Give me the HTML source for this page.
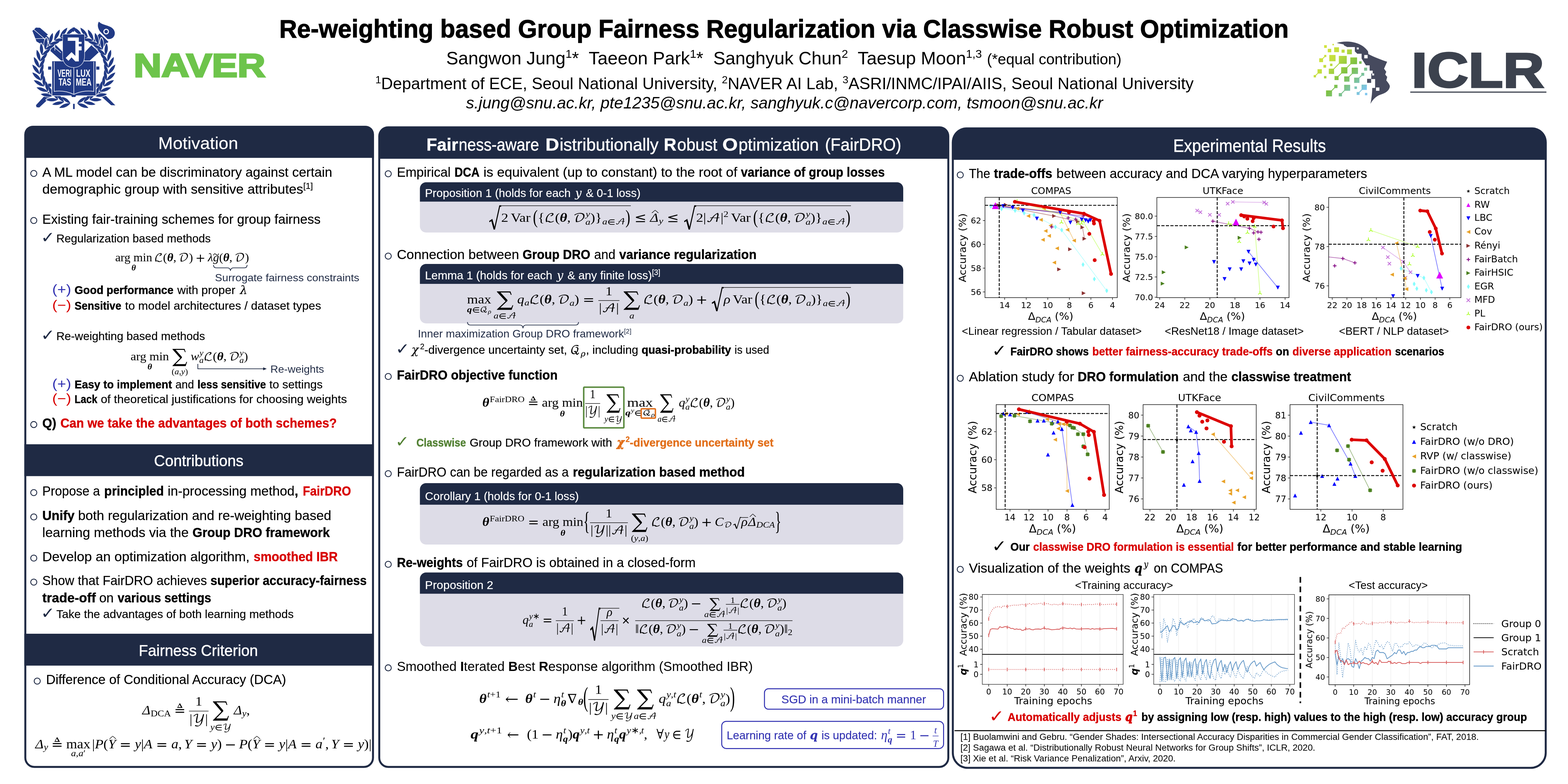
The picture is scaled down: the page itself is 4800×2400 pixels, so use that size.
<!DOCTYPE html>
<html lang="en">
<head>
<meta charset="utf-8">
<title>Re-weighting based Group Fairness Regularization via Classwise Robust Optimization</title>
<style>
html,body{margin:0;padding:0;background:#fff;}
body{width:4800px;height:2400px;overflow:hidden;font-family:'Liberation Sans',sans-serif;}
svg{display:block;}
text{white-space:pre;}
</style>
</head>
<body>
<svg width="4800" height="2400" viewBox="0 0 4800 2400">

<!-- header: logos, title, authors, affiliations -->
<g class="poster-header">
<g class="logo-snu">
<polygon points="99.1,94.2 110.8,84.9 120.1,86.1 353.0,322.5 340.1,322.0 139.9,143.2 111.9,126.9" fill="#213a85"/>
<polygon points="99.8,96.6 128.2,117.5 146.9,105.9 122.4,84.9 109.6,84.5" fill="#213a85"/>
<polyline points="102.6,89.6 186.4,161.8" stroke="#fff" stroke-width="1.6" fill="none"/>
<polyline points="102.6,118.7 132.9,117.5 167.8,138.5 167.8,154.8" stroke="#fff" stroke-width="1.6" fill="none"/>
<polygon points="110.1,322.0 279.6,138.5 302.9,159.5 120.1,329.0 111.9,328.3" fill="#213a85"/>
<polygon points="274.9,131.5 305.2,102.4 332.0,128.0 302.9,158.3" fill="#213a85"/>
<polyline points="278.4,130.3 306.4,156.0" stroke="#fff" stroke-width="2.4" fill="none"/>
<path d="M306.4,96.6 C293.6,77.9 302.9,66.3 302.9,66.3 C314.5,80.3 347.1,75.6 351.3,98.9 C353.0,115.2 337.8,122.2 328.5,118.7 Z" fill="#213a85"/>
<circle cx="325.0" cy="96.6" r="7" fill="none" stroke="#fff" stroke-width="3.2"/>
<ellipse cx="253.6" cy="323.2" rx="19.7" ry="6.5" transform="rotate(22.3 253.6 323.2)" fill="#fff"/>
<ellipse cx="249.9" cy="306.5" rx="17.7" ry="6.0" transform="rotate(-35.7 249.9 306.5)" fill="#fff"/>
<ellipse cx="274.1" cy="316.0" rx="19.7" ry="6.5" transform="rotate(11.6 274.1 316.0)" fill="#fff"/>
<ellipse cx="267.4" cy="300.4" rx="17.7" ry="6.0" transform="rotate(-46.4 267.4 300.4)" fill="#fff"/>
<ellipse cx="292.9" cy="305.2" rx="19.7" ry="6.5" transform="rotate(0.8 292.9 305.2)" fill="#fff"/>
<ellipse cx="283.4" cy="291.1" rx="17.7" ry="6.0" transform="rotate(-57.2 283.4 291.1)" fill="#fff"/>
<ellipse cx="309.4" cy="291.1" rx="19.7" ry="6.5" transform="rotate(-9.9 309.4 291.1)" fill="#fff"/>
<ellipse cx="297.4" cy="279.0" rx="17.7" ry="6.0" transform="rotate(-67.9 297.4 279.0)" fill="#fff"/>
<ellipse cx="322.9" cy="274.1" rx="19.7" ry="6.5" transform="rotate(-20.7 322.9 274.1)" fill="#fff"/>
<ellipse cx="308.9" cy="264.5" rx="17.7" ry="6.0" transform="rotate(-78.7 308.9 264.5)" fill="#fff"/>
<ellipse cx="333.1" cy="254.9" rx="19.7" ry="6.5" transform="rotate(-31.4 333.1 254.9)" fill="#fff"/>
<ellipse cx="317.4" cy="248.1" rx="17.7" ry="6.0" transform="rotate(-89.4 317.4 248.1)" fill="#fff"/>
<ellipse cx="339.4" cy="234.2" rx="19.7" ry="6.5" transform="rotate(-42.2 339.4 234.2)" fill="#fff"/>
<ellipse cx="322.8" cy="230.4" rx="17.7" ry="6.0" transform="rotate(-100.2 322.8 230.4)" fill="#fff"/>
<ellipse cx="341.8" cy="212.6" rx="19.7" ry="6.5" transform="rotate(-52.9 341.8 212.6)" fill="#fff"/>
<ellipse cx="324.8" cy="212.0" rx="17.7" ry="6.0" transform="rotate(-110.9 324.8 212.0)" fill="#fff"/>
<ellipse cx="340.1" cy="191.0" rx="19.7" ry="6.5" transform="rotate(-63.7 340.1 191.0)" fill="#fff"/>
<ellipse cx="323.3" cy="193.5" rx="17.7" ry="6.0" transform="rotate(-121.7 323.3 193.5)" fill="#fff"/>
<ellipse cx="334.5" cy="170.0" rx="19.7" ry="6.5" transform="rotate(-74.4 334.5 170.0)" fill="#fff"/>
<ellipse cx="318.4" cy="175.7" rx="17.7" ry="6.0" transform="rotate(-132.4 318.4 175.7)" fill="#fff"/>
<ellipse cx="325.0" cy="150.5" rx="19.7" ry="6.5" transform="rotate(-85.2 325.0 150.5)" fill="#fff"/>
<ellipse cx="310.2" cy="159.1" rx="17.7" ry="6.0" transform="rotate(-143.2 310.2 159.1)" fill="#fff"/>
<ellipse cx="312.0" cy="133.1" rx="19.7" ry="6.5" transform="rotate(-95.9 312.0 133.1)" fill="#fff"/>
<ellipse cx="299.1" cy="144.3" rx="17.7" ry="6.0" transform="rotate(-153.9 299.1 144.3)" fill="#fff"/>
<ellipse cx="296.1" cy="118.5" rx="19.7" ry="6.5" transform="rotate(-106.7 296.1 118.5)" fill="#fff"/>
<ellipse cx="285.5" cy="131.8" rx="17.7" ry="6.0" transform="rotate(-164.7 285.5 131.8)" fill="#fff"/>
<ellipse cx="277.6" cy="107.0" rx="19.7" ry="6.5" transform="rotate(-117.4 277.6 107.0)" fill="#fff"/>
<ellipse cx="269.7" cy="122.1" rx="17.7" ry="6.0" transform="rotate(-175.4 269.7 122.1)" fill="#fff"/>
<ellipse cx="257.4" cy="99.2" rx="19.7" ry="6.5" transform="rotate(-128.2 257.4 99.2)" fill="#fff"/>
<ellipse cx="252.4" cy="115.5" rx="17.7" ry="6.0" transform="rotate(-186.2 252.4 115.5)" fill="#fff"/>
<ellipse cx="236.0" cy="95.3" rx="19.7" ry="6.5" transform="rotate(-138.9 236.0 95.3)" fill="#fff"/>
<ellipse cx="234.2" cy="112.3" rx="17.7" ry="6.0" transform="rotate(-196.9 234.2 112.3)" fill="#fff"/>
<ellipse cx="198.4" cy="323.2" rx="19.7" ry="6.5" transform="rotate(157.7 198.4 323.2)" fill="#fff"/>
<ellipse cx="202.1" cy="306.5" rx="17.7" ry="6.0" transform="rotate(215.7 202.1 306.5)" fill="#fff"/>
<ellipse cx="177.9" cy="316.0" rx="19.7" ry="6.5" transform="rotate(168.4 177.9 316.0)" fill="#fff"/>
<ellipse cx="184.7" cy="300.4" rx="17.7" ry="6.0" transform="rotate(226.4 184.7 300.4)" fill="#fff"/>
<ellipse cx="159.1" cy="305.2" rx="19.7" ry="6.5" transform="rotate(179.2 159.1 305.2)" fill="#fff"/>
<ellipse cx="168.7" cy="291.1" rx="17.7" ry="6.0" transform="rotate(237.2 168.7 291.1)" fill="#fff"/>
<ellipse cx="142.7" cy="291.1" rx="19.7" ry="6.5" transform="rotate(189.9 142.7 291.1)" fill="#fff"/>
<ellipse cx="154.7" cy="279.0" rx="17.7" ry="6.0" transform="rotate(247.9 154.7 279.0)" fill="#fff"/>
<ellipse cx="129.1" cy="274.1" rx="19.7" ry="6.5" transform="rotate(200.7 129.1 274.1)" fill="#fff"/>
<ellipse cx="143.2" cy="264.5" rx="17.7" ry="6.0" transform="rotate(258.7 143.2 264.5)" fill="#fff"/>
<ellipse cx="119.0" cy="254.9" rx="19.7" ry="6.5" transform="rotate(211.4 119.0 254.9)" fill="#fff"/>
<ellipse cx="134.6" cy="248.1" rx="17.7" ry="6.0" transform="rotate(269.4 134.6 248.1)" fill="#fff"/>
<ellipse cx="112.6" cy="234.2" rx="19.7" ry="6.5" transform="rotate(222.2 112.6 234.2)" fill="#fff"/>
<ellipse cx="129.3" cy="230.4" rx="17.7" ry="6.0" transform="rotate(280.2 129.3 230.4)" fill="#fff"/>
<ellipse cx="110.2" cy="212.6" rx="19.7" ry="6.5" transform="rotate(232.9 110.2 212.6)" fill="#fff"/>
<ellipse cx="127.3" cy="212.0" rx="17.7" ry="6.0" transform="rotate(290.9 127.3 212.0)" fill="#fff"/>
<ellipse cx="111.9" cy="191.0" rx="19.7" ry="6.5" transform="rotate(243.7 111.9 191.0)" fill="#fff"/>
<ellipse cx="128.8" cy="193.5" rx="17.7" ry="6.0" transform="rotate(301.7 128.8 193.5)" fill="#fff"/>
<ellipse cx="117.6" cy="170.0" rx="19.7" ry="6.5" transform="rotate(254.4 117.6 170.0)" fill="#fff"/>
<ellipse cx="133.7" cy="175.7" rx="17.7" ry="6.0" transform="rotate(312.4 133.7 175.7)" fill="#fff"/>
<ellipse cx="127.1" cy="150.5" rx="19.7" ry="6.5" transform="rotate(265.2 127.1 150.5)" fill="#fff"/>
<ellipse cx="141.8" cy="159.1" rx="17.7" ry="6.0" transform="rotate(323.2 141.8 159.1)" fill="#fff"/>
<ellipse cx="140.0" cy="133.1" rx="19.7" ry="6.5" transform="rotate(275.9 140.0 133.1)" fill="#fff"/>
<ellipse cx="152.9" cy="144.3" rx="17.7" ry="6.0" transform="rotate(333.9 152.9 144.3)" fill="#fff"/>
<ellipse cx="156.0" cy="118.5" rx="19.7" ry="6.5" transform="rotate(286.7 156.0 118.5)" fill="#fff"/>
<ellipse cx="166.6" cy="131.8" rx="17.7" ry="6.0" transform="rotate(344.7 166.6 131.8)" fill="#fff"/>
<ellipse cx="174.4" cy="107.0" rx="19.7" ry="6.5" transform="rotate(297.4 174.4 107.0)" fill="#fff"/>
<ellipse cx="182.4" cy="122.1" rx="17.7" ry="6.0" transform="rotate(355.4 182.4 122.1)" fill="#fff"/>
<ellipse cx="194.7" cy="99.2" rx="19.7" ry="6.5" transform="rotate(308.2 194.7 99.2)" fill="#fff"/>
<ellipse cx="199.7" cy="115.5" rx="17.7" ry="6.0" transform="rotate(366.2 199.7 115.5)" fill="#fff"/>
<ellipse cx="216.0" cy="95.3" rx="19.7" ry="6.5" transform="rotate(318.9 216.0 95.3)" fill="#fff"/>
<ellipse cx="217.9" cy="112.3" rx="17.7" ry="6.0" transform="rotate(376.9 217.9 112.3)" fill="#fff"/>
<path d="M-18.5,0 Q0,-10.0 18.5,0 Q0,10.0 -18.5,0Z" transform="translate(253.6,323.2) rotate(22.3)" fill="#213a85"/>
<path d="M-16.5,0 Q0,-9.0 16.5,0 Q0,9.0 -16.5,0Z" transform="translate(249.9,306.5) rotate(-35.7)" fill="#213a85"/>
<path d="M-18.5,0 Q0,-10.0 18.5,0 Q0,10.0 -18.5,0Z" transform="translate(274.1,316.0) rotate(11.6)" fill="#213a85"/>
<path d="M-16.5,0 Q0,-9.0 16.5,0 Q0,9.0 -16.5,0Z" transform="translate(267.4,300.4) rotate(-46.4)" fill="#213a85"/>
<path d="M-18.5,0 Q0,-10.0 18.5,0 Q0,10.0 -18.5,0Z" transform="translate(292.9,305.2) rotate(0.8)" fill="#213a85"/>
<path d="M-16.5,0 Q0,-9.0 16.5,0 Q0,9.0 -16.5,0Z" transform="translate(283.4,291.1) rotate(-57.2)" fill="#213a85"/>
<path d="M-18.5,0 Q0,-10.0 18.5,0 Q0,10.0 -18.5,0Z" transform="translate(309.4,291.1) rotate(-9.9)" fill="#213a85"/>
<path d="M-16.5,0 Q0,-9.0 16.5,0 Q0,9.0 -16.5,0Z" transform="translate(297.4,279.0) rotate(-67.9)" fill="#213a85"/>
<path d="M-18.5,0 Q0,-10.0 18.5,0 Q0,10.0 -18.5,0Z" transform="translate(322.9,274.1) rotate(-20.7)" fill="#213a85"/>
<path d="M-16.5,0 Q0,-9.0 16.5,0 Q0,9.0 -16.5,0Z" transform="translate(308.9,264.5) rotate(-78.7)" fill="#213a85"/>
<path d="M-18.5,0 Q0,-10.0 18.5,0 Q0,10.0 -18.5,0Z" transform="translate(333.1,254.9) rotate(-31.4)" fill="#213a85"/>
<path d="M-16.5,0 Q0,-9.0 16.5,0 Q0,9.0 -16.5,0Z" transform="translate(317.4,248.1) rotate(-89.4)" fill="#213a85"/>
<path d="M-18.5,0 Q0,-10.0 18.5,0 Q0,10.0 -18.5,0Z" transform="translate(339.4,234.2) rotate(-42.2)" fill="#213a85"/>
<path d="M-16.5,0 Q0,-9.0 16.5,0 Q0,9.0 -16.5,0Z" transform="translate(322.8,230.4) rotate(-100.2)" fill="#213a85"/>
<path d="M-18.5,0 Q0,-10.0 18.5,0 Q0,10.0 -18.5,0Z" transform="translate(341.8,212.6) rotate(-52.9)" fill="#213a85"/>
<path d="M-16.5,0 Q0,-9.0 16.5,0 Q0,9.0 -16.5,0Z" transform="translate(324.8,212.0) rotate(-110.9)" fill="#213a85"/>
<path d="M-18.5,0 Q0,-10.0 18.5,0 Q0,10.0 -18.5,0Z" transform="translate(340.1,191.0) rotate(-63.7)" fill="#213a85"/>
<path d="M-16.5,0 Q0,-9.0 16.5,0 Q0,9.0 -16.5,0Z" transform="translate(323.3,193.5) rotate(-121.7)" fill="#213a85"/>
<path d="M-18.5,0 Q0,-10.0 18.5,0 Q0,10.0 -18.5,0Z" transform="translate(334.5,170.0) rotate(-74.4)" fill="#213a85"/>
<path d="M-16.5,0 Q0,-9.0 16.5,0 Q0,9.0 -16.5,0Z" transform="translate(318.4,175.7) rotate(-132.4)" fill="#213a85"/>
<path d="M-18.5,0 Q0,-10.0 18.5,0 Q0,10.0 -18.5,0Z" transform="translate(325.0,150.5) rotate(-85.2)" fill="#213a85"/>
<path d="M-16.5,0 Q0,-9.0 16.5,0 Q0,9.0 -16.5,0Z" transform="translate(310.2,159.1) rotate(-143.2)" fill="#213a85"/>
<path d="M-18.5,0 Q0,-10.0 18.5,0 Q0,10.0 -18.5,0Z" transform="translate(312.0,133.1) rotate(-95.9)" fill="#213a85"/>
<path d="M-16.5,0 Q0,-9.0 16.5,0 Q0,9.0 -16.5,0Z" transform="translate(299.1,144.3) rotate(-153.9)" fill="#213a85"/>
<path d="M-18.5,0 Q0,-10.0 18.5,0 Q0,10.0 -18.5,0Z" transform="translate(296.1,118.5) rotate(-106.7)" fill="#213a85"/>
<path d="M-16.5,0 Q0,-9.0 16.5,0 Q0,9.0 -16.5,0Z" transform="translate(285.5,131.8) rotate(-164.7)" fill="#213a85"/>
<path d="M-18.5,0 Q0,-10.0 18.5,0 Q0,10.0 -18.5,0Z" transform="translate(277.6,107.0) rotate(-117.4)" fill="#213a85"/>
<path d="M-16.5,0 Q0,-9.0 16.5,0 Q0,9.0 -16.5,0Z" transform="translate(269.7,122.1) rotate(-175.4)" fill="#213a85"/>
<path d="M-18.5,0 Q0,-10.0 18.5,0 Q0,10.0 -18.5,0Z" transform="translate(257.4,99.2) rotate(-128.2)" fill="#213a85"/>
<path d="M-16.5,0 Q0,-9.0 16.5,0 Q0,9.0 -16.5,0Z" transform="translate(252.4,115.5) rotate(-186.2)" fill="#213a85"/>
<path d="M-18.5,0 Q0,-10.0 18.5,0 Q0,10.0 -18.5,0Z" transform="translate(236.0,95.3) rotate(-138.9)" fill="#213a85"/>
<path d="M-16.5,0 Q0,-9.0 16.5,0 Q0,9.0 -16.5,0Z" transform="translate(234.2,112.3) rotate(-196.9)" fill="#213a85"/>
<path d="M-18.5,0 Q0,-10.0 18.5,0 Q0,10.0 -18.5,0Z" transform="translate(198.4,323.2) rotate(157.7)" fill="#213a85"/>
<path d="M-16.5,0 Q0,-9.0 16.5,0 Q0,9.0 -16.5,0Z" transform="translate(202.1,306.5) rotate(215.7)" fill="#213a85"/>
<path d="M-18.5,0 Q0,-10.0 18.5,0 Q0,10.0 -18.5,0Z" transform="translate(177.9,316.0) rotate(168.4)" fill="#213a85"/>
<path d="M-16.5,0 Q0,-9.0 16.5,0 Q0,9.0 -16.5,0Z" transform="translate(184.7,300.4) rotate(226.4)" fill="#213a85"/>
<path d="M-18.5,0 Q0,-10.0 18.5,0 Q0,10.0 -18.5,0Z" transform="translate(159.1,305.2) rotate(179.2)" fill="#213a85"/>
<path d="M-16.5,0 Q0,-9.0 16.5,0 Q0,9.0 -16.5,0Z" transform="translate(168.7,291.1) rotate(237.2)" fill="#213a85"/>
<path d="M-18.5,0 Q0,-10.0 18.5,0 Q0,10.0 -18.5,0Z" transform="translate(142.7,291.1) rotate(189.9)" fill="#213a85"/>
<path d="M-16.5,0 Q0,-9.0 16.5,0 Q0,9.0 -16.5,0Z" transform="translate(154.7,279.0) rotate(247.9)" fill="#213a85"/>
<path d="M-18.5,0 Q0,-10.0 18.5,0 Q0,10.0 -18.5,0Z" transform="translate(129.1,274.1) rotate(200.7)" fill="#213a85"/>
<path d="M-16.5,0 Q0,-9.0 16.5,0 Q0,9.0 -16.5,0Z" transform="translate(143.2,264.5) rotate(258.7)" fill="#213a85"/>
<path d="M-18.5,0 Q0,-10.0 18.5,0 Q0,10.0 -18.5,0Z" transform="translate(119.0,254.9) rotate(211.4)" fill="#213a85"/>
<path d="M-16.5,0 Q0,-9.0 16.5,0 Q0,9.0 -16.5,0Z" transform="translate(134.6,248.1) rotate(269.4)" fill="#213a85"/>
<path d="M-18.5,0 Q0,-10.0 18.5,0 Q0,10.0 -18.5,0Z" transform="translate(112.6,234.2) rotate(222.2)" fill="#213a85"/>
<path d="M-16.5,0 Q0,-9.0 16.5,0 Q0,9.0 -16.5,0Z" transform="translate(129.3,230.4) rotate(280.2)" fill="#213a85"/>
<path d="M-18.5,0 Q0,-10.0 18.5,0 Q0,10.0 -18.5,0Z" transform="translate(110.2,212.6) rotate(232.9)" fill="#213a85"/>
<path d="M-16.5,0 Q0,-9.0 16.5,0 Q0,9.0 -16.5,0Z" transform="translate(127.3,212.0) rotate(290.9)" fill="#213a85"/>
<path d="M-18.5,0 Q0,-10.0 18.5,0 Q0,10.0 -18.5,0Z" transform="translate(111.9,191.0) rotate(243.7)" fill="#213a85"/>
<path d="M-16.5,0 Q0,-9.0 16.5,0 Q0,9.0 -16.5,0Z" transform="translate(128.8,193.5) rotate(301.7)" fill="#213a85"/>
<path d="M-18.5,0 Q0,-10.0 18.5,0 Q0,10.0 -18.5,0Z" transform="translate(117.6,170.0) rotate(254.4)" fill="#213a85"/>
<path d="M-16.5,0 Q0,-9.0 16.5,0 Q0,9.0 -16.5,0Z" transform="translate(133.7,175.7) rotate(312.4)" fill="#213a85"/>
<path d="M-18.5,0 Q0,-10.0 18.5,0 Q0,10.0 -18.5,0Z" transform="translate(127.1,150.5) rotate(265.2)" fill="#213a85"/>
<path d="M-16.5,0 Q0,-9.0 16.5,0 Q0,9.0 -16.5,0Z" transform="translate(141.8,159.1) rotate(323.2)" fill="#213a85"/>
<path d="M-18.5,0 Q0,-10.0 18.5,0 Q0,10.0 -18.5,0Z" transform="translate(140.0,133.1) rotate(275.9)" fill="#213a85"/>
<path d="M-16.5,0 Q0,-9.0 16.5,0 Q0,9.0 -16.5,0Z" transform="translate(152.9,144.3) rotate(333.9)" fill="#213a85"/>
<path d="M-18.5,0 Q0,-10.0 18.5,0 Q0,10.0 -18.5,0Z" transform="translate(156.0,118.5) rotate(286.7)" fill="#213a85"/>
<path d="M-16.5,0 Q0,-9.0 16.5,0 Q0,9.0 -16.5,0Z" transform="translate(166.6,131.8) rotate(344.7)" fill="#213a85"/>
<path d="M-18.5,0 Q0,-10.0 18.5,0 Q0,10.0 -18.5,0Z" transform="translate(174.4,107.0) rotate(297.4)" fill="#213a85"/>
<path d="M-16.5,0 Q0,-9.0 16.5,0 Q0,9.0 -16.5,0Z" transform="translate(182.4,122.1) rotate(355.4)" fill="#213a85"/>
<path d="M-18.5,0 Q0,-10.0 18.5,0 Q0,10.0 -18.5,0Z" transform="translate(194.7,99.2) rotate(308.2)" fill="#213a85"/>
<path d="M-16.5,0 Q0,-9.0 16.5,0 Q0,9.0 -16.5,0Z" transform="translate(199.7,115.5) rotate(366.2)" fill="#213a85"/>
<path d="M-18.5,0 Q0,-10.0 18.5,0 Q0,10.0 -18.5,0Z" transform="translate(216.0,95.3) rotate(318.9)" fill="#213a85"/>
<path d="M-16.5,0 Q0,-9.0 16.5,0 Q0,9.0 -16.5,0Z" transform="translate(217.9,112.3) rotate(376.9)" fill="#213a85"/>
<rect x="223.7" y="317.8" width="5" height="16" fill="#213a85"/>
<circle cx="224.4" cy="94.2" r="3" fill="#213a85"/>
<rect x="157.7" y="185.4" width="137.2" height="108.8" fill="#fff"/>
<path d="M159.7,187.4 H292.9 V292.2 L233.0,292.2 L230.7,296.9 H220.2 L217.9,292.2 H159.7 Z" fill="#213a85"/>
<path d="M165.9,188.8 V279.9 Q196.0,274.9 226.0,288.9 Q256.5,274.9 287.0,279.9 V188.8" fill="none" stroke="#fff" stroke-width="1.7"/>
<line x1="226.0" y1="203.7" x2="226.0" y2="288.9" stroke="#fff" stroke-width="1.7"/>
<rect x="147.3" y="203.7" width="9.5" height="9.5" fill="#213a85"/>
<rect x="294.7" y="203.7" width="9.5" height="9.5" fill="#213a85"/>
<rect x="147.3" y="256.1" width="9.5" height="9.5" fill="#213a85"/>
<rect x="294.7" y="256.1" width="9.5" height="9.5" fill="#213a85"/>
<text id="t1" x="176.0" y="235.1" font-family="'Liberation Sans', sans-serif" font-size="30.5" font-weight="bold" fill="#fff" textLength="43.1" lengthAdjust="spacingAndGlyphs" >VERI</text>
<text id="t2" x="179.5" y="262.4" font-family="'Liberation Sans', sans-serif" font-size="30.5" font-weight="bold" fill="#fff" textLength="38.4" lengthAdjust="spacingAndGlyphs" >TAS</text>
<text id="t3" x="233.0" y="235.1" font-family="'Liberation Sans', sans-serif" font-size="30.5" font-weight="bold" fill="#fff" textLength="43.5" lengthAdjust="spacingAndGlyphs" >LUX</text>
<text id="t4" x="231.9" y="262.4" font-family="'Liberation Sans', sans-serif" font-size="30.5" font-weight="bold" fill="#fff" textLength="48.2" lengthAdjust="spacingAndGlyphs" >MEA</text>
<path d="M192.3,105.2 H258.2 V172.3 C258.2,194.4 243.5,206.0 225.3,206.0 C207.4,206.0 192.3,194.4 192.3,172.3 Z" fill="#213a85" stroke="#fff" stroke-width="2.6" paint-order="stroke"/>
<polygon points="207.4,114.7 241.2,114.7 241.2,128.0 249.8,128.0 249.8,134.3 241.2,134.3 241.2,142.0 249.8,142.0 249.8,154.3 241.2,154.3 241.2,187.9 230.7,187.9 219.0,175.8 209.7,186.2 200.9,177.6 219.0,159.5 230.7,171.1 230.7,125.0 207.4,125.0" fill="#fff"/>
</g>
<g class="logo-naver">
<text x="409.5" y="234.5" font-family="'Liberation Sans', sans-serif" font-size="100.3" font-weight="bold" fill="#6dc44b" stroke="#6dc44b" stroke-width="5" stroke-linejoin="miter" textLength="402.5" lengthAdjust="spacingAndGlyphs">NAVER</text>
</g>
<text id="t5" x="855.0" y="115.4" font-family="'Liberation Sans', sans-serif" font-size="78.5" font-weight="bold" textLength="3090.0" lengthAdjust="spacingAndGlyphs" stroke="#000" stroke-width="1.5">Re-weighting based Group Fairness Regularization via Classwise Robust Optimization</text>
<text id="t6" x="1366.0" y="197.1" font-family="'Liberation Sans', sans-serif" font-size="55.2" textLength="2067.0" lengthAdjust="spacingAndGlyphs" >Sangwon Jung<tspan font-size="35" dy="-20">1</tspan><tspan dy="20">​</tspan>*  Taeeon Park<tspan font-size="35" dy="-20">1</tspan><tspan dy="20">​</tspan>*  Sanghyuk Chun<tspan font-size="35" dy="-20">2</tspan><tspan dy="20">​</tspan>  Taesup Moon<tspan font-size="35" dy="-20">1,3</tspan><tspan dy="20">​</tspan> <tspan font-size="46">(*equal contribution)</tspan></text>
<text id="t7" x="1149.0" y="272.8" font-family="'Liberation Sans', sans-serif" font-size="50" textLength="2505.0" lengthAdjust="spacingAndGlyphs" ><tspan font-size="32" dy="-18">1</tspan><tspan dy="18">​</tspan>Department of ECE, Seoul National University, <tspan font-size="32" dy="-18">2</tspan><tspan dy="18">​</tspan>NAVER AI Lab, <tspan font-size="32" dy="-18">3</tspan><tspan dy="18">​</tspan>ASRI/INMC/IPAI/AIIS, Seoul National University</text>
<text id="t8" x="1426.5" y="331.9" font-family="'Liberation Sans', sans-serif" font-size="50" font-style="italic" textLength="1950.0" lengthAdjust="spacingAndGlyphs" >s.jung@snu.ac.kr, pte1235@snu.ac.kr, sanghyuk.c@navercorp.com, tsmoon@snu.ac.kr</text>
<g class="logo-iclr">
<defs><linearGradient id="iclrg" gradientUnits="userSpaceOnUse" x1="4030" y1="140" x2="4190" y2="295"><stop offset="0" stop-color="#d9e63c"/><stop offset="0.3" stop-color="#c3de3e"/><stop offset="0.55" stop-color="#7dc142"/><stop offset="0.75" stop-color="#7cc3a6"/><stop offset="0.9" stop-color="#7fc6ee"/></linearGradient></defs>
<path d="M4092.0,131.5 C4118.0,123.3 4165.2,124.8 4187.9,157.2 L4188.8,165.5 C4206.5,174.9 4230.1,183.8 4246.3,189.1 L4236.9,210.3 L4243.7,219.8 L4240.4,228.0 L4246.6,235.4 L4243.7,246.3 C4250.8,254.6 4256.1,261.9 4254.3,266.4 C4250.8,282.6 4233.1,287.0 4221.3,291.4 C4206.5,298.8 4199.1,310.6 4195.3,318.0 C4198.3,301.8 4200.6,287.0 4200.6,269.3 L4209.5,269.3 L4209.5,241.9 L4197.7,241.9 L4197.7,225.1 L4202.1,225.1 L4202.1,216.2 L4192.7,216.2 L4192.7,200.0 L4181.4,200.0 L4168.2,179.3 L4168.2,164.6 L4154.9,164.6 L4147.5,157.2 L4147.5,143.9 L4123.9,143.9 L4113.6,138.6 L4113.6,136.0 Z" fill="#464a5e"/>
<rect x="4153.4" y="145.4" width="5.9" height="5.9" fill="#fff"/>
<rect x="4176.3" y="168.3" width="10.3" height="10.3" fill="#fff"/>
<rect x="4200.6" y="225.1" width="5.9" height="5.9" fill="#fff"/>
<rect x="4212.3" y="267.7" width="10.3" height="10.3" fill="#fff"/>
<rect x="4185.0" y="241.3" width="12.4" height="12.4" fill="#464a5e"/>
<g fill="url(#iclrg)" stroke="url(#iclrg)">
<line x1="4056.9" y1="171.4" x2="4044.3" y2="184.3" stroke-width="2.6"/>
<line x1="4110.6" y1="183.2" x2="4075.8" y2="218.3" stroke-width="2.6"/>
<line x1="4144.0" y1="186.1" x2="4115.1" y2="215.3" stroke-width="2.6"/>
<line x1="4039.8" y1="218.6" x2="4025.1" y2="233.3" stroke-width="2.6"/>
<line x1="4115.1" y1="215.3" x2="4091.5" y2="238.9" stroke-width="2.6"/>
<line x1="4147.5" y1="216.8" x2="4123.0" y2="241.9" stroke-width="2.6"/>
<line x1="4171.7" y1="227.4" x2="4153.4" y2="245.7" stroke-width="2.6"/>
<line x1="4089.4" y1="264.6" x2="4068.4" y2="285.8" stroke-width="2.6"/>
<line x1="4123.9" y1="268.7" x2="4103.3" y2="290.0" stroke-width="2.6"/>
<line x1="4176.1" y1="267.3" x2="4157.5" y2="286.1" stroke-width="2.6"/>
<rect x="4053.4" y="138.3" width="8.3" height="8.3" stroke="none"/>
<rect x="4078.9" y="134.3" width="4.4" height="4.4" stroke="none"/>
<rect x="4064.6" y="149.5" width="10.6" height="10.6" stroke="none"/>
<rect x="4084.1" y="144.8" width="14.8" height="14.8" stroke="none"/>
<rect x="4106.8" y="151.9" width="9.4" height="9.4" stroke="none"/>
<rect x="4123.6" y="151.3" width="14.8" height="14.8" stroke="none"/>
<rect x="4053.7" y="168.1" width="6.5" height="6.5" stroke="none"/>
<rect x="4038.4" y="178.4" width="11.8" height="11.8" stroke="none"/>
<rect x="4069.2" y="168.3" width="19.2" height="19.2" stroke="none"/>
<rect x="4098.5" y="171.1" width="24.2" height="24.2" stroke="none"/>
<rect x="4133.6" y="175.8" width="20.7" height="20.7" stroke="none"/>
<rect x="4160.5" y="187.6" width="7.7" height="7.7" stroke="none"/>
<rect x="4071.5" y="194.8" width="7.4" height="7.4" stroke="none"/>
<rect x="4051.3" y="198.8" width="8.3" height="8.3" stroke="none"/>
<rect x="4067.7" y="210.2" width="16.2" height="16.2" stroke="none"/>
<rect x="4105.5" y="205.7" width="19.2" height="19.2" stroke="none"/>
<rect x="4137.9" y="207.2" width="19.2" height="19.2" stroke="none"/>
<rect x="4175.8" y="207.1" width="9.4" height="9.4" stroke="none"/>
<rect x="4033.2" y="211.9" width="13.3" height="13.3" stroke="none"/>
<rect x="4021.5" y="229.8" width="7.1" height="7.1" stroke="none"/>
<rect x="4053.0" y="232.6" width="7.4" height="7.4" stroke="none"/>
<rect x="4085.3" y="232.7" width="12.4" height="12.4" stroke="none"/>
<rect x="4114.9" y="233.8" width="16.2" height="16.2" stroke="none"/>
<rect x="4145.3" y="237.6" width="16.2" height="16.2" stroke="none"/>
<rect x="4167.3" y="223.0" width="8.9" height="8.9" stroke="none"/>
<rect x="4084.4" y="259.6" width="10.0" height="10.0" stroke="none"/>
<rect x="4059.3" y="276.7" width="18.3" height="18.3" stroke="none"/>
<rect x="4114.8" y="259.6" width="18.3" height="18.3" stroke="none"/>
<rect x="4098.2" y="285.0" width="10.0" height="10.0" stroke="none"/>
<rect x="4146.3" y="264.6" width="7.7" height="7.7" stroke="none"/>
<rect x="4168.0" y="259.1" width="16.2" height="16.2" stroke="none"/>
<rect x="4153.1" y="281.7" width="8.9" height="8.9" stroke="none"/>
<rect x="4178.5" y="284.4" width="7.1" height="7.1" stroke="none"/>
</g>
<text x="4321" y="267.3" font-family="'Liberation Sans', sans-serif" font-size="150" font-weight="bold" fill="#3c424e" stroke="#3c424e" stroke-width="5" stroke-linejoin="miter" textLength="406" lengthAdjust="spacingAndGlyphs">ICLR</text>
<line x1="4318.5" y1="282" x2="4732.5" y2="282" stroke="#3c424e" stroke-width="3.6" stroke-linecap="round"/>
</g>
</g>

<!-- left panel: Motivation / Contributions / Fairness Criterion -->
<g class="panel-left">
<path d="M77.5,410.9 V2319.8 A28,28 0 0 0 105.5,2347.8 H1113.8 A28,28 0 0 0 1141.8,2319.8 V410.9" fill="none" stroke="#1f2a44" stroke-width="6" />
<path d="M74.5,483.3 V410.9 A26,26 0 0 1 100.5,384.9 H1118.8 A26,26 0 0 1 1144.8,410.9 V483.3 Z" fill="#1f2a44" />
<rect x="74.5" y="1360.0" width="1070.0" height="97.5" fill="#1f2a44" />
<rect x="74.5" y="1940.0" width="1070.0" height="97.6" fill="#1f2a44" />
<text id="t9" x="484.5" y="456.4" font-family="'Liberation Sans', sans-serif" font-size="52" fill="#fff" textLength="244.5" lengthAdjust="spacingAndGlyphs" stroke="#fff" stroke-width="0.25" >Motivation</text>
<text id="t10" x="471.6" y="1426.6" font-family="'Liberation Sans', sans-serif" font-size="48.5" fill="#fff" textLength="273.7" lengthAdjust="spacingAndGlyphs" stroke="#fff" stroke-width="0.7">Contributions</text>
<text id="t11" x="424.8" y="2008.0" font-family="'Liberation Sans', sans-serif" font-size="48.5" fill="#fff" textLength="364.8" lengthAdjust="spacingAndGlyphs" stroke="#fff" stroke-width="0.7">Fairness Criterion</text>
<circle cx="103.4" cy="531.0" r="9.3" fill="none" stroke="#1f2a44" stroke-width="2.6" />
<text id="t12" x="129.5" y="540.7" font-family="'Liberation Sans', sans-serif" font-size="40.5" textLength="887.5" lengthAdjust="spacingAndGlyphs" stroke="#000" stroke-width="0.25" >A ML model can be discriminatory against certain</text>
<text id="t13" x="129.5" y="593.0" font-family="'Liberation Sans', sans-serif" font-size="40.5" textLength="828.5" lengthAdjust="spacingAndGlyphs" stroke="#000" stroke-width="0.25" >demographic group with sensitive attributes<tspan font-size="26" dy="-15">[1]</tspan><tspan dy="15">​</tspan></text>
<circle cx="103.4" cy="675.0" r="9.3" fill="none" stroke="#1f2a44" stroke-width="2.6" />
<text id="t14" x="129.5" y="684.7" font-family="'Liberation Sans', sans-serif" font-size="40.5" textLength="852.0" lengthAdjust="spacingAndGlyphs" stroke="#000" stroke-width="0.25" >Existing fair-training schemes for group fairness</text>
<text transform="translate(125.1,742.8) scale(1.068,0.997)" font-family="'DejaVu Sans', sans-serif" font-size="48" font-weight="bold" fill="#1f2a44">✓</text>
<text id="t15" x="172.4" y="742.0" font-family="'Liberation Sans', sans-serif" font-size="34.5" textLength="472.6" lengthAdjust="spacingAndGlyphs" stroke="#000" stroke-width="0.25" >Regularization based methods</text>
<text id="t16" x="658.0" y="860.8" font-family="'Liberation Sans', sans-serif" font-size="31.5" fill="#1f2a44" textLength="442.0" lengthAdjust="spacingAndGlyphs" >Surrogate fairness constraints</text>
<text id="t17" x="159.8" y="900.4" font-family="'Liberation Sans', sans-serif" font-size="41" fill="#3333b2" textLength="58.2" lengthAdjust="spacingAndGlyphs" >(+)</text>
<text id="t18" font-family="'Liberation Sans', sans-serif" font-size="34.5"><tspan x="228.3" y="900.4" textLength="302.7" lengthAdjust="spacingAndGlyphs" font-weight="bold" stroke="#000" stroke-width="0.6">Good performance</tspan> <tspan x="542.7" y="900.4" textLength="214.3" lengthAdjust="spacingAndGlyphs" stroke="#000" stroke-width="0.25">with proper <tspan font-family="'DejaVu Math TeX Gyre', 'DejaVu Serif', serif">𝜆</tspan></tspan></text>
<text id="t19" x="159.8" y="947.5" font-family="'Liberation Sans', sans-serif" font-size="41" fill="#d80000" textLength="58.2" lengthAdjust="spacingAndGlyphs" >(−)</text>
<text id="t20" font-family="'Liberation Sans', sans-serif" font-size="34.5"><tspan x="228.3" y="947.5" textLength="143.0" lengthAdjust="spacingAndGlyphs" font-weight="bold" stroke="#000" stroke-width="0.6">Sensitive</tspan> <tspan x="382.9" y="947.5" textLength="600.1" lengthAdjust="spacingAndGlyphs" stroke="#000" stroke-width="0.25">to model architectures / dataset types</tspan></text>
<text transform="translate(125.1,1041.5) scale(1.068,0.997)" font-family="'DejaVu Sans', sans-serif" font-size="48" font-weight="bold" fill="#1f2a44">✓</text>
<text id="t21" x="172.4" y="1040.7" font-family="'Liberation Sans', sans-serif" font-size="34.5" textLength="455.1" lengthAdjust="spacingAndGlyphs" stroke="#000" stroke-width="0.25" >Re-weighting based methods</text>
<text id="t22" x="827.8" y="1140.8" font-family="'Liberation Sans', sans-serif" font-size="31.5" fill="#1f2a44" textLength="164.2" lengthAdjust="spacingAndGlyphs" >Re-weights</text>
<text id="t23" x="159.8" y="1188.8" font-family="'Liberation Sans', sans-serif" font-size="41" fill="#3333b2" textLength="58.2" lengthAdjust="spacingAndGlyphs" >(+)</text>
<text id="t24" font-family="'Liberation Sans', sans-serif" font-size="34.5"><tspan x="228.3" y="1188.8" textLength="298.1" lengthAdjust="spacingAndGlyphs" font-weight="bold" stroke="#000" stroke-width="0.6">Easy to implement</tspan> <tspan x="537.1" y="1188.8" textLength="56.9" lengthAdjust="spacingAndGlyphs" stroke="#000" stroke-width="0.25">and</tspan> <tspan x="604.6" y="1188.8" textLength="209.7" lengthAdjust="spacingAndGlyphs" font-weight="bold" stroke="#000" stroke-width="0.6">less sensitive</tspan> <tspan x="824.5" y="1188.8" textLength="163.1" lengthAdjust="spacingAndGlyphs" stroke="#000" stroke-width="0.25">to settings</tspan></text>
<text id="t25" x="159.8" y="1234.0" font-family="'Liberation Sans', sans-serif" font-size="41" fill="#d80000" textLength="58.2" lengthAdjust="spacingAndGlyphs" >(−)</text>
<text id="t26" font-family="'Liberation Sans', sans-serif" font-size="34.5"><tspan x="228.3" y="1234.0" textLength="69.8" lengthAdjust="spacingAndGlyphs" font-weight="bold" stroke="#000" stroke-width="0.6">Lack</tspan> <tspan x="308.4" y="1234.0" textLength="753.6" lengthAdjust="spacingAndGlyphs" stroke="#000" stroke-width="0.25">of theoretical justifications for choosing weights</tspan></text>
<circle cx="103.4" cy="1299.7" r="9.3" fill="none" stroke="#1f2a44" stroke-width="2.6" />
<text id="t27" font-family="'Liberation Sans', sans-serif" font-size="40.5"><tspan x="129.5" y="1309.0" textLength="42.9" lengthAdjust="spacingAndGlyphs" font-weight="bold" stroke="#000" stroke-width="0.6">Q)</tspan> <tspan x="185.0" y="1309.0" textLength="846.0" lengthAdjust="spacingAndGlyphs" font-weight="bold" fill="#d80000" stroke="#d80000" stroke-width="0.6">Can we take the advantages of both schemes?</tspan></text>
<circle cx="103.4" cy="1508.0" r="9.3" fill="none" stroke="#1f2a44" stroke-width="2.6" />
<text id="t28" font-family="'Liberation Sans', sans-serif" font-size="40.5"><tspan x="129.5" y="1517.4" textLength="176.5" lengthAdjust="spacingAndGlyphs" stroke="#000" stroke-width="0.25">Propose a</tspan> <tspan x="319.1" y="1517.4" textLength="182.6" lengthAdjust="spacingAndGlyphs" font-weight="bold" stroke="#000" stroke-width="0.6">principled</tspan> <tspan x="513.3" y="1517.4" textLength="399.7" lengthAdjust="spacingAndGlyphs" stroke="#000" stroke-width="0.25">in-processing method<tspan font-weight="bold">,</tspan></tspan> <tspan x="927.0" y="1517.4" textLength="147.7" lengthAdjust="spacingAndGlyphs" font-weight="bold" fill="#d80000" stroke="#d80000" stroke-width="0.6">FairDRO</tspan></text>
<circle cx="103.4" cy="1582.5" r="9.3" fill="none" stroke="#1f2a44" stroke-width="2.6" />
<text id="t29" font-family="'Liberation Sans', sans-serif" font-size="40.5"><tspan x="129.5" y="1592.0" textLength="98.8" lengthAdjust="spacingAndGlyphs" font-weight="bold" stroke="#000" stroke-width="0.6">Unify</tspan> <tspan x="239.0" y="1592.0" textLength="775.0" lengthAdjust="spacingAndGlyphs" stroke="#000" stroke-width="0.25">both regularization and re-weighting based</tspan></text>
<text id="t30" font-family="'Liberation Sans', sans-serif" font-size="40.5"><tspan x="129.5" y="1644.0" textLength="448.1" lengthAdjust="spacingAndGlyphs" stroke="#000" stroke-width="0.25">learning methods via the</tspan> <tspan x="589.3" y="1644.0" textLength="420.2" lengthAdjust="spacingAndGlyphs" font-weight="bold" stroke="#000" stroke-width="0.6">Group DRO framework</tspan></text>
<circle cx="103.4" cy="1708.5" r="9.3" fill="none" stroke="#1f2a44" stroke-width="2.6" />
<text id="t31" font-family="'Liberation Sans', sans-serif" font-size="40.5"><tspan x="129.5" y="1718.0" textLength="634.5" lengthAdjust="spacingAndGlyphs" stroke="#000" stroke-width="0.25">Develop an optimization algorithm,</tspan> <tspan x="776.5" y="1718.0" textLength="257.5" lengthAdjust="spacingAndGlyphs" font-weight="bold" fill="#d80000" stroke="#d80000" stroke-width="0.6">smoothed IBR</tspan></text>
<circle cx="103.4" cy="1782.0" r="9.3" fill="none" stroke="#1f2a44" stroke-width="2.6" />
<text id="t32" font-family="'Liberation Sans', sans-serif" font-size="40.5"><tspan x="129.5" y="1791.3" textLength="504.0" lengthAdjust="spacingAndGlyphs" stroke="#000" stroke-width="0.25">Show that FairDRO achieves</tspan> <tspan x="644.2" y="1791.3" textLength="478.4" lengthAdjust="spacingAndGlyphs" font-weight="bold" stroke="#000" stroke-width="0.6">superior accuracy-fairness</tspan></text>
<text id="t33" font-family="'Liberation Sans', sans-serif" font-size="40.5"><tspan x="129.5" y="1844.0" textLength="164.0" lengthAdjust="spacingAndGlyphs" font-weight="bold" stroke="#000" stroke-width="0.6">trade-off</tspan> <tspan x="303.7" y="1844.0" textLength="44.3" lengthAdjust="spacingAndGlyphs" stroke="#000" stroke-width="0.25">on</tspan> <tspan x="360.0" y="1844.0" textLength="286.6" lengthAdjust="spacingAndGlyphs" font-weight="bold" stroke="#000" stroke-width="0.6">various settings</tspan></text>
<text transform="translate(125.1,1893.2) scale(1.068,0.997)" font-family="'DejaVu Sans', sans-serif" font-size="48" font-weight="bold" fill="#1f2a44">✓</text>
<text id="t34" x="172.4" y="1892.4" font-family="'Liberation Sans', sans-serif" font-size="34.5" textLength="726.6" lengthAdjust="spacingAndGlyphs" stroke="#000" stroke-width="0.25" >Take the advantages of both learning methods</text>
<circle cx="114.0" cy="2085.0" r="9.3" fill="none" stroke="#1f2a44" stroke-width="2.6" />
<text id="t35" x="141.0" y="2094.4" font-family="'Liberation Sans', sans-serif" font-size="40.5" textLength="734.8" lengthAdjust="spacingAndGlyphs" stroke="#000" stroke-width="0.25" >Difference of Conditional Accuracy (DCA)</text>
<g transform="translate(352.7,800.0) scale(1.0557,1)" fill="#000">
<text x="0.0" y="0.0" font-family="'Liberation Serif', serif" font-size="35.0">arg min</text>
<text x="47.3" y="28.0" font-family="'Liberation Serif', serif" font-size="24.5" font-style="italic" font-weight="bold">θ</text>
<text x="113.2" y="0.0" font-family="'DejaVu Math TeX Gyre', serif" font-size="33.2">ℒ</text>
<text x="138.7" y="0.0" font-family="'Liberation Serif', serif" font-size="35.0">(</text>
<text x="150.4" y="0.0" font-family="'Liberation Serif', serif" font-size="35.0" font-style="italic" font-weight="bold">θ</text>
<text x="168.5" y="0.0" font-family="'Liberation Serif', serif" font-size="35.0">,</text>
<text x="183.2" y="0.0" font-family="'DejaVu Math TeX Gyre', serif" font-size="33.2">𝒟</text>
<text x="213.9" y="0.0" font-family="'Liberation Serif', serif" font-size="35.0">)</text>
<text x="233.3" y="0.0" font-family="'DejaVu Math TeX Gyre', serif" font-size="35.0">+</text>
<text x="268.6" y="0.0" font-family="'Liberation Serif', serif" font-size="35.0" font-style="italic">λ</text>
<text x="283.7" y="0.0" font-family="'Liberation Serif', serif" font-size="35.0" font-style="italic">g</text>
<text transform="translate(283.5,-8.9) scale(0.950,1.000)" font-family="'Liberation Serif', serif" font-size="35.0">~</text>
<text x="301.2" y="0.0" font-family="'Liberation Serif', serif" font-size="35.0">(</text>
<text x="312.9" y="0.0" font-family="'Liberation Serif', serif" font-size="35.0" font-style="italic" font-weight="bold">θ</text>
<text x="331.0" y="0.0" font-family="'Liberation Serif', serif" font-size="35.0">,</text>
<text x="345.7" y="0.0" font-family="'DejaVu Math TeX Gyre', serif" font-size="33.2">𝒟</text>
<text x="376.4" y="0.0" font-family="'Liberation Serif', serif" font-size="35.0">)</text>
</g>
<path d="M653.5,811 q0,9 9,9 h34 q8,0 9,9 q1,-9 9,-9 h33 q9,0 9,-9" fill="none" stroke="#1f2a44" stroke-width="2.2" />
<g transform="translate(399.7,1102.6) scale(1.0963,1)" fill="#000">
<text x="0.0" y="0.0" font-family="'Liberation Serif', serif" font-size="35.0">arg min</text>
<text x="47.3" y="28.0" font-family="'Liberation Serif', serif" font-size="24.5" font-style="italic" font-weight="bold">θ</text>
<text x="113.2" y="5.0" font-family="'DejaVu Math TeX Gyre', serif" font-size="50.0">∑</text>
<text x="114.7" y="43.0" font-family="'Liberation Serif', serif" font-size="24.5">(</text>
<text x="122.9" y="43.0" font-family="'Liberation Serif', serif" font-size="24.5" font-style="italic">a</text>
<text x="135.2" y="43.0" font-family="'Liberation Serif', serif" font-size="24.5">,</text>
<text x="141.3" y="43.0" font-family="'Liberation Serif', serif" font-size="24.5" font-style="italic">y</text>
<text x="152.2" y="43.0" font-family="'Liberation Serif', serif" font-size="24.5">)</text>
<text x="167.8" y="0.0" font-family="'Liberation Serif', serif" font-size="35.0" font-style="italic">w</text>
<text x="191.9" y="8.8" font-family="'Liberation Serif', serif" font-size="24.5" font-style="italic">a</text>
<text x="192.6" y="-14.0" font-family="'Liberation Serif', serif" font-size="24.5" font-style="italic">y</text>
<text x="204.1" y="0.0" font-family="'DejaVu Math TeX Gyre', serif" font-size="33.2">ℒ</text>
<text x="229.6" y="0.0" font-family="'Liberation Serif', serif" font-size="35.0">(</text>
<text x="241.3" y="0.0" font-family="'Liberation Serif', serif" font-size="35.0" font-style="italic" font-weight="bold">θ</text>
<text x="259.4" y="0.0" font-family="'Liberation Serif', serif" font-size="35.0">,</text>
<text x="274.1" y="0.0" font-family="'DejaVu Math TeX Gyre', serif" font-size="33.2">𝒟</text>
<text x="304.1" y="8.8" font-family="'Liberation Serif', serif" font-size="24.5" font-style="italic">a</text>
<text x="304.8" y="-14.0" font-family="'Liberation Serif', serif" font-size="24.5" font-style="italic">y</text>
<text x="316.4" y="0.0" font-family="'Liberation Serif', serif" font-size="35.0">)</text>
</g>
<path d="M605.6,1114 V1129 H808" fill="none" stroke="#1f2a44" stroke-width="2.2" />
<path d="M816.5,1129 l-11,-4.5 v9 z" fill="#1f2a44" />
<g transform="translate(435.6,2186.6) scale(1.0671,1)" fill="#000">
<text x="0.0" y="0.0" font-family="'Liberation Serif', serif" font-size="39.5" font-style="italic">Δ</text>
<text x="24.0" y="5.9" font-family="'Liberation Serif', serif" font-size="27.6">DCA</text>
<text x="92.2" y="0.0" font-family="'DejaVu Math TeX Gyre', serif" font-size="39.5">≜</text>
<text x="152.1" y="-26.7" font-family="'Liberation Serif', serif" font-size="39.5">1</text>
<text x="135.6" y="27.1" font-family="'Liberation Serif', serif" font-size="39.5">|</text>
<text x="143.5" y="27.1" font-family="'DejaVu Math TeX Gyre', serif" font-size="37.5">𝒴</text>
<text x="180.4" y="27.1" font-family="'Liberation Serif', serif" font-size="39.5">|</text>
<line x1="133.9" y1="-9.9" x2="190.0" y2="-9.9" stroke="#000" stroke-width="1.6"/>
<text x="198.2" y="5.6" font-family="'DejaVu Math TeX Gyre', serif" font-size="56.4">∑</text>
<text x="195.4" y="48.6" font-family="'Liberation Serif', serif" font-size="27.6" font-style="italic">y</text>
<text x="207.7" y="48.6" font-family="'DejaVu Math TeX Gyre', serif" font-size="27.6">∈</text>
<text x="230.0" y="48.6" font-family="'DejaVu Math TeX Gyre', serif" font-size="26.3">𝒴</text>
<text x="262.6" y="0.0" font-family="'Liberation Serif', serif" font-size="39.5" font-style="italic">Δ</text>
<text x="286.5" y="5.9" font-family="'Liberation Serif', serif" font-size="27.6" font-style="italic">y</text>
<text x="298.8" y="0.0" font-family="'Liberation Serif', serif" font-size="39.5">,</text>
</g>
<g transform="translate(108.0,2290.5) scale(1.0871,1)" fill="#000">
<text x="0.0" y="0.0" font-family="'Liberation Serif', serif" font-size="39.5" font-style="italic">Δ</text>
<text x="24.0" y="5.9" font-family="'Liberation Serif', serif" font-size="27.6" font-style="italic">y</text>
<text x="46.1" y="0.0" font-family="'DejaVu Math TeX Gyre', serif" font-size="39.5">≜</text>
<text x="87.1" y="0.0" font-family="'Liberation Serif', serif" font-size="39.5">max</text>
<text x="100.8" y="24.5" font-family="'Liberation Serif', serif" font-size="27.6" font-style="italic">a</text>
<text x="114.6" y="24.5" font-family="'Liberation Serif', serif" font-size="27.6">,</text>
<text x="121.6" y="24.5" font-family="'Liberation Serif', serif" font-size="27.6" font-style="italic">a</text>
<text x="135.4" y="24.5" font-family="'Liberation Serif', serif" font-size="27.6">′</text>
<text x="159.9" y="0.0" font-family="'Liberation Serif', serif" font-size="39.5">|</text>
<text x="167.8" y="0.0" font-family="'Liberation Serif', serif" font-size="39.5" font-style="italic">P</text>
<text x="191.9" y="0.0" font-family="'Liberation Serif', serif" font-size="39.5">(</text>
<text x="205.1" y="0.0" font-family="'Liberation Serif', serif" font-size="39.5" font-style="italic">Y</text>
<text transform="translate(207.4,-24.7) scale(1.150,0.500)" font-family="'Liberation Serif', serif" font-size="39.5">^</text>
<text x="238.1" y="0.0" font-family="'DejaVu Math TeX Gyre', serif" font-size="39.5">=</text>
<text x="280.3" y="0.0" font-family="'Liberation Serif', serif" font-size="39.5" font-style="italic">y</text>
<text x="297.8" y="0.0" font-family="'Liberation Serif', serif" font-size="39.5">|</text>
<text x="305.7" y="0.0" font-family="'Liberation Serif', serif" font-size="39.5" font-style="italic">A</text>
<text x="340.9" y="0.0" font-family="'DejaVu Math TeX Gyre', serif" font-size="39.5">=</text>
<text x="383.1" y="0.0" font-family="'Liberation Serif', serif" font-size="39.5" font-style="italic">a</text>
<text x="402.8" y="0.0" font-family="'Liberation Serif', serif" font-size="39.5">,</text>
<text x="419.4" y="0.0" font-family="'Liberation Serif', serif" font-size="39.5" font-style="italic">Y</text>
<text x="452.5" y="0.0" font-family="'DejaVu Math TeX Gyre', serif" font-size="39.5">=</text>
<text x="494.6" y="0.0" font-family="'Liberation Serif', serif" font-size="39.5" font-style="italic">y</text>
<text x="512.2" y="0.0" font-family="'Liberation Serif', serif" font-size="39.5">)</text>
<text x="534.0" y="0.0" font-family="'DejaVu Math TeX Gyre', serif" font-size="39.5">−</text>
<text x="573.8" y="0.0" font-family="'Liberation Serif', serif" font-size="39.5" font-style="italic">P</text>
<text x="598.0" y="0.0" font-family="'Liberation Serif', serif" font-size="39.5">(</text>
<text x="611.1" y="0.0" font-family="'Liberation Serif', serif" font-size="39.5" font-style="italic">Y</text>
<text transform="translate(613.4,-24.7) scale(1.150,0.500)" font-family="'Liberation Serif', serif" font-size="39.5">^</text>
<text x="644.1" y="0.0" font-family="'DejaVu Math TeX Gyre', serif" font-size="39.5">=</text>
<text x="686.3" y="0.0" font-family="'Liberation Serif', serif" font-size="39.5" font-style="italic">y</text>
<text x="703.9" y="0.0" font-family="'Liberation Serif', serif" font-size="39.5">|</text>
<text x="711.8" y="0.0" font-family="'Liberation Serif', serif" font-size="39.5" font-style="italic">A</text>
<text x="747.0" y="0.0" font-family="'DejaVu Math TeX Gyre', serif" font-size="39.5">=</text>
<text x="789.1" y="0.0" font-family="'Liberation Serif', serif" font-size="39.5" font-style="italic">a</text>
<text x="809.7" y="-11.8" font-family="'Liberation Serif', serif" font-size="31.6">′</text>
<text x="816.6" y="0.0" font-family="'Liberation Serif', serif" font-size="39.5">,</text>
<text x="833.2" y="0.0" font-family="'Liberation Serif', serif" font-size="39.5" font-style="italic">Y</text>
<text x="866.2" y="0.0" font-family="'DejaVu Math TeX Gyre', serif" font-size="39.5">=</text>
<text x="908.4" y="0.0" font-family="'Liberation Serif', serif" font-size="39.5" font-style="italic">y</text>
<text x="925.9" y="0.0" font-family="'Liberation Serif', serif" font-size="39.5">)</text>
<text x="939.1" y="0.0" font-family="'Liberation Serif', serif" font-size="39.5">|</text>
</g>
</g>

<!-- middle panel: FairDRO method -->
<g class="panel-mid">
<path d="M1161.0,416.7 V2319.8 A28,28 0 0 0 1189.0,2347.8 H2875.0 A28,28 0 0 0 2903.0,2319.8 V416.7" fill="none" stroke="#1f2a44" stroke-width="6" />
<path d="M1158,486 V416.7 A30,30 0 0 1 1188,386.7 H2876 A30,30 0 0 1 2906,416.7 V486 Z" fill="#1f2a44" />
<text id="t36" font-family="'Liberation Sans', sans-serif" font-size="54.2"><tspan x="1305.5" y="460.7" textLength="97.2" lengthAdjust="spacingAndGlyphs" font-weight="bold" fill="#fff" stroke="#fff" stroke-width="0.7">Fair</tspan><tspan x="1404.2" y="460.7" textLength="246.0" lengthAdjust="spacingAndGlyphs" fill="#fff" stroke="#fff" stroke-width="0.7">ness-aware</tspan> <tspan x="1669.8" y="460.7" textLength="41.9" lengthAdjust="spacingAndGlyphs" font-weight="bold" fill="#fff" stroke="#fff" stroke-width="0.7">D</tspan><tspan x="1713.2" y="460.7" textLength="302.8" lengthAdjust="spacingAndGlyphs" fill="#fff" stroke="#fff" stroke-width="0.7">istributionally</tspan> <tspan x="2032.1" y="460.7" textLength="38.6" lengthAdjust="spacingAndGlyphs" font-weight="bold" fill="#fff" stroke="#fff" stroke-width="0.7">R</tspan><tspan x="2073.0" y="460.7" textLength="122.8" lengthAdjust="spacingAndGlyphs" fill="#fff" stroke="#fff" stroke-width="0.7">obust</tspan> <tspan x="2211.2" y="460.7" textLength="47.2" lengthAdjust="spacingAndGlyphs" font-weight="bold" fill="#fff" stroke="#fff" stroke-width="0.7">O</tspan><tspan x="2260.8" y="460.7" textLength="245.5" lengthAdjust="spacingAndGlyphs" fill="#fff" stroke="#fff" stroke-width="0.7">ptimization</tspan> <tspan x="2525.5" y="460.7" textLength="233.5" lengthAdjust="spacingAndGlyphs" fill="#fff" stroke="#fff" stroke-width="0.7">(FairDRO)</tspan></text>
<circle cx="1188.5" cy="532.0" r="9.3" fill="none" stroke="#1f2a44" stroke-width="2.6" />
<text id="t37" font-family="'Liberation Sans', sans-serif" font-size="40.5"><tspan x="1215.0" y="540.7" textLength="164.5" lengthAdjust="spacingAndGlyphs" stroke="#000" stroke-width="0.25">Empirical</tspan> <tspan x="1391.6" y="540.7" textLength="76.4" lengthAdjust="spacingAndGlyphs" font-weight="bold" stroke="#000" stroke-width="0.6">DCA</tspan> <tspan x="1480.0" y="540.7" textLength="777.0" lengthAdjust="spacingAndGlyphs" stroke="#000" stroke-width="0.25">is equivalent (up to constant) to the root of</tspan> <tspan x="2268.0" y="540.7" textLength="440.5" lengthAdjust="spacingAndGlyphs" font-weight="bold" stroke="#000" stroke-width="0.6">variance of group losses</tspan></text>
<path d="M1285.4,617.6 V577 A19,19 0 0 1 1304.4,558 H2746 A19,19 0 0 1 2765,577 V617.6 Z" fill="#1f2a44" />
<path d="M1285.4,617.6 V692.7 A19,19 0 0 0 1304.4,711.7 H2746 A19,19 0 0 0 2765,692.7 V617.6 Z" fill="#dddce7" />
<text id="t38" x="1301.0" y="603.1" font-family="'Liberation Sans', sans-serif" font-size="35" fill="#fff" textLength="659.8" lengthAdjust="spacingAndGlyphs" stroke="#fff" stroke-width="0.25" >Proposition 1 (holds for each <tspan font-family="'DejaVu Math TeX Gyre', 'DejaVu Serif', serif">𝑦</tspan> &amp; 0-1 loss)</text>
<circle cx="1188.5" cy="784.0" r="9.3" fill="none" stroke="#1f2a44" stroke-width="2.6" />
<text id="t39" font-family="'Liberation Sans', sans-serif" font-size="40.5"><tspan x="1215.0" y="793.2" textLength="374.0" lengthAdjust="spacingAndGlyphs" stroke="#000" stroke-width="0.25">Connection between</tspan> <tspan x="1599.8" y="793.2" textLength="207.2" lengthAdjust="spacingAndGlyphs" font-weight="bold" stroke="#000" stroke-width="0.6">Group DRO</tspan> <tspan x="1818.7" y="793.2" textLength="65.3" lengthAdjust="spacingAndGlyphs" stroke="#000" stroke-width="0.25">and</tspan> <tspan x="1895.6" y="793.2" textLength="420.4" lengthAdjust="spacingAndGlyphs" font-weight="bold" stroke="#000" stroke-width="0.6">variance regularization</tspan></text>
<path d="M1285.4,869 V827 A19,19 0 0 1 1304.4,808 H2746 A19,19 0 0 1 2765,827 V869 Z" fill="#1f2a44" />
<path d="M1285.4,869 V971 A19,19 0 0 0 1304.4,990 H2746 A19,19 0 0 0 2765,971 V869 Z" fill="#dddce7" />
<text id="t40" x="1301.0" y="854.5" font-family="'Liberation Sans', sans-serif" font-size="35" fill="#fff" textLength="720.4" lengthAdjust="spacingAndGlyphs" stroke="#fff" stroke-width="0.25" >Lemma 1 (holds for each <tspan font-family="'DejaVu Math TeX Gyre', 'DejaVu Serif', serif">𝑦</tspan> &amp; any finite loss)<tspan font-size="23" dy="-13">[3]</tspan><tspan dy="13">​</tspan></text>
<text id="t41" x="1279.3" y="1032.8" font-family="'Liberation Sans', sans-serif" font-size="32.5" fill="#1f2a44" textLength="653.7" lengthAdjust="spacingAndGlyphs" >Inner maximization Group DRO framework<tspan font-size="20" dy="-12">[2]</tspan><tspan dy="12">​</tspan></text>
<text transform="translate(1211.1,1083.8) scale(1.068,0.997)" font-family="'DejaVu Sans', sans-serif" font-size="48" font-weight="bold" fill="#1f2a44">✓</text>
<text id="t42" font-family="'Liberation Sans', sans-serif" font-size="34.5"><tspan x="1255.0" y="1083.0" textLength="698.8" lengthAdjust="spacingAndGlyphs" stroke="#000" stroke-width="0.25"><tspan font-family="'DejaVu Math TeX Gyre', 'DejaVu Serif', serif">𝜒</tspan><tspan font-size="23" dy="-14">2</tspan><tspan dy="14">​</tspan>-divergence uncertainty set, <tspan font-family="'DejaVu Math TeX Gyre', 'DejaVu Serif', serif">𝒬</tspan><tspan font-family="'DejaVu Math TeX Gyre', 'DejaVu Serif', serif" font-size="24" dy="8">𝜌</tspan><tspan dy="-8">,</tspan> including</tspan> <tspan x="1964.0" y="1083.0" textLength="274.0" lengthAdjust="spacingAndGlyphs" font-weight="bold" stroke="#000" stroke-width="0.6">quasi-probability</tspan> <tspan x="2248.8" y="1083.0" textLength="105.9" lengthAdjust="spacingAndGlyphs" stroke="#000" stroke-width="0.25">is used</tspan></text>
<circle cx="1188.5" cy="1152.5" r="9.3" fill="none" stroke="#1f2a44" stroke-width="2.6" />
<text id="t43" x="1215.0" y="1161.8" font-family="'Liberation Sans', sans-serif" font-size="40.5" font-weight="bold" textLength="492.0" lengthAdjust="spacingAndGlyphs" stroke="#000" stroke-width="0.6" >FairDRO objective function</text>
<text transform="translate(1210.1,1368.0) scale(1.068,0.997)" font-family="'DejaVu Sans', sans-serif" font-size="48" font-weight="bold" fill="#548235">✓</text>
<text id="t44" font-family="'Liberation Sans', sans-serif" font-size="34.5"><tspan x="1274.7" y="1367.2" textLength="151.8" lengthAdjust="spacingAndGlyphs" font-weight="bold" fill="#548235" stroke="#548235" stroke-width="0.6">Classwise</tspan> <tspan x="1437.7" y="1367.2" textLength="436.0" lengthAdjust="spacingAndGlyphs" stroke="#000" stroke-width="0.25">Group DRO framework with</tspan> <tspan x="1884.0" y="1367.2" textLength="483.7" lengthAdjust="spacingAndGlyphs" font-weight="bold" fill="#e2701c" stroke="#e2701c" stroke-width="0.6"><tspan font-family="'DejaVu Math TeX Gyre', 'DejaVu Serif', serif">𝝌</tspan><tspan font-size="23" dy="-14">2</tspan><tspan dy="14">​</tspan>-divergence uncertainty set</tspan></text>
<circle cx="1188.5" cy="1450.0" r="9.3" fill="none" stroke="#1f2a44" stroke-width="2.6" />
<text id="t45" font-family="'Liberation Sans', sans-serif" font-size="40.5"><tspan x="1215.0" y="1459.3" textLength="526.0" lengthAdjust="spacingAndGlyphs" stroke="#000" stroke-width="0.25">FairDRO can be regarded as a</tspan> <tspan x="1753.5" y="1459.3" textLength="526.5" lengthAdjust="spacingAndGlyphs" font-weight="bold" stroke="#000" stroke-width="0.6">regularization based method</tspan></text>
<path d="M1285.4,1545.3 V1498 A19,19 0 0 1 1304.4,1479 H2746 A19,19 0 0 1 2765,1498 V1545.3 Z" fill="#1f2a44" />
<path d="M1285.4,1545.3 V1648 A19,19 0 0 0 1304.4,1667 H2746 A19,19 0 0 0 2765,1648 V1545.3 Z" fill="#dddce7" />
<text id="t46" x="1301.0" y="1530.8" font-family="'Liberation Sans', sans-serif" font-size="35" fill="#fff" textLength="471.0" lengthAdjust="spacingAndGlyphs" stroke="#fff" stroke-width="0.25" >Corollary 1 (holds for 0-1 loss)</text>
<circle cx="1188.5" cy="1727.5" r="9.3" fill="none" stroke="#1f2a44" stroke-width="2.6" />
<text id="t47" font-family="'Liberation Sans', sans-serif" font-size="40.5"><tspan x="1215.0" y="1736.3" textLength="201.7" lengthAdjust="spacingAndGlyphs" font-weight="bold" stroke="#000" stroke-width="0.6">Re-weights</tspan> <tspan x="1428.4" y="1736.3" textLength="701.1" lengthAdjust="spacingAndGlyphs" stroke="#000" stroke-width="0.25">of FairDRO is obtained in a closed-form</tspan></text>
<path d="M1285.4,1817.8 V1771.6 A19,19 0 0 1 1304.4,1752.6 H2746 A19,19 0 0 1 2765,1771.6 V1817.8 Z" fill="#1f2a44" />
<path d="M1285.4,1817.8 V1960 A19,19 0 0 0 1304.4,1979 H2746 A19,19 0 0 0 2765,1960 V1817.8 Z" fill="#dddce7" />
<text id="t48" x="1301.0" y="1803.3" font-family="'Liberation Sans', sans-serif" font-size="35" fill="#fff" textLength="209.0" lengthAdjust="spacingAndGlyphs" stroke="#fff" stroke-width="0.25" >Proposition 2</text>
<circle cx="1188.5" cy="2044.4" r="9.3" fill="none" stroke="#1f2a44" stroke-width="2.6" />
<text id="t49" x="1215.0" y="2053.7" font-family="'Liberation Sans', sans-serif" font-size="40.5" textLength="1089.6" lengthAdjust="spacingAndGlyphs" >Smoothed <tspan font-weight="bold">I</tspan>terated <tspan font-weight="bold">B</tspan>est <tspan font-weight="bold">R</tspan>esponse algorithm (Smoothed IBR)</text>
<rect x="2340.2" y="2108.5" width="548.3" height="62.5" fill="#fff" stroke="#3333b2" stroke-width="3" rx="12" />
<text id="t50" x="2392.0" y="2153.0" font-family="'Liberation Sans', sans-serif" font-size="34.5" fill="#3333b2" textLength="442.8" lengthAdjust="spacingAndGlyphs" stroke="#3333b2" stroke-width="0.25" >SGD in a mini-batch manner</text>
<rect x="2209.4" y="2208.2" width="679.1" height="83.2" fill="#fff" stroke="#3333b2" stroke-width="3" rx="14" />
<text id="t51" x="2224.5" y="2263.0" font-family="'Liberation Sans', sans-serif" font-size="34.5" fill="#3333b2" textLength="460.5" lengthAdjust="spacingAndGlyphs" stroke="#3333b2" stroke-width="0.25" >Learning rate of <tspan font-family="'DejaVu Math TeX Gyre', 'DejaVu Serif', serif">𝒒</tspan> is updated:</text>
<g transform="translate(1492.7,679.0) scale(1.1652,1)" fill="#000">
<text transform="translate(0.0,15.7) scale(1.321,2.265)" font-family="'DejaVu Math TeX Gyre', serif" font-size="37.5">√</text>
<line x1="34.9" y1="-49.2" x2="376.2" y2="-49.2" stroke="#000" stroke-width="1.5"/>
<text x="35.6" y="0.0" font-family="'Liberation Serif', serif" font-size="37.5">2</text>
<text x="60.7" y="0.0" font-family="'Liberation Serif', serif" font-size="37.5">Var</text>
<text transform="translate(119.2,5.0) scale(1.000,1.599)" font-family="'Liberation Serif', serif" font-size="37.5">(</text>
<text x="131.7" y="0.0" font-family="'Liberation Serif', serif" font-size="37.5">{</text>
<text x="149.7" y="0.0" font-family="'DejaVu Math TeX Gyre', serif" font-size="35.6">ℒ</text>
<text x="177.0" y="0.0" font-family="'Liberation Serif', serif" font-size="37.5">(</text>
<text x="189.5" y="0.0" font-family="'Liberation Serif', serif" font-size="37.5" font-style="italic" font-weight="bold">θ</text>
<text x="208.9" y="0.0" font-family="'Liberation Serif', serif" font-size="37.5">,</text>
<text x="224.7" y="0.0" font-family="'DejaVu Math TeX Gyre', serif" font-size="35.6">𝒟</text>
<text x="256.8" y="9.4" font-family="'Liberation Serif', serif" font-size="26.2" font-style="italic">a</text>
<text x="257.6" y="-15.0" font-family="'Liberation Serif', serif" font-size="26.2" font-style="italic">y</text>
<text x="270.0" y="0.0" font-family="'Liberation Serif', serif" font-size="37.5">)</text>
<text x="282.4" y="0.0" font-family="'Liberation Serif', serif" font-size="37.5">}</text>
<text x="301.2" y="7.5" font-family="'Liberation Serif', serif" font-size="26.2" font-style="italic">a</text>
<text x="314.3" y="7.5" font-family="'DejaVu Math TeX Gyre', serif" font-size="26.2">∈</text>
<text x="335.5" y="7.5" font-family="'DejaVu Math TeX Gyre', serif" font-size="24.9">𝒜</text>
<text transform="translate(362.2,5.0) scale(1.000,1.599)" font-family="'Liberation Serif', serif" font-size="37.5">)</text>
<text x="386.7" y="0.0" font-family="'DejaVu Math TeX Gyre', serif" font-size="37.5">≤</text>
<text x="426.9" y="0.0" font-family="'Liberation Serif', serif" font-size="37.5" font-style="italic">Δ</text>
<text transform="translate(430.1,-23.4) scale(1.150,0.500)" font-family="'Liberation Serif', serif" font-size="37.5">^</text>
<text x="449.7" y="5.6" font-family="'Liberation Serif', serif" font-size="26.2" font-style="italic">y</text>
<text x="471.9" y="0.0" font-family="'DejaVu Math TeX Gyre', serif" font-size="37.5">≤</text>
<text transform="translate(512.1,15.7) scale(1.321,2.265)" font-family="'DejaVu Math TeX Gyre', serif" font-size="37.5">√</text>
<line x1="547.0" y1="-49.2" x2="954.6" y2="-49.2" stroke="#000" stroke-width="1.5"/>
<text x="547.8" y="0.0" font-family="'Liberation Serif', serif" font-size="37.5">2</text>
<text x="566.5" y="0.0" font-family="'Liberation Serif', serif" font-size="37.5">|</text>
<text x="574.0" y="0.0" font-family="'DejaVu Math TeX Gyre', serif" font-size="35.6">𝒜</text>
<text x="612.2" y="0.0" font-family="'Liberation Serif', serif" font-size="37.5">|</text>
<text x="619.7" y="-15.0" font-family="'Liberation Serif', serif" font-size="26.2">2</text>
<text x="639.2" y="0.0" font-family="'Liberation Serif', serif" font-size="37.5">Var</text>
<text transform="translate(697.6,5.0) scale(1.000,1.599)" font-family="'Liberation Serif', serif" font-size="37.5">(</text>
<text x="710.1" y="0.0" font-family="'Liberation Serif', serif" font-size="37.5">{</text>
<text x="728.1" y="0.0" font-family="'DejaVu Math TeX Gyre', serif" font-size="35.6">ℒ</text>
<text x="755.4" y="0.0" font-family="'Liberation Serif', serif" font-size="37.5">(</text>
<text x="767.9" y="0.0" font-family="'Liberation Serif', serif" font-size="37.5" font-style="italic" font-weight="bold">θ</text>
<text x="787.4" y="0.0" font-family="'Liberation Serif', serif" font-size="37.5">,</text>
<text x="803.1" y="0.0" font-family="'DejaVu Math TeX Gyre', serif" font-size="35.6">𝒟</text>
<text x="835.3" y="9.4" font-family="'Liberation Serif', serif" font-size="26.2" font-style="italic">a</text>
<text x="836.0" y="-15.0" font-family="'Liberation Serif', serif" font-size="26.2" font-style="italic">y</text>
<text x="848.4" y="0.0" font-family="'Liberation Serif', serif" font-size="37.5">)</text>
<text x="860.9" y="0.0" font-family="'Liberation Serif', serif" font-size="37.5">}</text>
<text x="879.6" y="7.5" font-family="'Liberation Serif', serif" font-size="26.2" font-style="italic">a</text>
<text x="892.7" y="7.5" font-family="'DejaVu Math TeX Gyre', serif" font-size="26.2">∈</text>
<text x="913.9" y="7.5" font-family="'DejaVu Math TeX Gyre', serif" font-size="24.9">𝒜</text>
<text transform="translate(940.6,5.0) scale(1.000,1.599)" font-family="'Liberation Serif', serif" font-size="37.5">)</text>
</g>
<g transform="translate(1429.8,929.3) scale(1.1469,1)" fill="#000">
<text x="0.0" y="0.0" font-family="'Liberation Serif', serif" font-size="37.5">max</text>
<text x="0.0" y="27.0" font-family="'Liberation Serif', serif" font-size="26.2" font-style="italic" font-weight="bold">q</text>
<text x="13.2" y="27.0" font-family="'DejaVu Math TeX Gyre', serif" font-size="26.2">∈</text>
<text x="34.3" y="27.0" font-family="'DejaVu Math TeX Gyre', serif" font-size="24.9">𝒬</text>
<text x="55.7" y="30.9" font-family="'Liberation Serif', serif" font-size="18.4" font-style="italic">ρ</text>
<text x="75.4" y="5.4" font-family="'DejaVu Math TeX Gyre', serif" font-size="53.6">∑</text>
<text x="70.9" y="46.1" font-family="'Liberation Serif', serif" font-size="26.2" font-style="italic">a</text>
<text x="84.1" y="46.1" font-family="'DejaVu Math TeX Gyre', serif" font-size="26.2">∈</text>
<text x="105.2" y="46.1" font-family="'DejaVu Math TeX Gyre', serif" font-size="24.9">𝒜</text>
<text x="133.8" y="0.0" font-family="'Liberation Serif', serif" font-size="37.5" font-style="italic">q</text>
<text x="153.3" y="5.6" font-family="'Liberation Serif', serif" font-size="26.2" font-style="italic">a</text>
<text x="166.4" y="0.0" font-family="'DejaVu Math TeX Gyre', serif" font-size="35.6">ℒ</text>
<text x="193.8" y="0.0" font-family="'Liberation Serif', serif" font-size="37.5">(</text>
<text x="206.2" y="0.0" font-family="'Liberation Serif', serif" font-size="37.5" font-style="italic" font-weight="bold">θ</text>
<text x="225.7" y="0.0" font-family="'Liberation Serif', serif" font-size="37.5">,</text>
<text x="241.5" y="0.0" font-family="'DejaVu Math TeX Gyre', serif" font-size="35.6">𝒟</text>
<text x="273.6" y="6.4" font-family="'Liberation Serif', serif" font-size="26.2" font-style="italic">a</text>
<text x="286.7" y="0.0" font-family="'Liberation Serif', serif" font-size="37.5">)</text>
<text x="309.7" y="0.0" font-family="'DejaVu Math TeX Gyre', serif" font-size="37.5">=</text>
<text x="369.2" y="-25.4" font-family="'Liberation Serif', serif" font-size="37.5">1</text>
<text x="352.0" y="25.7" font-family="'Liberation Serif', serif" font-size="37.5">|</text>
<text x="359.5" y="25.7" font-family="'DejaVu Math TeX Gyre', serif" font-size="35.6">𝒜</text>
<text x="397.7" y="25.7" font-family="'Liberation Serif', serif" font-size="37.5">|</text>
<line x1="350.4" y1="-9.4" x2="406.7" y2="-9.4" stroke="#000" stroke-width="1.5"/>
<text x="413.8" y="5.4" font-family="'DejaVu Math TeX Gyre', serif" font-size="53.6">∑</text>
<text x="433.3" y="46.1" font-family="'Liberation Serif', serif" font-size="26.2" font-style="italic">a</text>
<text x="470.4" y="0.0" font-family="'DejaVu Math TeX Gyre', serif" font-size="35.6">ℒ</text>
<text x="497.7" y="0.0" font-family="'Liberation Serif', serif" font-size="37.5">(</text>
<text x="510.2" y="0.0" font-family="'Liberation Serif', serif" font-size="37.5" font-style="italic" font-weight="bold">θ</text>
<text x="529.7" y="0.0" font-family="'Liberation Serif', serif" font-size="37.5">,</text>
<text x="545.4" y="0.0" font-family="'DejaVu Math TeX Gyre', serif" font-size="35.6">𝒟</text>
<text x="577.6" y="6.4" font-family="'Liberation Serif', serif" font-size="26.2" font-style="italic">a</text>
<text x="590.7" y="0.0" font-family="'Liberation Serif', serif" font-size="37.5">)</text>
<text x="611.4" y="0.0" font-family="'DejaVu Math TeX Gyre', serif" font-size="37.5">+</text>
<text transform="translate(649.2,15.7) scale(1.321,2.265)" font-family="'DejaVu Math TeX Gyre', serif" font-size="37.5">√</text>
<line x1="684.1" y1="-49.2" x2="1024.7" y2="-49.2" stroke="#000" stroke-width="1.5"/>
<text x="684.9" y="0.0" font-family="'Liberation Serif', serif" font-size="37.5" font-style="italic">ρ</text>
<text x="709.2" y="0.0" font-family="'Liberation Serif', serif" font-size="37.5">Var</text>
<text transform="translate(767.7,5.0) scale(1.000,1.599)" font-family="'Liberation Serif', serif" font-size="37.5">(</text>
<text x="780.2" y="0.0" font-family="'Liberation Serif', serif" font-size="37.5">{</text>
<text x="798.2" y="0.0" font-family="'DejaVu Math TeX Gyre', serif" font-size="35.6">ℒ</text>
<text x="825.5" y="0.0" font-family="'Liberation Serif', serif" font-size="37.5">(</text>
<text x="838.0" y="0.0" font-family="'Liberation Serif', serif" font-size="37.5" font-style="italic" font-weight="bold">θ</text>
<text x="857.4" y="0.0" font-family="'Liberation Serif', serif" font-size="37.5">,</text>
<text x="873.2" y="0.0" font-family="'DejaVu Math TeX Gyre', serif" font-size="35.6">𝒟</text>
<text x="905.3" y="6.4" font-family="'Liberation Serif', serif" font-size="26.2" font-style="italic">a</text>
<text x="918.4" y="0.0" font-family="'Liberation Serif', serif" font-size="37.5">)</text>
<text x="930.9" y="0.0" font-family="'Liberation Serif', serif" font-size="37.5">}</text>
<text x="949.7" y="7.5" font-family="'Liberation Serif', serif" font-size="26.2" font-style="italic">a</text>
<text x="962.8" y="7.5" font-family="'DejaVu Math TeX Gyre', serif" font-size="26.2">∈</text>
<text x="984.0" y="7.5" font-family="'DejaVu Math TeX Gyre', serif" font-size="24.9">𝒜</text>
<text transform="translate(1010.7,5.0) scale(1.000,1.599)" font-family="'Liberation Serif', serif" font-size="37.5">)</text>
</g>
<path d="M1431,986 q0,9 9,9 h152 q8,0 9,10 q1,-10 9,-10 h152 q9,0 9,-9" fill="none" stroke="#1f2a44" stroke-width="2.2" />
<rect x="1786.9" y="1185.2" width="122.9" height="124.6" fill="#fff" stroke="#5a8a3f" stroke-width="4.6" rx="2" />
<g transform="translate(1476.4,1244.7) scale(1.0919,1)" fill="#000">
<text x="0.0" y="0.0" font-family="'Liberation Serif', serif" font-size="37.5" font-style="italic" font-weight="bold">θ</text>
<text x="21.0" y="-13.5" font-family="'Liberation Serif', serif" font-size="26.2">FairDRO</text>
<text x="128.0" y="0.0" font-family="'DejaVu Math TeX Gyre', serif" font-size="37.5">≜</text>
<text x="167.0" y="0.0" font-family="'Liberation Serif', serif" font-size="37.5">arg min</text>
<text x="217.6" y="30.0" font-family="'Liberation Serif', serif" font-size="26.2" font-style="italic" font-weight="bold">θ</text>
</g>
<g transform="translate(1791.5,1244.7) scale(0.9127,1)" fill="#000">
<text x="15.7" y="-25.4" font-family="'Liberation Serif', serif" font-size="37.5">1</text>
<text x="0.0" y="25.7" font-family="'Liberation Serif', serif" font-size="37.5">|</text>
<text x="7.5" y="25.7" font-family="'DejaVu Math TeX Gyre', serif" font-size="35.6">𝒴</text>
<text x="42.6" y="25.7" font-family="'Liberation Serif', serif" font-size="37.5">|</text>
<line x1="0.0" y1="-9.4" x2="50.1" y2="-9.4" stroke="#000" stroke-width="1.5"/>
</g>
<g transform="translate(1850.2,1244.7) scale(0.9730,1)" fill="#000">
<text x="2.6" y="5.4" font-family="'DejaVu Math TeX Gyre', serif" font-size="53.6">∑</text>
<text x="0.0" y="46.1" font-family="'Liberation Serif', serif" font-size="26.2" font-style="italic">y</text>
<text x="11.7" y="46.1" font-family="'DejaVu Math TeX Gyre', serif" font-size="26.2">∈</text>
<text x="32.8" y="46.1" font-family="'DejaVu Math TeX Gyre', serif" font-size="24.9">𝒴</text>
</g>
<g transform="translate(1914.2,1244.7) scale(1.2211,1)" fill="#000">
<text x="4.6" y="0.0" font-family="'Liberation Serif', serif" font-size="37.5">max</text>
<text x="0.0" y="27.8" font-family="'Liberation Serif', serif" font-size="26.2" font-style="italic" font-weight="bold">q</text>
<text x="14.2" y="18.6" font-family="'Liberation Serif', serif" font-size="18.4" font-style="italic">y</text>
<text x="22.3" y="27.8" font-family="'DejaVu Math TeX Gyre', serif" font-size="26.2">∈</text>
<text x="43.5" y="27.8" font-family="'DejaVu Math TeX Gyre', serif" font-size="24.9">𝒬</text>
<text x="64.9" y="31.7" font-family="'Liberation Serif', serif" font-size="18.4" font-style="italic">ρ</text>
</g>
<g transform="translate(2012.9,1244.7) scale(0.9313,1)" fill="#000">
<text x="4.4" y="5.4" font-family="'DejaVu Math TeX Gyre', serif" font-size="53.6">∑</text>
<text x="0.0" y="46.1" font-family="'Liberation Serif', serif" font-size="26.2" font-style="italic">a</text>
<text x="13.1" y="46.1" font-family="'DejaVu Math TeX Gyre', serif" font-size="26.2">∈</text>
<text x="34.3" y="46.1" font-family="'DejaVu Math TeX Gyre', serif" font-size="24.9">𝒜</text>
</g>
<g transform="translate(2077.9,1244.7) scale(1.0333,1)" fill="#000">
<text x="0.0" y="0.0" font-family="'Liberation Serif', serif" font-size="37.5" font-style="italic">q</text>
<text x="19.5" y="9.4" font-family="'Liberation Serif', serif" font-size="26.2" font-style="italic">a</text>
<text x="20.2" y="-15.0" font-family="'Liberation Serif', serif" font-size="26.2" font-style="italic">y</text>
<text x="32.6" y="0.0" font-family="'DejaVu Math TeX Gyre', serif" font-size="35.6">ℒ</text>
<text x="59.9" y="0.0" font-family="'Liberation Serif', serif" font-size="37.5">(</text>
<text x="72.4" y="0.0" font-family="'Liberation Serif', serif" font-size="37.5" font-style="italic" font-weight="bold">θ</text>
<text x="91.9" y="0.0" font-family="'Liberation Serif', serif" font-size="37.5">,</text>
<text x="107.7" y="0.0" font-family="'DejaVu Math TeX Gyre', serif" font-size="35.6">𝒟</text>
<text x="139.8" y="9.4" font-family="'Liberation Serif', serif" font-size="26.2" font-style="italic">a</text>
<text x="140.5" y="-15.0" font-family="'Liberation Serif', serif" font-size="26.2" font-style="italic">y</text>
<text x="152.9" y="0.0" font-family="'Liberation Serif', serif" font-size="37.5">)</text>
</g>
<rect x="1962.8" y="1251.4" width="43.5" height="28.6" fill="none" stroke="#e1701d" stroke-width="4.4" rx="2" />
<g transform="translate(1476.4,1609.6) scale(1.0888,1)" fill="#000">
<text x="0.0" y="0.0" font-family="'Liberation Serif', serif" font-size="37.5" font-style="italic" font-weight="bold">θ</text>
<text x="21.0" y="-13.5" font-family="'Liberation Serif', serif" font-size="26.2">FairDRO</text>
<text x="129.2" y="0.0" font-family="'DejaVu Math TeX Gyre', serif" font-size="37.5">=</text>
<text x="169.2" y="0.0" font-family="'Liberation Serif', serif" font-size="37.5">arg min</text>
<text x="219.9" y="30.0" font-family="'Liberation Serif', serif" font-size="26.2" font-style="italic" font-weight="bold">θ</text>
<text transform="translate(284.1,12.8) scale(1.000,2.114)" font-family="'Liberation Serif', serif" font-size="37.5">{</text>
<text x="346.6" y="-25.4" font-family="'Liberation Serif', serif" font-size="37.5">1</text>
<text x="304.4" y="25.7" font-family="'Liberation Serif', serif" font-size="37.5">|</text>
<text x="311.9" y="25.7" font-family="'DejaVu Math TeX Gyre', serif" font-size="35.6">𝒴</text>
<text x="347.0" y="25.7" font-family="'Liberation Serif', serif" font-size="37.5">|</text>
<text x="354.5" y="25.7" font-family="'Liberation Serif', serif" font-size="37.5">|</text>
<text x="362.0" y="25.7" font-family="'DejaVu Math TeX Gyre', serif" font-size="35.6">𝒜</text>
<text x="400.1" y="25.7" font-family="'Liberation Serif', serif" font-size="37.5">|</text>
<line x1="302.8" y1="-9.4" x2="409.2" y2="-9.4" stroke="#000" stroke-width="1.5"/>
<text x="416.3" y="5.4" font-family="'DejaVu Math TeX Gyre', serif" font-size="53.6">∑</text>
<text x="417.9" y="46.1" font-family="'Liberation Serif', serif" font-size="26.2">(</text>
<text x="426.6" y="46.1" font-family="'Liberation Serif', serif" font-size="26.2" font-style="italic">y</text>
<text x="438.3" y="46.1" font-family="'Liberation Serif', serif" font-size="26.2">,</text>
<text x="444.9" y="46.1" font-family="'Liberation Serif', serif" font-size="26.2" font-style="italic">a</text>
<text x="458.0" y="46.1" font-family="'Liberation Serif', serif" font-size="26.2">)</text>
<text x="474.8" y="0.0" font-family="'DejaVu Math TeX Gyre', serif" font-size="35.6">ℒ</text>
<text x="502.1" y="0.0" font-family="'Liberation Serif', serif" font-size="37.5">(</text>
<text x="514.6" y="0.0" font-family="'Liberation Serif', serif" font-size="37.5" font-style="italic" font-weight="bold">θ</text>
<text x="534.0" y="0.0" font-family="'Liberation Serif', serif" font-size="37.5">,</text>
<text x="549.8" y="0.0" font-family="'DejaVu Math TeX Gyre', serif" font-size="35.6">𝒟</text>
<text x="581.9" y="9.4" font-family="'Liberation Serif', serif" font-size="26.2" font-style="italic">a</text>
<text x="582.7" y="-15.0" font-family="'Liberation Serif', serif" font-size="26.2" font-style="italic">y</text>
<text x="595.0" y="0.0" font-family="'Liberation Serif', serif" font-size="37.5">)</text>
<text x="615.8" y="0.0" font-family="'DejaVu Math TeX Gyre', serif" font-size="37.5">+</text>
<text x="653.6" y="0.0" font-family="'Liberation Serif', serif" font-size="37.5" font-style="italic">C</text>
<text x="679.3" y="5.6" font-family="'DejaVu Math TeX Gyre', serif" font-size="24.9">𝒟</text>
<text transform="translate(702.4,5.7) scale(0.946,1.098)" font-family="'DejaVu Math TeX Gyre', serif" font-size="37.5">√</text>
<line x1="727.1" y1="-25.4" x2="747.4" y2="-25.4" stroke="#000" stroke-width="1.5"/>
<text x="727.9" y="0.0" font-family="'Liberation Serif', serif" font-size="37.5" font-style="italic">ρ</text>
<text x="747.4" y="0.0" font-family="'Liberation Serif', serif" font-size="37.5" font-style="italic">Δ</text>
<text transform="translate(750.5,-23.4) scale(1.150,0.500)" font-family="'Liberation Serif', serif" font-size="37.5">^</text>
<text x="770.1" y="5.6" font-family="'Liberation Serif', serif" font-size="26.2" font-style="italic">DCA</text>
<text transform="translate(822.6,12.8) scale(1.000,2.114)" font-family="'Liberation Serif', serif" font-size="37.5">}</text>
</g>
<g transform="translate(1599.8,1909.5) scale(0.9820,1)" fill="#000">
<text x="0.0" y="0.0" font-family="'Liberation Serif', serif" font-size="37.5" font-style="italic">q</text>
<text x="19.5" y="9.4" font-family="'Liberation Serif', serif" font-size="26.2" font-style="italic">a</text>
<text x="20.2" y="-14.2" font-family="'Liberation Serif', serif" font-size="26.2" font-style="italic">y</text>
<text x="31.9" y="-14.2" font-family="'Liberation Serif', serif" font-size="26.2">∗</text>
<text x="62.8" y="0.0" font-family="'DejaVu Math TeX Gyre', serif" font-size="37.5">=</text>
<text x="122.3" y="-25.4" font-family="'Liberation Serif', serif" font-size="37.5">1</text>
<text x="105.1" y="25.7" font-family="'Liberation Serif', serif" font-size="37.5">|</text>
<text x="112.6" y="25.7" font-family="'DejaVu Math TeX Gyre', serif" font-size="35.6">𝒜</text>
<text x="150.8" y="25.7" font-family="'Liberation Serif', serif" font-size="37.5">|</text>
<line x1="103.5" y1="-9.4" x2="159.9" y2="-9.4" stroke="#000" stroke-width="1.5"/>
<text x="168.8" y="0.0" font-family="'DejaVu Math TeX Gyre', serif" font-size="37.5">+</text>
<text transform="translate(206.6,41.4) scale(1.321,3.089)" font-family="'DejaVu Math TeX Gyre', serif" font-size="37.5">√</text>
<line x1="241.5" y1="-47.4" x2="301.4" y2="-47.4" stroke="#000" stroke-width="1.5"/>
<text x="262.0" y="-23.2" font-family="'Liberation Serif', serif" font-size="37.5" font-style="italic">ρ</text>
<text x="244.5" y="27.4" font-family="'Liberation Serif', serif" font-size="37.5">|</text>
<text x="252.0" y="27.4" font-family="'DejaVu Math TeX Gyre', serif" font-size="35.6">𝒜</text>
<text x="290.1" y="27.4" font-family="'Liberation Serif', serif" font-size="37.5">|</text>
<line x1="242.9" y1="-9.4" x2="299.2" y2="-9.4" stroke="#000" stroke-width="1.5"/>
<text x="309.6" y="0.0" font-family="'DejaVu Math TeX Gyre', serif" font-size="37.5">×</text>
</g>
<g transform="translate(1944.5,1909.5) scale(1.0790,1)" fill="#000">
<text x="17.1" y="-50.2" font-family="'DejaVu Math TeX Gyre', serif" font-size="35.6">ℒ</text>
<text x="44.4" y="-50.2" font-family="'Liberation Serif', serif" font-size="37.5">(</text>
<text x="56.9" y="-50.2" font-family="'Liberation Serif', serif" font-size="37.5" font-style="italic" font-weight="bold">θ</text>
<text x="76.4" y="-50.2" font-family="'Liberation Serif', serif" font-size="37.5">,</text>
<text x="92.1" y="-50.2" font-family="'DejaVu Math TeX Gyre', serif" font-size="35.6">𝒟</text>
<text x="124.2" y="-40.9" font-family="'Liberation Serif', serif" font-size="26.2" font-style="italic">a</text>
<text x="125.0" y="-65.3" font-family="'Liberation Serif', serif" font-size="26.2" font-style="italic">y</text>
<text x="137.4" y="-50.2" font-family="'Liberation Serif', serif" font-size="37.5">)</text>
<text x="158.1" y="-50.2" font-family="'DejaVu Math TeX Gyre', serif" font-size="37.5">−</text>
<text x="208.2" y="-48.4" font-family="'DejaVu Math TeX Gyre', serif" font-size="37.5">∑</text>
<text x="195.9" y="-21.0" font-family="'Liberation Serif', serif" font-size="26.2" font-style="italic">a</text>
<text x="209.0" y="-21.0" font-family="'DejaVu Math TeX Gyre', serif" font-size="26.2">∈</text>
<text x="230.2" y="-21.0" font-family="'DejaVu Math TeX Gyre', serif" font-size="24.9">𝒜</text>
<text x="270.1" y="-63.8" font-family="'Liberation Serif', serif" font-size="26.2">1</text>
<text x="258.0" y="-32.6" font-family="'Liberation Serif', serif" font-size="26.2">|</text>
<text x="263.3" y="-32.6" font-family="'DejaVu Math TeX Gyre', serif" font-size="24.9">𝒜</text>
<text x="290.0" y="-32.6" font-family="'Liberation Serif', serif" font-size="26.2">|</text>
<line x1="257.2" y1="-59.6" x2="296.0" y2="-59.6" stroke="#000" stroke-width="1.5"/>
<text x="296.4" y="-50.2" font-family="'DejaVu Math TeX Gyre', serif" font-size="35.6">ℒ</text>
<text x="323.7" y="-50.2" font-family="'Liberation Serif', serif" font-size="37.5">(</text>
<text x="336.2" y="-50.2" font-family="'Liberation Serif', serif" font-size="37.5" font-style="italic" font-weight="bold">θ</text>
<text x="355.6" y="-50.2" font-family="'Liberation Serif', serif" font-size="37.5">,</text>
<text x="371.4" y="-50.2" font-family="'DejaVu Math TeX Gyre', serif" font-size="35.6">𝒟</text>
<text x="403.5" y="-40.9" font-family="'Liberation Serif', serif" font-size="26.2" font-style="italic">a</text>
<text x="404.3" y="-65.3" font-family="'Liberation Serif', serif" font-size="26.2" font-style="italic">y</text>
<text x="416.7" y="-50.2" font-family="'Liberation Serif', serif" font-size="37.5">)</text>
<text x="0.0" y="28.9" font-family="'Liberation Serif', serif" font-size="37.5">‖</text>
<text x="10.5" y="28.9" font-family="'DejaVu Math TeX Gyre', serif" font-size="35.6">ℒ</text>
<text x="37.9" y="28.9" font-family="'Liberation Serif', serif" font-size="37.5">(</text>
<text x="50.3" y="28.9" font-family="'Liberation Serif', serif" font-size="37.5" font-style="italic" font-weight="bold">θ</text>
<text x="69.8" y="28.9" font-family="'Liberation Serif', serif" font-size="37.5">,</text>
<text x="85.6" y="28.9" font-family="'DejaVu Math TeX Gyre', serif" font-size="35.6">𝒟</text>
<text x="117.7" y="38.2" font-family="'Liberation Serif', serif" font-size="26.2" font-style="italic">a</text>
<text x="118.4" y="13.9" font-family="'Liberation Serif', serif" font-size="26.2" font-style="italic">y</text>
<text x="130.8" y="28.9" font-family="'Liberation Serif', serif" font-size="37.5">)</text>
<text x="151.6" y="28.9" font-family="'DejaVu Math TeX Gyre', serif" font-size="37.5">−</text>
<text x="201.6" y="30.8" font-family="'DejaVu Math TeX Gyre', serif" font-size="37.5">∑</text>
<text x="189.4" y="58.1" font-family="'Liberation Serif', serif" font-size="26.2" font-style="italic">a</text>
<text x="202.5" y="58.1" font-family="'DejaVu Math TeX Gyre', serif" font-size="26.2">∈</text>
<text x="223.6" y="58.1" font-family="'DejaVu Math TeX Gyre', serif" font-size="24.9">𝒜</text>
<text x="263.5" y="15.4" font-family="'Liberation Serif', serif" font-size="26.2">1</text>
<text x="251.5" y="46.5" font-family="'Liberation Serif', serif" font-size="26.2">|</text>
<text x="256.7" y="46.5" font-family="'DejaVu Math TeX Gyre', serif" font-size="24.9">𝒜</text>
<text x="283.4" y="46.5" font-family="'Liberation Serif', serif" font-size="26.2">|</text>
<line x1="250.7" y1="19.5" x2="289.5" y2="19.5" stroke="#000" stroke-width="1.5"/>
<text x="289.8" y="28.9" font-family="'DejaVu Math TeX Gyre', serif" font-size="35.6">ℒ</text>
<text x="317.1" y="28.9" font-family="'Liberation Serif', serif" font-size="37.5">(</text>
<text x="329.6" y="28.9" font-family="'Liberation Serif', serif" font-size="37.5" font-style="italic" font-weight="bold">θ</text>
<text x="349.1" y="28.9" font-family="'Liberation Serif', serif" font-size="37.5">,</text>
<text x="364.8" y="28.9" font-family="'DejaVu Math TeX Gyre', serif" font-size="35.6">𝒟</text>
<text x="397.0" y="38.2" font-family="'Liberation Serif', serif" font-size="26.2" font-style="italic">a</text>
<text x="397.7" y="13.9" font-family="'Liberation Serif', serif" font-size="26.2" font-style="italic">y</text>
<text x="410.1" y="28.9" font-family="'Liberation Serif', serif" font-size="37.5">)</text>
<text x="422.6" y="28.9" font-family="'Liberation Serif', serif" font-size="37.5">‖</text>
<text x="433.1" y="34.5" font-family="'Liberation Serif', serif" font-size="26.2">2</text>
<line x1="0.0" y1="-9.4" x2="446.2" y2="-9.4" stroke="#000" stroke-width="1.5"/>
</g>
<g transform="translate(1467.0,2151.5) scale(1.0798,1)" fill="#000">
<text x="0.0" y="0.0" font-family="'Liberation Serif', serif" font-size="40.5" font-style="italic" font-weight="bold">θ</text>
<text x="22.6" y="-16.2" font-family="'Liberation Serif', serif" font-size="28.3" font-style="italic">t</text>
<text x="30.5" y="-16.2" font-family="'Liberation Serif', serif" font-size="28.3">+1</text>
<text x="72.0" y="0.0" font-family="'DejaVu Math TeX Gyre', serif" font-size="40.5">←</text>
<text x="130.4" y="0.0" font-family="'Liberation Serif', serif" font-size="40.5" font-style="italic" font-weight="bold">θ</text>
<text x="153.1" y="-16.2" font-family="'Liberation Serif', serif" font-size="28.3" font-style="italic">t</text>
<text x="169.9" y="0.0" font-family="'DejaVu Math TeX Gyre', serif" font-size="40.5">−</text>
<text x="210.7" y="0.0" font-family="'Liberation Serif', serif" font-size="40.5" font-style="italic">η</text>
<text x="231.6" y="10.1" font-family="'Liberation Serif', serif" font-size="28.3" font-style="italic" font-weight="bold">θ</text>
<text x="232.4" y="-16.2" font-family="'Liberation Serif', serif" font-size="28.3" font-style="italic">t</text>
<text x="246.3" y="0.0" font-family="'DejaVu Math TeX Gyre', serif" font-size="38.5">∇</text>
<text x="280.2" y="6.9" font-family="'Liberation Serif', serif" font-size="28.3" font-style="italic" font-weight="bold">θ</text>
<text transform="translate(294.9,10.3) scale(1.000,2.095)" font-family="'Liberation Serif', serif" font-size="40.5">(</text>
<text x="327.8" y="-27.4" font-family="'Liberation Serif', serif" font-size="40.5">1</text>
<text x="310.9" y="27.8" font-family="'Liberation Serif', serif" font-size="40.5">|</text>
<text x="319.0" y="27.8" font-family="'DejaVu Math TeX Gyre', serif" font-size="38.5">𝒴</text>
<text x="356.8" y="27.8" font-family="'Liberation Serif', serif" font-size="40.5">|</text>
<line x1="309.2" y1="-10.1" x2="366.6" y2="-10.1" stroke="#000" stroke-width="1.6"/>
<text x="377.1" y="5.8" font-family="'DejaVu Math TeX Gyre', serif" font-size="57.9">∑</text>
<text x="374.2" y="49.8" font-family="'Liberation Serif', serif" font-size="28.3" font-style="italic">y</text>
<text x="386.8" y="49.8" font-family="'DejaVu Math TeX Gyre', serif" font-size="28.3">∈</text>
<text x="409.7" y="49.8" font-family="'DejaVu Math TeX Gyre', serif" font-size="26.9">𝒴</text>
<text x="443.0" y="5.8" font-family="'DejaVu Math TeX Gyre', serif" font-size="57.9">∑</text>
<text x="438.2" y="49.8" font-family="'Liberation Serif', serif" font-size="28.3" font-style="italic">a</text>
<text x="452.4" y="49.8" font-family="'DejaVu Math TeX Gyre', serif" font-size="28.3">∈</text>
<text x="475.2" y="49.8" font-family="'DejaVu Math TeX Gyre', serif" font-size="26.9">𝒜</text>
<text x="508.9" y="0.0" font-family="'Liberation Serif', serif" font-size="40.5" font-style="italic">q</text>
<text x="530.0" y="10.1" font-family="'Liberation Serif', serif" font-size="28.3" font-style="italic">a</text>
<text x="530.8" y="-16.2" font-family="'Liberation Serif', serif" font-size="28.3" font-style="italic">y</text>
<text x="543.4" y="-16.2" font-family="'Liberation Serif', serif" font-size="28.3">,</text>
<text x="550.5" y="-16.2" font-family="'Liberation Serif', serif" font-size="28.3" font-style="italic">t</text>
<text x="558.4" y="0.0" font-family="'DejaVu Math TeX Gyre', serif" font-size="38.5">ℒ</text>
<text x="587.9" y="0.0" font-family="'Liberation Serif', serif" font-size="40.5">(</text>
<text x="601.4" y="0.0" font-family="'Liberation Serif', serif" font-size="40.5" font-style="italic" font-weight="bold">θ</text>
<text x="624.0" y="-16.2" font-family="'Liberation Serif', serif" font-size="28.3" font-style="italic">t</text>
<text x="631.9" y="0.0" font-family="'Liberation Serif', serif" font-size="40.5">,</text>
<text x="648.9" y="0.0" font-family="'DejaVu Math TeX Gyre', serif" font-size="38.5">𝒟</text>
<text x="683.6" y="10.1" font-family="'Liberation Serif', serif" font-size="28.3" font-style="italic">a</text>
<text x="684.4" y="-16.2" font-family="'Liberation Serif', serif" font-size="28.3" font-style="italic">y</text>
<text x="697.8" y="0.0" font-family="'Liberation Serif', serif" font-size="40.5">)</text>
<text transform="translate(711.2,10.3) scale(1.000,2.095)" font-family="'Liberation Serif', serif" font-size="40.5">)</text>
</g>
<g transform="translate(1440.5,2261.0) scale(1.2114,1)" fill="#000">
<text x="0.0" y="0.0" font-family="'Liberation Serif', serif" font-size="40.5" font-style="italic" font-weight="bold">q</text>
<text x="21.9" y="-16.2" font-family="'Liberation Serif', serif" font-size="28.3" font-style="italic">y</text>
<text x="34.5" y="-16.2" font-family="'Liberation Serif', serif" font-size="28.3">,</text>
<text x="41.5" y="-16.2" font-family="'Liberation Serif', serif" font-size="28.3" font-style="italic">t</text>
<text x="49.4" y="-16.2" font-family="'Liberation Serif', serif" font-size="28.3">+1</text>
</g>
<g transform="translate(1551.0,2261.0) scale(0.9707,1)" fill="#000">
<text x="0.0" y="0.0" font-family="'DejaVu Math TeX Gyre', serif" font-size="40.5">←</text>
</g>
<g transform="translate(1612.9,2261.0) scale(1.0605,1)" fill="#000">
<text x="0.0" y="0.0" font-family="'Liberation Serif', serif" font-size="40.5">(1</text>
<text x="42.6" y="0.0" font-family="'DejaVu Math TeX Gyre', serif" font-size="40.5">−</text>
<text x="83.5" y="0.0" font-family="'Liberation Serif', serif" font-size="40.5" font-style="italic">η</text>
<text x="104.4" y="10.1" font-family="'Liberation Serif', serif" font-size="28.3" font-style="italic" font-weight="bold">q</text>
<text x="105.2" y="-16.2" font-family="'Liberation Serif', serif" font-size="28.3" font-style="italic">t</text>
<text x="118.5" y="0.0" font-family="'Liberation Serif', serif" font-size="40.5">)</text>
<text x="132.0" y="0.0" font-family="'Liberation Serif', serif" font-size="40.5" font-style="italic" font-weight="bold">q</text>
<text x="153.9" y="-16.2" font-family="'Liberation Serif', serif" font-size="28.3" font-style="italic">y</text>
<text x="166.5" y="-16.2" font-family="'Liberation Serif', serif" font-size="28.3">,</text>
<text x="173.6" y="-16.2" font-family="'Liberation Serif', serif" font-size="28.3" font-style="italic">t</text>
<text x="190.4" y="0.0" font-family="'DejaVu Math TeX Gyre', serif" font-size="40.5">+</text>
<text x="231.2" y="0.0" font-family="'Liberation Serif', serif" font-size="40.5" font-style="italic">η</text>
<text x="252.1" y="10.1" font-family="'Liberation Serif', serif" font-size="28.3" font-style="italic" font-weight="bold">q</text>
<text x="252.9" y="-16.2" font-family="'Liberation Serif', serif" font-size="28.3" font-style="italic">t</text>
<text x="266.3" y="0.0" font-family="'Liberation Serif', serif" font-size="40.5" font-style="italic" font-weight="bold">q</text>
<text x="288.1" y="-16.2" font-family="'Liberation Serif', serif" font-size="28.3" font-style="italic">y</text>
<text x="300.7" y="-16.2" font-family="'Liberation Serif', serif" font-size="28.3">∗,</text>
<text x="329.9" y="-16.2" font-family="'Liberation Serif', serif" font-size="28.3" font-style="italic">t</text>
<text x="337.7" y="0.0" font-family="'Liberation Serif', serif" font-size="40.5">,</text>
</g>
<g transform="translate(2007.4,2261.0) scale(0.8304,1)" fill="#000">
<text x="0.0" y="0.0" font-family="'DejaVu Math TeX Gyre', serif" font-size="40.5">∀</text>
<text x="31.9" y="0.0" font-family="'Liberation Serif', serif" font-size="40.5" font-style="italic">y</text>
<text x="61.2" y="0.0" font-family="'DejaVu Math TeX Gyre', serif" font-size="40.5">∈</text>
<text x="105.2" y="0.0" font-family="'DejaVu Math TeX Gyre', serif" font-size="38.5">𝒴</text>
</g>
<g transform="translate(2697.0,2263.0) scale(0.9983,1)" fill="#3333b2">
<text x="0.0" y="0.0" font-family="'Liberation Serif', serif" font-size="40.0" font-style="italic">η</text>
<text x="20.6" y="10.0" font-family="'Liberation Serif', serif" font-size="28.0" font-style="italic" font-weight="bold">q</text>
<text x="21.4" y="-16.0" font-family="'Liberation Serif', serif" font-size="28.0" font-style="italic">t</text>
<text x="45.8" y="0.0" font-family="'DejaVu Math TeX Gyre', serif" font-size="40.0">=</text>
<text x="88.6" y="0.0" font-family="'Liberation Serif', serif" font-size="40.0">1</text>
<text x="117.4" y="0.0" font-family="'DejaVu Math TeX Gyre', serif" font-size="40.0">−</text>
<text x="163.3" y="-18.4" font-family="'Liberation Serif', serif" font-size="28.8" font-style="italic">t</text>
<text x="159.3" y="23.2" font-family="'Liberation Serif', serif" font-size="28.8" font-style="italic">T</text>
<line x1="158.2" y1="-10.0" x2="176.4" y2="-10.0" stroke="#3333b2" stroke-width="1.6"/>
</g>
</g>

<!-- right panel: Experimental results -->
<g class="panel-right">
<path d="M2916.8,435 V2304.6 A46,46 0 0 0 2962.8,2350.6 H4685.8 A46,46 0 0 0 4731.8,2304.6 V435" fill="none" stroke="#1f2a44" stroke-width="6" />
<path d="M2913.8,489.3 V435 A45,45 0 0 1 2958.8,390 H4689.8 A45,45 0 0 1 4734.8,435 V489.3 Z" fill="#1f2a44" />
<text id="t52" x="3591.4" y="464.9" font-family="'Liberation Sans', sans-serif" font-size="55.8" fill="#fff" textLength="467.6" lengthAdjust="spacingAndGlyphs" stroke="#fff" stroke-width="0.7">Experimental Results</text>
<circle cx="2939.6" cy="535.5" r="9.3" fill="none" stroke="#1f2a44" stroke-width="2.6" />
<text id="t53" font-family="'Liberation Sans', sans-serif" font-size="40.5"><tspan x="2966.0" y="545.0" textLength="65.2" lengthAdjust="spacingAndGlyphs" stroke="#000" stroke-width="0.25">The</tspan> <tspan x="3042.5" y="545.0" textLength="178.9" lengthAdjust="spacingAndGlyphs" font-weight="bold" stroke="#000" stroke-width="0.6">trade-offs</tspan> <tspan x="3233.9" y="545.0" textLength="951.1" lengthAdjust="spacingAndGlyphs" stroke="#000" stroke-width="0.25">between accuracy and DCA varying hyperparameters</tspan></text>
<text id="t54" x="2944.6" y="1025.0" font-family="'Liberation Sans', sans-serif" font-size="33" textLength="550.4" lengthAdjust="spacingAndGlyphs" >&lt;Linear regression / Tabular dataset&gt;</text>
<text id="t55" x="3565.8" y="1025.0" font-family="'Liberation Sans', sans-serif" font-size="33" textLength="425.2" lengthAdjust="spacingAndGlyphs" >&lt;ResNet18 / Image dataset&gt;</text>
<text id="t56" x="4099.0" y="1025.0" font-family="'Liberation Sans', sans-serif" font-size="33" textLength="336.5" lengthAdjust="spacingAndGlyphs" >&lt;BERT / NLP dataset&gt;</text>
<text transform="translate(3036.3,1091.1) scale(1.128,1.055)" font-family="'DejaVu Sans', sans-serif" font-size="48" font-weight="bold" fill="#000">✓</text>
<text id="t57" font-family="'Liberation Sans', sans-serif" font-size="34.5"><tspan x="3093.0" y="1088.4" textLength="239.8" lengthAdjust="spacingAndGlyphs" font-weight="bold" stroke="#000" stroke-width="0.6">FairDRO shows</tspan> <tspan x="3343.7" y="1088.4" textLength="552.2" lengthAdjust="spacingAndGlyphs" font-weight="bold" fill="#d80000" stroke="#d80000" stroke-width="0.6">better fairness-accuracy trade-offs</tspan> <tspan x="3905.6" y="1088.4" textLength="40.7" lengthAdjust="spacingAndGlyphs" font-weight="bold" stroke="#000" stroke-width="0.6">on</tspan> <tspan x="3956.4" y="1088.4" textLength="303.6" lengthAdjust="spacingAndGlyphs" font-weight="bold" fill="#d80000" stroke="#d80000" stroke-width="0.6">diverse application</tspan> <tspan x="4270.5" y="1088.4" textLength="150.5" lengthAdjust="spacingAndGlyphs" font-weight="bold" stroke="#000" stroke-width="0.6">scenarios</tspan></text>
<circle cx="2939.6" cy="1158.0" r="9.3" fill="none" stroke="#1f2a44" stroke-width="2.6" />
<text id="t58" font-family="'Liberation Sans', sans-serif" font-size="40.5"><tspan x="2966.0" y="1166.8" textLength="322.2" lengthAdjust="spacingAndGlyphs" stroke="#000" stroke-width="0.25">Ablation study for</tspan> <tspan x="3299.0" y="1166.8" textLength="309.5" lengthAdjust="spacingAndGlyphs" font-weight="bold" stroke="#000" stroke-width="0.6">DRO formulation</tspan> <tspan x="3620.9" y="1166.8" textLength="137.0" lengthAdjust="spacingAndGlyphs" stroke="#000" stroke-width="0.25">and the</tspan> <tspan x="3769.6" y="1166.8" textLength="366.2" lengthAdjust="spacingAndGlyphs" font-weight="bold" stroke="#000" stroke-width="0.6">classwise treatment</tspan></text>
<text transform="translate(3036.3,1688.7) scale(1.128,1.055)" font-family="'DejaVu Sans', sans-serif" font-size="48" font-weight="bold" fill="#000">✓</text>
<text id="t59" font-family="'Liberation Sans', sans-serif" font-size="34.5"><tspan x="3093.0" y="1686.0" textLength="59.3" lengthAdjust="spacingAndGlyphs" font-weight="bold" stroke="#000" stroke-width="0.6">Our</tspan> <tspan x="3162.8" y="1686.0" textLength="614.5" lengthAdjust="spacingAndGlyphs" font-weight="bold" fill="#d80000" stroke="#d80000" stroke-width="0.6">classwise DRO formulation is essential</tspan> <tspan x="3787.8" y="1686.0" textLength="688.2" lengthAdjust="spacingAndGlyphs" font-weight="bold" stroke="#000" stroke-width="0.6">for better performance and stable learning</tspan></text>
<circle cx="2939.6" cy="1743.0" r="9.3" fill="none" stroke="#1f2a44" stroke-width="2.6" />
<text id="t60" font-family="'Liberation Sans', sans-serif" font-size="40.5"><tspan x="2966.0" y="1753.0" textLength="494.2" lengthAdjust="spacingAndGlyphs" stroke="#000" stroke-width="0.25">Visualization of the weights</tspan> <tspan x="3471.4" y="1753.0" textLength="45.8" lengthAdjust="spacingAndGlyphs" stroke="#000" stroke-width="0.25"><tspan font-family="'DejaVu Math TeX Gyre', 'DejaVu Serif', serif">𝒒</tspan><tspan font-size="28" dy="-16"><tspan font-family="'DejaVu Math TeX Gyre', 'DejaVu Serif', serif">𝑦</tspan></tspan><tspan dy="16">​</tspan></tspan> <tspan x="3532.0" y="1753.0" textLength="212.0" lengthAdjust="spacingAndGlyphs" stroke="#000" stroke-width="0.25">on COMPAS</tspan></text>
<text id="t61" x="3291.0" y="1802.6" font-family="'Liberation Sans', sans-serif" font-size="33" textLength="300.0" lengthAdjust="spacingAndGlyphs" >&lt;Training accuracy&gt;</text>
<text id="t62" x="4128.8" y="1802.6" font-family="'Liberation Sans', sans-serif" font-size="33" textLength="241.9" lengthAdjust="spacingAndGlyphs" >&lt;Test accuracy&gt;</text>
<text transform="translate(3027.5,2210.2) scale(1.169,1.075)" font-family="'DejaVu Sans', sans-serif" font-size="48" font-weight="bold" fill="#d80000">✓</text>
<text id="t63" font-family="'Liberation Sans', sans-serif" font-size="34.5"><tspan x="3084.4" y="2207.2" textLength="348.6" lengthAdjust="spacingAndGlyphs" font-weight="bold" fill="#d80000" stroke="#d80000" stroke-width="0.6">Automatically adjusts</tspan> <tspan x="3443.5" y="2207.2" textLength="37.5" lengthAdjust="spacingAndGlyphs" font-weight="bold" fill="#d80000" stroke="#d80000" stroke-width="0.6"><tspan font-family="'DejaVu Math TeX Gyre', 'DejaVu Serif', serif">𝒒</tspan><tspan font-size="24" dy="-15">1</tspan><tspan dy="15">​</tspan></tspan> <tspan x="3494.0" y="2207.2" textLength="1180.6" lengthAdjust="spacingAndGlyphs" font-weight="bold" stroke="#000" stroke-width="0.6">by assigning low (resp. high) values to the high (resp. low) accuracy group</tspan></text>
<line x1="2922.0" y1="2236.7" x2="4731.7" y2="2236.7" stroke="#000" stroke-width="3" />
<text id="t64" x="2940.0" y="2264.7" font-family="'Liberation Sans', sans-serif" font-size="27" textLength="1587.0" lengthAdjust="spacingAndGlyphs" >[1] Buolamwini and Gebru. “Gender Shades: Intersectional Accuracy Disparities in Commercial Gender Classification”, FAT, 2018.</text>
<text id="t65" x="2940.0" y="2298.4" font-family="'Liberation Sans', sans-serif" font-size="27" textLength="1086.3" lengthAdjust="spacingAndGlyphs" >[2] Sagawa et al. “Distributionally Robust Neural Networks for Group Shifts”, ICLR, 2020.</text>
<text id="t66" x="2940.0" y="2331.4" font-family="'Liberation Sans', sans-serif" font-size="27" textLength="658.8" lengthAdjust="spacingAndGlyphs" >[3] Xie et al. “Risk Variance Penalization”, Arxiv, 2020.</text>

<!-- trade-off scatter charts -->
<clipPath id="cp1"><rect x="3015.3" y="604.0" width="404.9" height="307.2"/></clipPath>
<g clip-path="url(#cp1)">
<polyline points="3033.0,631.4 3107.4,644.1 3165.5,658.6 3250.2,704.3 3388.0,890.1" fill="none" stroke="#86fdfd" stroke-width="2.2" stroke-linecap="round" stroke-linejoin="round" stroke-opacity="0.5"/>
<polyline points="3066.0,630.1 3244.7,649.4 3287.7,736.5" fill="none" stroke="#e9a228" stroke-width="2.2" stroke-linecap="round" stroke-linejoin="round" stroke-opacity="0.5"/>
<polyline points="3056.7,628.3 3227.0,661.3 3300.1,678.4 3313.6,696.1 3319.9,730.7" fill="none" stroke="#8c3232" stroke-width="2.2" stroke-linecap="round" stroke-linejoin="round" stroke-opacity="0.5"/>
<polyline points="3043.6,632.2 3245.5,650.2 3337.9,673.1" fill="none" stroke="#0000ff" stroke-width="2.2" stroke-linecap="round" stroke-linejoin="round" stroke-opacity="0.5"/>
<polyline points="3056.7,629.1 3315.9,661.3" fill="none" stroke="#800080" stroke-width="2.2" stroke-linecap="round" stroke-linejoin="round" stroke-opacity="0.5"/>
<polyline points="3113.5,616.4 3315.4,677.6 3374.8,778.2" fill="none" stroke="#adff2f" stroke-width="2.2" stroke-linecap="round" stroke-linejoin="round" stroke-opacity="0.5"/>
<polygon points="3033.0,623.9 3037.5,631.4 3033.0,638.9 3028.5,631.4" fill="#86fdfd"/>
<polygon points="3066.0,631.9 3070.5,639.4 3066.0,646.9 3061.5,639.4" fill="#86fdfd"/>
<polygon points="3107.4,637.1 3111.9,644.6 3107.4,652.1 3102.9,644.6" fill="#86fdfd"/>
<polygon points="3135.1,645.1 3139.6,652.6 3135.1,660.1 3130.6,652.6" fill="#86fdfd"/>
<polygon points="3165.5,651.1 3170.0,658.6 3165.5,666.1 3161.0,658.6" fill="#86fdfd"/>
<polygon points="3231.0,687.3 3235.5,694.8 3231.0,702.3 3226.5,694.8" fill="#86fdfd"/>
<polygon points="3250.2,696.8 3254.7,704.3 3250.2,711.8 3245.7,704.3" fill="#86fdfd"/>
<polygon points="3315.4,802.4 3319.9,809.9 3315.4,817.4 3310.9,809.9" fill="#86fdfd"/>
<polygon points="3350.0,846.7 3354.5,854.2 3350.0,861.7 3345.5,854.2" fill="#86fdfd"/>
<polygon points="3388.0,882.6 3392.5,890.1 3388.0,897.6 3383.5,890.1" fill="#86fdfd"/>
<polygon points="3120.0,632.3 3120.0,644.3 3108.0,638.3" fill="#e9a228"/>
<polygon points="3153.8,655.3 3153.8,667.3 3141.8,661.3" fill="#e9a228"/>
<polygon points="3192.1,667.1 3192.1,679.1 3180.1,673.1" fill="#e9a228"/>
<polygon points="3250.7,643.4 3250.7,655.4 3238.7,649.4" fill="#e9a228"/>
<polygon points="3221.9,684.3 3221.9,696.3 3209.9,690.3" fill="#e9a228"/>
<polygon points="3206.6,700.9 3206.6,712.9 3194.6,706.9" fill="#e9a228"/>
<polygon points="3217.2,716.0 3217.2,728.0 3205.2,722.0" fill="#e9a228"/>
<polygon points="3198.2,727.9 3198.2,739.9 3186.2,733.9" fill="#e9a228"/>
<polygon points="3273.4,697.5 3273.4,709.5 3261.4,703.5" fill="#e9a228"/>
<polygon points="3293.7,730.5 3293.7,742.5 3281.7,736.5" fill="#e9a228"/>
<polygon points="3241.7,754.2 3241.7,766.2 3229.7,760.2" fill="#e9a228"/>
<polygon points="3233.0,797.8 3233.0,809.8 3221.0,803.8" fill="#e9a228"/>
<polygon points="3201.3,631.5 3201.3,643.5 3189.3,637.5" fill="#e9a228"/>
<polygon points="3073.2,621.0 3073.2,633.0 3085.2,627.0" fill="#8c3232"/>
<polygon points="3050.7,622.3 3050.7,634.3 3062.7,628.3" fill="#8c3232"/>
<polygon points="3221.0,655.3 3221.0,667.3 3233.0,661.3" fill="#8c3232"/>
<polygon points="3294.1,672.4 3294.1,684.4 3306.1,678.4" fill="#8c3232"/>
<polygon points="3307.6,690.1 3307.6,702.1 3319.6,696.1" fill="#8c3232"/>
<polygon points="3313.9,724.7 3313.9,736.7 3325.9,730.7" fill="#8c3232"/>
<polygon points="3269.8,756.9 3269.8,768.9 3281.8,762.9" fill="#8c3232"/>
<polygon points="3236.3,818.4 3236.3,830.4 3248.3,824.4" fill="#8c3232"/>
<polygon points="3311.5,891.5 3311.5,903.5 3323.5,897.5" fill="#8c3232"/>
<polygon points="3037.6,627.6 3049.6,627.6 3043.6,639.6" fill="#0000ff"/>
<polygon points="3065.3,624.9 3077.3,624.9 3071.3,636.9" fill="#0000ff"/>
<polygon points="3093.8,629.4 3105.8,629.4 3099.8,641.4" fill="#0000ff"/>
<polygon points="3125.2,638.6 3137.2,638.6 3131.2,650.6" fill="#0000ff"/>
<polygon points="3168.2,663.2 3180.2,663.2 3174.2,675.2" fill="#0000ff"/>
<polygon points="3270.6,675.6 3282.6,675.6 3276.6,687.6" fill="#0000ff"/>
<polygon points="3305.5,666.6 3317.5,666.6 3311.5,678.6" fill="#0000ff"/>
<polygon points="3317.3,668.5 3329.3,668.5 3323.3,680.5" fill="#0000ff"/>
<polygon points="3325.3,672.4 3337.3,672.4 3331.3,684.4" fill="#0000ff"/>
<polygon points="3331.9,667.9 3343.9,667.9 3337.9,679.9" fill="#0000ff"/>
<polygon points="3239.5,644.7 3251.5,644.7 3245.5,656.7" fill="#0000ff"/>
<path d="M3310.4,661.3h11.0M3315.9,655.8v11.0" stroke="#800080" stroke-width="2.4" fill="none"/>
<path d="M3264.5,667.1h11.0M3270.0,661.6v11.0" stroke="#800080" stroke-width="2.4" fill="none"/>
<path d="M3287.5,671.3h11.0M3293.0,665.8v11.0" stroke="#800080" stroke-width="2.4" fill="none"/>
<path d="M3214.1,694.8h11.0M3219.6,689.3v11.0" stroke="#800080" stroke-width="2.4" fill="none"/>
<path d="M3249.4,680.5v-7.0M3249.4,680.5l5.6,3.5M3249.4,680.5l-5.6,3.5" stroke="#adff2f" stroke-width="2.4" fill="none"/>
<path d="M3300.1,685.0v-7.0M3300.1,685.0l5.6,3.5M3300.1,685.0l-5.6,3.5" stroke="#adff2f" stroke-width="2.4" fill="none"/>
<path d="M3310.9,683.7v-7.0M3310.9,683.7l5.6,3.5M3310.9,683.7l-5.6,3.5" stroke="#adff2f" stroke-width="2.4" fill="none"/>
<path d="M3315.4,677.6v-7.0M3315.4,677.6l5.6,3.5M3315.4,677.6l-5.6,3.5" stroke="#adff2f" stroke-width="2.4" fill="none"/>
<path d="M3374.8,778.2v-7.0M3374.8,778.2l5.6,3.5M3374.8,778.2l-5.6,3.5" stroke="#adff2f" stroke-width="2.4" fill="none"/>
<path d="M3113.5,616.4v-7.0M3113.5,616.4l5.6,3.5M3113.5,616.4l-5.6,3.5" stroke="#adff2f" stroke-width="2.4" fill="none"/>
<polygon points="3036.5,640.1 3057.5,640.1 3047.0,619.1" fill="#e100ff"/>
<line x1="3058.9" y1="604.0" x2="3058.9" y2="911.2" stroke="#000" stroke-width="2.7" stroke-dasharray="9.6,4.2"/>
<line x1="3015.3" y1="628.5" x2="3420.2" y2="628.5" stroke="#000" stroke-width="2.7" stroke-dasharray="9.6,4.2"/>
<polygon points="3058.9,622.5 3060.3,626.5 3064.6,626.7 3061.3,629.3 3062.4,633.4 3058.9,631.1 3055.3,633.4 3056.5,629.3 3053.2,626.7 3057.4,626.5" fill="#000"/>
<polyline points="3106.9,617.7 3318.1,654.1 3366.1,675.8 3401.2,838.6" fill="none" stroke="#dc0000" stroke-width="8.2" stroke-linecap="round" stroke-linejoin="round"/>
<circle cx="3106.9" cy="617.7" r="5.8" fill="#dc0000"/>
<circle cx="3272.4" cy="650.2" r="5.8" fill="#dc0000"/>
<circle cx="3318.1" cy="654.1" r="5.8" fill="#dc0000"/>
<circle cx="3347.9" cy="676.6" r="5.8" fill="#dc0000"/>
<circle cx="3348.9" cy="684.2" r="5.8" fill="#dc0000"/>
<circle cx="3366.1" cy="675.8" r="5.8" fill="#dc0000"/>
<circle cx="3334.7" cy="715.9" r="5.8" fill="#dc0000"/>
<circle cx="3351.1" cy="796.4" r="5.8" fill="#dc0000"/>
<circle cx="3401.2" cy="838.6" r="5.8" fill="#dc0000"/>
</g>
<rect x="3015.3" y="604.0" width="404.9" height="307.2" fill="none" stroke="#000" stroke-width="1.6"/>
<line x1="3075.5" y1="911.2" x2="3075.5" y2="917.7" stroke="#000" stroke-width="1.5" />
<text id="t67" x="3075.5" y="943.4" font-family="'DejaVu Sans', sans-serif" font-size="25.2" text-anchor="middle" >14</text>
<line x1="3141.5" y1="911.2" x2="3141.5" y2="917.7" stroke="#000" stroke-width="1.5" />
<text id="t68" x="3141.5" y="943.4" font-family="'DejaVu Sans', sans-serif" font-size="25.2" text-anchor="middle" >12</text>
<line x1="3207.5" y1="911.2" x2="3207.5" y2="917.7" stroke="#000" stroke-width="1.5" />
<text id="t69" x="3207.5" y="943.4" font-family="'DejaVu Sans', sans-serif" font-size="25.2" text-anchor="middle" >10</text>
<line x1="3273.5" y1="911.2" x2="3273.5" y2="917.7" stroke="#000" stroke-width="1.5" />
<text id="t70" x="3273.5" y="943.4" font-family="'DejaVu Sans', sans-serif" font-size="25.2" text-anchor="middle" >8</text>
<line x1="3339.5" y1="911.2" x2="3339.5" y2="917.7" stroke="#000" stroke-width="1.5" />
<text id="t71" x="3339.5" y="943.4" font-family="'DejaVu Sans', sans-serif" font-size="25.2" text-anchor="middle" >6</text>
<line x1="3405.5" y1="911.2" x2="3405.5" y2="917.7" stroke="#000" stroke-width="1.5" />
<text id="t72" x="3405.5" y="943.4" font-family="'DejaVu Sans', sans-serif" font-size="25.2" text-anchor="middle" >4</text>
<line x1="3008.8" y1="675.2" x2="3015.3" y2="675.2" stroke="#000" stroke-width="1.5" />
<text id="t73" x="3003.8" y="684.4" font-family="'DejaVu Sans', sans-serif" font-size="25.2" text-anchor="end" >62</text>
<line x1="3008.8" y1="748.2" x2="3015.3" y2="748.2" stroke="#000" stroke-width="1.5" />
<text id="t74" x="3003.8" y="757.4" font-family="'DejaVu Sans', sans-serif" font-size="25.2" text-anchor="end" >60</text>
<line x1="3008.8" y1="820.8" x2="3015.3" y2="820.8" stroke="#000" stroke-width="1.5" />
<text id="t75" x="3003.8" y="830.0" font-family="'DejaVu Sans', sans-serif" font-size="25.2" text-anchor="end" >58</text>
<line x1="3008.8" y1="893.6" x2="3015.3" y2="893.6" stroke="#000" stroke-width="1.5" />
<text id="t76" x="3003.8" y="902.8" font-family="'DejaVu Sans', sans-serif" font-size="25.2" text-anchor="end" >56</text>
<text id="t77" x="3217.8" y="593.5" font-family="'DejaVu Sans', sans-serif" font-size="29.2" text-anchor="middle" >COMPAS</text>
<text transform="translate(2957.0,758.5) rotate(-90)" font-family="'DejaVu Sans', sans-serif" font-size="31" text-anchor="middle" textLength="211.0" lengthAdjust="spacingAndGlyphs">Accuracy (%)</text>
<text id="t78" x="3216.4" y="979.3" font-family="'DejaVu Sans', sans-serif" font-size="32.7" text-anchor="middle" >Δ<tspan font-style="italic" font-size="22.9" dy="7.2">DCA</tspan><tspan dy="-7.2"> (%)</tspan></text>
<clipPath id="cp2"><rect x="3541.4" y="604.5" width="404.6" height="306.7"/></clipPath>
<g clip-path="url(#cp2)">
<polyline points="3773.9,618.2 3870.0,619.6" fill="none" stroke="#c472d9" stroke-width="2.2" stroke-linecap="round" stroke-linejoin="round" stroke-opacity="0.5"/>
<polyline points="3712.9,677.1 3824.6,698.7 3851.0,710.1" fill="none" stroke="#800080" stroke-width="2.2" stroke-linecap="round" stroke-linejoin="round" stroke-opacity="0.5"/>
<polyline points="3761.2,685.5 3840.9,693.5 3857.0,897.5" fill="none" stroke="#adff2f" stroke-width="2.2" stroke-linecap="round" stroke-linejoin="round" stroke-opacity="0.5"/>
<polyline points="3821.9,770.8 3911.7,880.6" fill="none" stroke="#0000ff" stroke-width="2.2" stroke-linecap="round" stroke-linejoin="round" stroke-opacity="0.5"/>
<path d="M3659.9,639.6l10.0,10.0M3659.9,649.6l10.0,-10.0" stroke="#c472d9" stroke-width="2.4" fill="none"/>
<path d="M3669.7,644.7l10.0,10.0M3669.7,654.7l10.0,-10.0" stroke="#c472d9" stroke-width="2.4" fill="none"/>
<path d="M3698.7,652.6l10.0,10.0M3698.7,662.6l10.0,-10.0" stroke="#c472d9" stroke-width="2.4" fill="none"/>
<path d="M3727.2,652.6l10.0,10.0M3727.2,662.6l10.0,-10.0" stroke="#c472d9" stroke-width="2.4" fill="none"/>
<path d="M3753.1,618.3l10.0,10.0M3753.1,628.3l10.0,-10.0" stroke="#c472d9" stroke-width="2.4" fill="none"/>
<path d="M3768.9,613.2l10.0,10.0M3768.9,623.2l10.0,-10.0" stroke="#c472d9" stroke-width="2.4" fill="none"/>
<path d="M3865.0,614.6l10.0,10.0M3865.0,624.6l10.0,-10.0" stroke="#c472d9" stroke-width="2.4" fill="none"/>
<path d="M3871.6,619.0l10.0,10.0M3871.6,629.0l10.0,-10.0" stroke="#c472d9" stroke-width="2.4" fill="none"/>
<path d="M3707.4,677.1h11.0M3712.9,671.6v11.0" stroke="#800080" stroke-width="2.4" fill="none"/>
<path d="M3819.1,698.7h11.0M3824.6,693.2v11.0" stroke="#800080" stroke-width="2.4" fill="none"/>
<path d="M3832.3,713.0h11.0M3837.8,707.5v11.0" stroke="#800080" stroke-width="2.4" fill="none"/>
<path d="M3845.5,710.1h11.0M3851.0,704.6v11.0" stroke="#800080" stroke-width="2.4" fill="none"/>
<path d="M3854.7,710.9h11.0M3860.2,705.4v11.0" stroke="#800080" stroke-width="2.4" fill="none"/>
<path d="M3848.4,732.5h11.0M3853.9,727.0v11.0" stroke="#800080" stroke-width="2.4" fill="none"/>
<path d="M3761.2,684.5v-7.0M3761.2,684.5l5.6,3.5M3761.2,684.5l-5.6,3.5" stroke="#adff2f" stroke-width="2.4" fill="none"/>
<path d="M3767.8,690.3v-7.0M3767.8,690.3l5.6,3.5M3767.8,690.3l-5.6,3.5" stroke="#adff2f" stroke-width="2.4" fill="none"/>
<path d="M3840.9,693.5v-7.0M3840.9,693.5l5.6,3.5M3840.9,693.5l-5.6,3.5" stroke="#adff2f" stroke-width="2.4" fill="none"/>
<path d="M3818.8,711.9v-7.0M3818.8,711.9l5.6,3.5M3818.8,711.9l-5.6,3.5" stroke="#adff2f" stroke-width="2.4" fill="none"/>
<path d="M3793.4,739.7v-7.0M3793.4,739.7l5.6,3.5M3793.4,739.7l-5.6,3.5" stroke="#adff2f" stroke-width="2.4" fill="none"/>
<path d="M3857.0,897.5v-7.0M3857.0,897.5l5.6,3.5M3857.0,897.5l-5.6,3.5" stroke="#adff2f" stroke-width="2.4" fill="none"/>
<polygon points="3788.8,721.8 3788.8,733.8 3800.8,727.8" fill="#4b801f"/>
<polygon points="3626.7,751.3 3626.7,763.3 3638.7,757.3" fill="#4b801f"/>
<polygon points="3556.5,827.6 3556.5,839.6 3568.5,833.6" fill="#4b801f"/>
<polygon points="3553.3,862.2 3553.3,874.2 3565.3,868.2" fill="#4b801f"/>
<polygon points="3815.9,764.8 3827.9,764.8 3821.9,776.8" fill="#0000ff"/>
<polygon points="3710.4,796.0 3722.4,796.0 3716.4,808.0" fill="#0000ff"/>
<polygon points="3800.1,793.8 3812.1,793.8 3806.1,805.8" fill="#0000ff"/>
<polygon points="3831.8,789.4 3843.8,789.4 3837.8,801.4" fill="#0000ff"/>
<polygon points="3819.1,800.4 3831.1,800.4 3825.1,812.4" fill="#0000ff"/>
<polygon points="3838.4,803.9 3850.4,803.9 3844.4,815.9" fill="#0000ff"/>
<polygon points="3758.4,818.4 3770.4,818.4 3764.4,830.4" fill="#0000ff"/>
<polygon points="3793.5,818.4 3805.5,818.4 3799.5,830.4" fill="#0000ff"/>
<polygon points="3742.6,848.2 3754.6,848.2 3748.6,860.2" fill="#0000ff"/>
<polygon points="3905.7,874.6 3917.7,874.6 3911.7,886.6" fill="#0000ff"/>
<polygon points="3773.2,690.2 3794.2,690.2 3783.7,669.2" fill="#e100ff"/>
<line x1="3726.1" y1="604.5" x2="3726.1" y2="911.2" stroke="#000" stroke-width="2.7" stroke-dasharray="9.6,4.2"/>
<line x1="3541.4" y1="690.8" x2="3946.0" y2="690.8" stroke="#000" stroke-width="2.7" stroke-dasharray="9.6,4.2"/>
<polygon points="3726.1,684.8 3727.6,688.8 3731.8,689.0 3728.5,691.6 3729.7,695.7 3726.1,693.3 3722.6,695.7 3723.7,691.6 3720.4,689.0 3724.6,688.8" fill="#000"/>
<polyline points="3799.5,658.6 3924.4,674.5 3927.5,698.7" fill="none" stroke="#dc0000" stroke-width="8.2" stroke-linecap="round" stroke-linejoin="round"/>
<circle cx="3799.5" cy="658.6" r="5.8" fill="#dc0000"/>
<circle cx="3808.7" cy="662.6" r="5.8" fill="#dc0000"/>
<circle cx="3818.5" cy="669.7" r="5.8" fill="#dc0000"/>
<circle cx="3837.8" cy="667.9" r="5.8" fill="#dc0000"/>
<circle cx="3834.6" cy="677.1" r="5.8" fill="#dc0000"/>
<circle cx="3924.4" cy="674.5" r="5.8" fill="#dc0000"/>
<circle cx="3898.5" cy="693.5" r="5.8" fill="#dc0000"/>
<circle cx="3927.5" cy="698.7" r="5.8" fill="#dc0000"/>
</g>
<rect x="3541.4" y="604.5" width="404.6" height="306.7" fill="none" stroke="#000" stroke-width="1.6"/>
<line x1="3550.2" y1="911.2" x2="3550.2" y2="917.7" stroke="#000" stroke-width="1.5" />
<text id="t79" x="3550.2" y="943.4" font-family="'DejaVu Sans', sans-serif" font-size="25.2" text-anchor="middle" >24</text>
<line x1="3626.9" y1="911.2" x2="3626.9" y2="917.7" stroke="#000" stroke-width="1.5" />
<text id="t80" x="3626.9" y="943.4" font-family="'DejaVu Sans', sans-serif" font-size="25.2" text-anchor="middle" >22</text>
<line x1="3703.7" y1="911.2" x2="3703.7" y2="917.7" stroke="#000" stroke-width="1.5" />
<text id="t81" x="3703.7" y="943.4" font-family="'DejaVu Sans', sans-serif" font-size="25.2" text-anchor="middle" >20</text>
<line x1="3780.4" y1="911.2" x2="3780.4" y2="917.7" stroke="#000" stroke-width="1.5" />
<text id="t82" x="3780.4" y="943.4" font-family="'DejaVu Sans', sans-serif" font-size="25.2" text-anchor="middle" >18</text>
<line x1="3857.2" y1="911.2" x2="3857.2" y2="917.7" stroke="#000" stroke-width="1.5" />
<text id="t83" x="3857.2" y="943.4" font-family="'DejaVu Sans', sans-serif" font-size="25.2" text-anchor="middle" >16</text>
<line x1="3933.9" y1="911.2" x2="3933.9" y2="917.7" stroke="#000" stroke-width="1.5" />
<text id="t84" x="3933.9" y="943.4" font-family="'DejaVu Sans', sans-serif" font-size="25.2" text-anchor="middle" >14</text>
<line x1="3534.9" y1="661.6" x2="3541.4" y2="661.6" stroke="#000" stroke-width="1.5" />
<text id="t85" x="3529.9" y="670.8" font-family="'DejaVu Sans', sans-serif" font-size="25.2" text-anchor="end" >80.0</text>
<line x1="3534.9" y1="723.7" x2="3541.4" y2="723.7" stroke="#000" stroke-width="1.5" />
<text id="t86" x="3529.9" y="732.9" font-family="'DejaVu Sans', sans-serif" font-size="25.2" text-anchor="end" >77.5</text>
<line x1="3534.9" y1="785.8" x2="3541.4" y2="785.8" stroke="#000" stroke-width="1.5" />
<text id="t87" x="3529.9" y="795.0" font-family="'DejaVu Sans', sans-serif" font-size="25.2" text-anchor="end" >75.0</text>
<line x1="3534.9" y1="847.8" x2="3541.4" y2="847.8" stroke="#000" stroke-width="1.5" />
<text id="t88" x="3529.9" y="857.0" font-family="'DejaVu Sans', sans-serif" font-size="25.2" text-anchor="end" >72.5</text>
<line x1="3534.9" y1="909.9" x2="3541.4" y2="909.9" stroke="#000" stroke-width="1.5" />
<text id="t89" x="3529.9" y="919.1" font-family="'DejaVu Sans', sans-serif" font-size="25.2" text-anchor="end" >70.0</text>
<text id="t90" x="3743.7" y="594.0" font-family="'DejaVu Sans', sans-serif" font-size="29.2" text-anchor="middle" >UTKFace</text>
<text transform="translate(3458.5,758.5) rotate(-90)" font-family="'DejaVu Sans', sans-serif" font-size="31" text-anchor="middle" textLength="211.0" lengthAdjust="spacingAndGlyphs">Accuracy (%)</text>
<text id="t91" x="3742.0" y="979.3" font-family="'DejaVu Sans', sans-serif" font-size="32.7" text-anchor="middle" >Δ<tspan font-style="italic" font-size="22.9" dy="7.2">DCA</tspan><tspan dy="-7.2"> (%)</tspan></text>
<clipPath id="cp3"><rect x="4067.4" y="604.5" width="404.9" height="306.7"/></clipPath>
<g clip-path="url(#cp3)">
<polyline points="4196.5,705.3 4339.8,755.0" fill="none" stroke="#adff2f" stroke-width="2.2" stroke-linecap="round" stroke-linejoin="round" stroke-opacity="0.5"/>
<polyline points="4067.4,786.6 4110.7,791.4 4147.7,804.6" fill="none" stroke="#800080" stroke-width="2.2" stroke-linecap="round" stroke-linejoin="round" stroke-opacity="0.5"/>
<polyline points="4233.4,757.6 4295.5,801.2 4317.9,833.4" fill="none" stroke="#c472d9" stroke-width="2.2" stroke-linecap="round" stroke-linejoin="round" stroke-opacity="0.5"/>
<polyline points="4274.9,744.4 4299.4,852.1 4305.2,885.1" fill="none" stroke="#e9a228" stroke-width="2.2" stroke-linecap="round" stroke-linejoin="round" stroke-opacity="0.5"/>
<polyline points="4288.9,821.7 4358.8,850.8 4382.0,894.3" fill="none" stroke="#86fdfd" stroke-width="2.2" stroke-linecap="round" stroke-linejoin="round" stroke-opacity="0.5"/>
<polyline points="4379.9,722.5 4414.8,883.8" fill="none" stroke="#0000ff" stroke-width="2.2" stroke-linecap="round" stroke-linejoin="round" stroke-opacity="0.5"/>
<path d="M4196.5,705.3v-7.0M4196.5,705.3l5.6,3.5M4196.5,705.3l-5.6,3.5" stroke="#adff2f" stroke-width="2.4" fill="none"/>
<path d="M4189.1,733.9v-7.0M4189.1,733.9l5.6,3.5M4189.1,733.9l-5.6,3.5" stroke="#adff2f" stroke-width="2.4" fill="none"/>
<path d="M4339.8,755.0v-7.0M4339.8,755.0l5.6,3.5M4339.8,755.0l-5.6,3.5" stroke="#adff2f" stroke-width="2.4" fill="none"/>
<path d="M4325.0,782.2v-7.0M4325.0,782.2l5.6,3.5M4325.0,782.2l-5.6,3.5" stroke="#adff2f" stroke-width="2.4" fill="none"/>
<path d="M4314.7,808.6v-7.0M4314.7,808.6l5.6,3.5M4314.7,808.6l-5.6,3.5" stroke="#adff2f" stroke-width="2.4" fill="none"/>
<path d="M4105.2,791.4h11.0M4110.7,785.9v11.0" stroke="#800080" stroke-width="2.4" fill="none"/>
<path d="M4142.2,804.6h11.0M4147.7,799.1v11.0" stroke="#800080" stroke-width="2.4" fill="none"/>
<path d="M4080.4,813.8h11.0M4085.9,808.3v11.0" stroke="#800080" stroke-width="2.4" fill="none"/>
<path d="M4228.4,752.6l10.0,10.0M4228.4,762.6l10.0,-10.0" stroke="#c472d9" stroke-width="2.4" fill="none"/>
<path d="M4243.5,782.2l10.0,10.0M4243.5,792.2l10.0,-10.0" stroke="#c472d9" stroke-width="2.4" fill="none"/>
<path d="M4248.2,802.2l10.0,10.0M4248.2,812.2l10.0,-10.0" stroke="#c472d9" stroke-width="2.4" fill="none"/>
<path d="M4290.5,796.2l10.0,10.0M4290.5,806.2l10.0,-10.0" stroke="#c472d9" stroke-width="2.4" fill="none"/>
<path d="M4312.9,828.4l10.0,10.0M4312.9,838.4l10.0,-10.0" stroke="#c472d9" stroke-width="2.4" fill="none"/>
<path d="M4297.6,845.0l10.0,10.0M4297.6,855.0l10.0,-10.0" stroke="#c472d9" stroke-width="2.4" fill="none"/>
<polygon points="4280.9,738.4 4280.9,750.4 4268.9,744.4" fill="#e9a228"/>
<polygon points="4267.2,834.8 4267.2,846.8 4255.2,840.8" fill="#e9a228"/>
<polygon points="4305.4,846.1 4305.4,858.1 4293.4,852.1" fill="#e9a228"/>
<polygon points="4311.2,879.1 4311.2,891.1 4299.2,885.1" fill="#e9a228"/>
<polygon points="4288.9,814.2 4293.4,821.7 4288.9,829.2 4284.4,821.7" fill="#86fdfd"/>
<polygon points="4358.8,843.3 4363.3,850.8 4358.8,858.3 4354.3,850.8" fill="#86fdfd"/>
<polygon points="4329.0,861.8 4333.5,869.3 4329.0,876.8 4324.5,869.3" fill="#86fdfd"/>
<polygon points="4337.2,876.0 4341.7,883.5 4337.2,891.0 4332.7,883.5" fill="#86fdfd"/>
<polygon points="4366.2,881.0 4370.7,888.5 4366.2,896.0 4361.7,888.5" fill="#86fdfd"/>
<polygon points="4382.0,886.8 4386.5,894.3 4382.0,901.8 4377.5,894.3" fill="#86fdfd"/>
<polygon points="4373.9,716.5 4385.9,716.5 4379.9,728.5" fill="#0000ff"/>
<polygon points="4333.8,838.7 4345.8,838.7 4339.8,850.7" fill="#0000ff"/>
<polygon points="4408.8,877.8 4420.8,877.8 4414.8,889.8" fill="#0000ff"/>
<polygon points="4258.6,900.7 4270.6,900.7 4264.6,912.7" fill="#0000ff"/>
<polygon points="4396.6,852.6 4417.6,852.6 4407.1,831.6" fill="#e100ff"/>
<line x1="4297.6" y1="604.5" x2="4297.6" y2="911.2" stroke="#000" stroke-width="2.7" stroke-dasharray="9.6,4.2"/>
<line x1="4067.4" y1="747.6" x2="4472.3" y2="747.6" stroke="#000" stroke-width="2.7" stroke-dasharray="9.6,4.2"/>
<polygon points="4297.6,741.8 4299.1,745.8 4303.3,746.0 4300.0,748.6 4301.1,752.7 4297.6,750.4 4294.1,752.7 4295.2,748.6 4291.9,746.0 4296.1,745.8" fill="#000"/>
<polyline points="4347.7,644.6 4369.4,646.7 4395.2,699.5 4414.3,776.1" fill="none" stroke="#dc0000" stroke-width="8.2" stroke-linecap="round" stroke-linejoin="round"/>
<circle cx="4347.7" cy="644.6" r="5.8" fill="#dc0000"/>
<circle cx="4369.4" cy="646.7" r="5.8" fill="#dc0000"/>
<circle cx="4395.2" cy="699.5" r="5.8" fill="#dc0000"/>
<circle cx="4376.8" cy="710.1" r="5.8" fill="#dc0000"/>
<circle cx="4392.3" cy="733.9" r="5.8" fill="#dc0000"/>
<circle cx="4414.3" cy="776.1" r="5.8" fill="#dc0000"/>
</g>
<rect x="4067.4" y="604.5" width="404.9" height="306.7" fill="none" stroke="#000" stroke-width="1.6"/>
<line x1="4078.3" y1="911.2" x2="4078.3" y2="917.7" stroke="#000" stroke-width="1.5" />
<text id="t92" x="4078.3" y="943.4" font-family="'DejaVu Sans', sans-serif" font-size="25.2" text-anchor="middle" >22</text>
<line x1="4123.3" y1="911.2" x2="4123.3" y2="917.7" stroke="#000" stroke-width="1.5" />
<text id="t93" x="4123.3" y="943.4" font-family="'DejaVu Sans', sans-serif" font-size="25.2" text-anchor="middle" >20</text>
<line x1="4168.3" y1="911.2" x2="4168.3" y2="917.7" stroke="#000" stroke-width="1.5" />
<text id="t94" x="4168.3" y="943.4" font-family="'DejaVu Sans', sans-serif" font-size="25.2" text-anchor="middle" >18</text>
<line x1="4213.3" y1="911.2" x2="4213.3" y2="917.7" stroke="#000" stroke-width="1.5" />
<text id="t95" x="4213.3" y="943.4" font-family="'DejaVu Sans', sans-serif" font-size="25.2" text-anchor="middle" >16</text>
<line x1="4258.3" y1="911.2" x2="4258.3" y2="917.7" stroke="#000" stroke-width="1.5" />
<text id="t96" x="4258.3" y="943.4" font-family="'DejaVu Sans', sans-serif" font-size="25.2" text-anchor="middle" >14</text>
<line x1="4303.3" y1="911.2" x2="4303.3" y2="917.7" stroke="#000" stroke-width="1.5" />
<text id="t97" x="4303.3" y="943.4" font-family="'DejaVu Sans', sans-serif" font-size="25.2" text-anchor="middle" >12</text>
<line x1="4348.3" y1="911.2" x2="4348.3" y2="917.7" stroke="#000" stroke-width="1.5" />
<text id="t98" x="4348.3" y="943.4" font-family="'DejaVu Sans', sans-serif" font-size="25.2" text-anchor="middle" >10</text>
<line x1="4393.3" y1="911.2" x2="4393.3" y2="917.7" stroke="#000" stroke-width="1.5" />
<text id="t99" x="4393.3" y="943.4" font-family="'DejaVu Sans', sans-serif" font-size="25.2" text-anchor="middle" >8</text>
<line x1="4438.3" y1="911.2" x2="4438.3" y2="917.7" stroke="#000" stroke-width="1.5" />
<text id="t100" x="4438.3" y="943.4" font-family="'DejaVu Sans', sans-serif" font-size="25.2" text-anchor="middle" >6</text>
<line x1="4060.9" y1="634.5" x2="4067.4" y2="634.5" stroke="#000" stroke-width="1.5" />
<text id="t101" x="4055.9" y="643.7" font-family="'DejaVu Sans', sans-serif" font-size="25.2" text-anchor="end" >80</text>
<line x1="4060.9" y1="754.8" x2="4067.4" y2="754.8" stroke="#000" stroke-width="1.5" />
<text id="t102" x="4055.9" y="764.0" font-family="'DejaVu Sans', sans-serif" font-size="25.2" text-anchor="end" >78</text>
<line x1="4060.9" y1="875.0" x2="4067.4" y2="875.0" stroke="#000" stroke-width="1.5" />
<text id="t103" x="4055.9" y="884.2" font-family="'DejaVu Sans', sans-serif" font-size="25.2" text-anchor="end" >76</text>
<text id="t104" x="4269.9" y="594.0" font-family="'DejaVu Sans', sans-serif" font-size="29.2" text-anchor="middle" >CivilComments</text>
<text transform="translate(4010.0,758.5) rotate(-90)" font-family="'DejaVu Sans', sans-serif" font-size="31" text-anchor="middle" textLength="211.0" lengthAdjust="spacingAndGlyphs">Accuracy (%)</text>
<text id="t105" x="4268.5" y="979.3" font-family="'DejaVu Sans', sans-serif" font-size="32.7" text-anchor="middle" >Δ<tspan font-style="italic" font-size="22.9" dy="7.2">DCA</tspan><tspan dy="-7.2"> (%)</tspan></text>
<polygon points="4495.0,580.0 4496.4,583.6 4500.2,583.8 4497.2,586.2 4498.2,589.9 4495.0,587.8 4491.8,589.9 4492.8,586.2 4489.8,583.8 4493.6,583.6" fill="#000"/>
<text id="t106" x="4513.5" y="593.5" font-family="'DejaVu Sans', sans-serif" font-size="28.6" >Scratch</text>
<polygon points="4489.0,633.5 4501.0,633.5 4495.0,621.5" fill="#e100ff"/>
<text id="t107" x="4513.5" y="635.5" font-family="'DejaVu Sans', sans-serif" font-size="28.6" >RW</text>
<polygon points="4489.0,662.2 4501.0,662.2 4495.0,674.2" fill="#0000ff"/>
<text id="t108" x="4513.5" y="676.2" font-family="'DejaVu Sans', sans-serif" font-size="28.6" >LBC</text>
<polygon points="4501.0,704.0 4501.0,716.0 4489.0,710.0" fill="#e9a228"/>
<text id="t109" x="4513.5" y="718.0" font-family="'DejaVu Sans', sans-serif" font-size="28.6" >Cov</text>
<polygon points="4489.0,746.5 4489.0,758.5 4501.0,752.5" fill="#8c3232"/>
<text id="t110" x="4513.5" y="760.5" font-family="'DejaVu Sans', sans-serif" font-size="28.6" >Rényi</text>
<path d="M4489.5,794.5h11.0M4495.0,789.0v11.0" stroke="#800080" stroke-width="2.4" fill="none"/>
<text id="t111" x="4513.5" y="802.5" font-family="'DejaVu Sans', sans-serif" font-size="28.6" >FairBatch</text>
<polygon points="4489.0,830.0 4489.0,842.0 4501.0,836.0" fill="#4b801f"/>
<text id="t112" x="4513.5" y="844.0" font-family="'DejaVu Sans', sans-serif" font-size="28.6" >FairHSIC</text>
<polygon points="4495.0,870.0 4499.5,877.5 4495.0,885.0 4490.5,877.5" fill="#86fdfd"/>
<text id="t113" x="4513.5" y="885.5" font-family="'DejaVu Sans', sans-serif" font-size="28.6" >EGR</text>
<path d="M4489.5,913.6l11.0,11.0M4489.5,924.6l11.0,-11.0" stroke="#c472d9" stroke-width="2.4" fill="none"/>
<text id="t114" x="4513.5" y="927.1" font-family="'DejaVu Sans', sans-serif" font-size="28.6" >MFD</text>
<path d="M4495.0,961.0v-6.5M4495.0,961.0l5.2,3.2M4495.0,961.0l-5.2,3.2" stroke="#adff2f" stroke-width="2.4" fill="none"/>
<text id="t115" x="4513.5" y="969.0" font-family="'DejaVu Sans', sans-serif" font-size="28.6" >PL</text>
<circle cx="4495.0" cy="1002.5" r="5.8" fill="#dc0000"/>
<text id="t116" x="4513.5" y="1010.5" font-family="'DejaVu Sans', sans-serif" font-size="28.6" >FairDRO (ours)</text>

<!-- ablation scatter charts -->
<clipPath id="cp4"><rect x="3049.6" y="1238.6" width="346.0" height="320.7"/></clipPath>
<g clip-path="url(#cp4)">
<polyline points="3144.2,1261.7 3238.5,1290.2 3250.7,1313.3 3282.8,1545.7" fill="none" stroke="#0000ff" stroke-width="2.2" stroke-linecap="round" stroke-linejoin="round" stroke-opacity="0.5"/>
<polyline points="3146.9,1260.3 3265.1,1299.7 3266.5,1503.1" fill="none" stroke="#e9a228" stroke-width="2.2" stroke-linecap="round" stroke-linejoin="round" stroke-opacity="0.5"/>
<polyline points="3105.6,1272.6 3275.4,1302.5 3316.2,1329.1 3329.5,1390.8" fill="none" stroke="#4b801f" stroke-width="2.2" stroke-linecap="round" stroke-linejoin="round" stroke-opacity="0.5"/>
<polygon points="3065.3,1271.8 3077.3,1271.8 3071.3,1259.8" fill="#0000ff"/>
<polygon points="3086.0,1274.5 3098.0,1274.5 3092.0,1262.5" fill="#0000ff"/>
<polygon points="3138.2,1266.3 3150.2,1266.3 3144.2,1254.3" fill="#0000ff"/>
<polygon points="3170.2,1293.5 3182.2,1293.5 3176.2,1281.5" fill="#0000ff"/>
<polygon points="3189.3,1293.5 3201.3,1293.5 3195.3,1281.5" fill="#0000ff"/>
<polygon points="3215.6,1298.4 3227.6,1298.4 3221.6,1286.4" fill="#0000ff"/>
<polygon points="3232.5,1296.2 3244.5,1296.2 3238.5,1284.2" fill="#0000ff"/>
<polygon points="3244.7,1319.3 3256.7,1319.3 3250.7,1307.3" fill="#0000ff"/>
<polygon points="3219.2,1330.2 3231.2,1330.2 3225.2,1318.2" fill="#0000ff"/>
<polygon points="3202.0,1397.6 3214.0,1397.6 3208.0,1385.6" fill="#0000ff"/>
<polygon points="3276.8,1551.7 3288.8,1551.7 3282.8,1539.7" fill="#0000ff"/>
<polygon points="3084.9,1260.6 3084.9,1272.6 3072.9,1266.6" fill="#e9a228"/>
<polygon points="3122.4,1261.9 3122.4,1273.9 3110.4,1267.9" fill="#e9a228"/>
<polygon points="3152.9,1253.0 3152.9,1265.0 3140.9,1259.0" fill="#e9a228"/>
<polygon points="3211.3,1277.4 3211.3,1289.4 3199.3,1283.4" fill="#e9a228"/>
<polygon points="3247.5,1291.8 3247.5,1303.8 3235.5,1297.8" fill="#e9a228"/>
<polygon points="3260.2,1292.4 3260.2,1304.4 3248.2,1298.4" fill="#e9a228"/>
<polygon points="3271.1,1293.7 3271.1,1305.7 3259.1,1299.7" fill="#e9a228"/>
<polygon points="3245.3,1306.0 3245.3,1318.0 3233.3,1312.0" fill="#e9a228"/>
<polygon points="3235.8,1340.0 3235.8,1352.0 3223.8,1346.0" fill="#e9a228"/>
<polygon points="3272.5,1497.1 3272.5,1509.1 3260.5,1503.1" fill="#e9a228"/>
<polygon points="3067.0,1267.4 3071.3,1271.7 3069.2,1273.9 3071.3,1276.1 3067.0,1280.5 3064.8,1278.3 3062.6,1280.5 3058.2,1276.1 3060.4,1273.9 3058.2,1271.7 3062.6,1267.4 3064.8,1269.6" fill="#4b801f"/>
<polygon points="3107.7,1266.0 3112.1,1270.4 3109.9,1272.6 3112.1,1274.8 3107.7,1279.1 3105.6,1276.9 3103.4,1279.1 3099.0,1274.8 3101.2,1272.6 3099.0,1270.4 3103.4,1266.0 3105.6,1268.2" fill="#4b801f"/>
<polygon points="3155.3,1283.1 3159.7,1287.5 3157.5,1289.7 3159.7,1291.9 3155.3,1296.2 3153.1,1294.1 3150.9,1296.2 3146.6,1291.9 3148.8,1289.7 3146.6,1287.5 3150.9,1283.1 3153.1,1285.3" fill="#4b801f"/>
<polygon points="3221.9,1290.5 3226.3,1294.8 3224.1,1297.0 3226.3,1299.2 3221.9,1303.6 3219.7,1301.4 3217.5,1303.6 3213.2,1299.2 3215.4,1297.0 3213.2,1294.8 3217.5,1290.5 3219.7,1292.7" fill="#4b801f"/>
<polygon points="3277.6,1295.9 3282.0,1300.3 3279.8,1302.5 3282.0,1304.6 3277.6,1309.0 3275.4,1306.8 3273.3,1309.0 3268.9,1304.6 3271.1,1302.5 3268.9,1300.3 3273.3,1295.9 3275.4,1298.1" fill="#4b801f"/>
<polygon points="3285.0,1302.2 3289.3,1306.5 3287.2,1308.7 3289.3,1310.9 3285.0,1315.3 3282.8,1313.1 3280.6,1315.3 3276.2,1310.9 3278.4,1308.7 3276.2,1306.5 3280.6,1302.2 3282.8,1304.4" fill="#4b801f"/>
<polygon points="3289.9,1303.5 3294.2,1307.9 3292.0,1310.1 3294.2,1312.3 3289.9,1316.6 3287.7,1314.4 3285.5,1316.6 3281.1,1312.3 3283.3,1310.1 3281.1,1307.9 3285.5,1303.5 3287.7,1305.7" fill="#4b801f"/>
<polygon points="3301.8,1322.6 3306.2,1326.9 3304.0,1329.1 3306.2,1331.3 3301.8,1335.7 3299.6,1333.5 3297.5,1335.7 3293.1,1331.3 3295.3,1329.1 3293.1,1326.9 3297.5,1322.6 3299.6,1324.7" fill="#4b801f"/>
<polygon points="3318.4,1322.6 3322.8,1326.9 3320.6,1329.1 3322.8,1331.3 3318.4,1335.7 3316.2,1333.5 3314.0,1335.7 3309.7,1331.3 3311.9,1329.1 3309.7,1326.9 3314.0,1322.6 3316.2,1324.7" fill="#4b801f"/>
<polygon points="3318.4,1359.8 3322.8,1364.2 3320.6,1366.3 3322.8,1368.5 3318.4,1372.9 3316.2,1370.7 3314.0,1372.9 3309.7,1368.5 3311.9,1366.3 3309.7,1364.2 3314.0,1359.8 3316.2,1362.0" fill="#4b801f"/>
<polygon points="3331.7,1384.3 3336.1,1388.6 3333.9,1390.8 3336.1,1393.0 3331.7,1397.4 3329.5,1395.2 3327.4,1397.4 3323.0,1393.0 3325.2,1390.8 3323.0,1388.6 3327.4,1384.3 3329.5,1386.4" fill="#4b801f"/>
<line x1="3077.0" y1="1238.6" x2="3077.0" y2="1559.3" stroke="#000" stroke-width="2.7" stroke-dasharray="9.6,4.2"/>
<line x1="3049.6" y1="1265.8" x2="3395.6" y2="1265.8" stroke="#000" stroke-width="2.7" stroke-dasharray="9.6,4.2"/>
<polyline points="3119.2,1253.0 3305.9,1297.0 3348.6,1322.0 3379.8,1515.3" fill="none" stroke="#dc0000" stroke-width="8.2" stroke-linecap="round" stroke-linejoin="round"/>
<circle cx="3119.2" cy="1253.0" r="6.0" fill="#dc0000"/>
<circle cx="3265.7" cy="1291.1" r="6.0" fill="#dc0000"/>
<circle cx="3305.9" cy="1297.0" r="6.0" fill="#dc0000"/>
<circle cx="3331.2" cy="1321.5" r="6.0" fill="#dc0000"/>
<circle cx="3333.1" cy="1331.8" r="6.0" fill="#dc0000"/>
<circle cx="3348.6" cy="1322.0" r="6.0" fill="#dc0000"/>
<circle cx="3320.3" cy="1369.1" r="6.0" fill="#dc0000"/>
<circle cx="3335.2" cy="1465.0" r="6.0" fill="#dc0000"/>
<circle cx="3379.8" cy="1515.3" r="6.0" fill="#dc0000"/>
</g>
<rect x="3049.6" y="1238.6" width="346.0" height="320.7" fill="none" stroke="#000" stroke-width="1.6"/>
<line x1="3091.8" y1="1559.3" x2="3091.8" y2="1565.8" stroke="#000" stroke-width="1.5" />
<text id="t117" x="3091.8" y="1592.7" font-family="'DejaVu Sans', sans-serif" font-size="26.8" text-anchor="middle" >14</text>
<line x1="3150.0" y1="1559.3" x2="3150.0" y2="1565.8" stroke="#000" stroke-width="1.5" />
<text id="t118" x="3150.0" y="1592.7" font-family="'DejaVu Sans', sans-serif" font-size="26.8" text-anchor="middle" >12</text>
<line x1="3208.3" y1="1559.3" x2="3208.3" y2="1565.8" stroke="#000" stroke-width="1.5" />
<text id="t119" x="3208.3" y="1592.7" font-family="'DejaVu Sans', sans-serif" font-size="26.8" text-anchor="middle" >10</text>
<line x1="3266.5" y1="1559.3" x2="3266.5" y2="1565.8" stroke="#000" stroke-width="1.5" />
<text id="t120" x="3266.5" y="1592.7" font-family="'DejaVu Sans', sans-serif" font-size="26.8" text-anchor="middle" >8</text>
<line x1="3324.8" y1="1559.3" x2="3324.8" y2="1565.8" stroke="#000" stroke-width="1.5" />
<text id="t121" x="3324.8" y="1592.7" font-family="'DejaVu Sans', sans-serif" font-size="26.8" text-anchor="middle" >6</text>
<line x1="3383.0" y1="1559.3" x2="3383.0" y2="1565.8" stroke="#000" stroke-width="1.5" />
<text id="t122" x="3383.0" y="1592.7" font-family="'DejaVu Sans', sans-serif" font-size="26.8" text-anchor="middle" >4</text>
<line x1="3043.1" y1="1321.5" x2="3049.6" y2="1321.5" stroke="#000" stroke-width="1.5" />
<text id="t123" x="3038.1" y="1331.3" font-family="'DejaVu Sans', sans-serif" font-size="26.8" text-anchor="end" >62</text>
<line x1="3043.1" y1="1407.3" x2="3049.6" y2="1407.3" stroke="#000" stroke-width="1.5" />
<text id="t124" x="3038.1" y="1417.1" font-family="'DejaVu Sans', sans-serif" font-size="26.8" text-anchor="end" >60</text>
<line x1="3043.1" y1="1493.5" x2="3049.6" y2="1493.5" stroke="#000" stroke-width="1.5" />
<text id="t125" x="3038.1" y="1503.3" font-family="'DejaVu Sans', sans-serif" font-size="26.8" text-anchor="end" >58</text>
<text id="t126" x="3222.6" y="1228.1" font-family="'DejaVu Sans', sans-serif" font-size="31" text-anchor="middle" >COMPAS</text>
<text transform="translate(2989.0,1399.5) rotate(-90)" font-family="'DejaVu Sans', sans-serif" font-size="33" text-anchor="middle" textLength="222.0" lengthAdjust="spacingAndGlyphs">Accuracy (%)</text>
<text id="t127" x="3222.0" y="1629.7" font-family="'DejaVu Sans', sans-serif" font-size="34" text-anchor="middle" >Δ<tspan font-style="italic" font-size="23.8" dy="7.5">DCA</tspan><tspan dy="-7.5"> (%)</tspan></text>
<clipPath id="cp5"><rect x="3499.3" y="1238.6" width="346.3" height="320.7"/></clipPath>
<g clip-path="url(#cp5)">
<polyline points="3637.7,1305.2 3661.6,1322.3 3669.5,1386.7 3672.2,1472.3" fill="none" stroke="#0000ff" stroke-width="2.2" stroke-linecap="round" stroke-linejoin="round" stroke-opacity="0.5"/>
<polyline points="3712.9,1329.6 3829.8,1463.7" fill="none" stroke="#e9a228" stroke-width="2.2" stroke-linecap="round" stroke-linejoin="round" stroke-opacity="0.5"/>
<polyline points="3514.8,1303.3 3560.2,1383.5" fill="none" stroke="#4b801f" stroke-width="2.2" stroke-linecap="round" stroke-linejoin="round" stroke-opacity="0.5"/>
<polygon points="3631.7,1311.2 3643.7,1311.2 3637.7,1299.2" fill="#0000ff"/>
<polygon points="3639.3,1323.4 3651.3,1323.4 3645.3,1311.4" fill="#0000ff"/>
<polygon points="3655.6,1328.3 3667.6,1328.3 3661.6,1316.3" fill="#0000ff"/>
<polygon points="3663.5,1392.7 3675.5,1392.7 3669.5,1380.7" fill="#0000ff"/>
<polygon points="3644.7,1418.0 3656.7,1418.0 3650.7,1406.0" fill="#0000ff"/>
<polygon points="3666.2,1478.3 3678.2,1478.3 3672.2,1466.3" fill="#0000ff"/>
<polygon points="3618.1,1490.0 3630.1,1490.0 3624.1,1478.0" fill="#0000ff"/>
<polygon points="3718.9,1323.6 3718.9,1335.6 3706.9,1329.6" fill="#e9a228"/>
<polygon points="3835.8,1441.9 3835.8,1453.9 3823.8,1447.9" fill="#e9a228"/>
<polygon points="3835.8,1457.7 3835.8,1469.7 3823.8,1463.7" fill="#e9a228"/>
<polygon points="3750.5,1467.7 3750.5,1479.7 3738.5,1473.7" fill="#e9a228"/>
<polygon points="3771.9,1495.4 3771.9,1507.4 3759.9,1501.4" fill="#e9a228"/>
<polygon points="3793.1,1494.9 3793.1,1506.9 3781.1,1500.9" fill="#e9a228"/>
<polygon points="3771.9,1505.2 3771.9,1517.2 3759.9,1511.2" fill="#e9a228"/>
<polygon points="3814.4,1516.1 3814.4,1528.1 3802.4,1522.1" fill="#e9a228"/>
<polygon points="3782.3,1532.4 3782.3,1544.4 3770.3,1538.4" fill="#e9a228"/>
<polygon points="3517.0,1296.7 3521.3,1301.1 3519.2,1303.3 3521.3,1305.5 3517.0,1309.8 3514.8,1307.6 3512.6,1309.8 3508.2,1305.5 3510.4,1303.3 3508.2,1301.1 3512.6,1296.7 3514.8,1298.9" fill="#4b801f"/>
<polygon points="3562.4,1376.9 3566.7,1381.3 3564.6,1383.5 3566.7,1385.7 3562.4,1390.0 3560.2,1387.8 3558.0,1390.0 3553.6,1385.7 3555.8,1383.5 3553.6,1381.3 3558.0,1376.9 3560.2,1379.1" fill="#4b801f"/>
<line x1="3602.9" y1="1238.6" x2="3602.9" y2="1559.3" stroke="#000" stroke-width="2.7" stroke-dasharray="9.6,4.2"/>
<line x1="3499.3" y1="1345.7" x2="3845.6" y2="1345.7" stroke="#000" stroke-width="2.7" stroke-dasharray="9.6,4.2"/>
<polygon points="3602.9,1340.5 3604.3,1344.5 3608.6,1344.6 3605.3,1347.3 3606.4,1351.4 3602.9,1349.0 3599.3,1351.4 3600.5,1347.3 3597.2,1344.6 3601.4,1344.5" fill="#000"/>
<polyline points="3664.0,1261.7 3768.1,1304.6 3770.3,1366.3" fill="none" stroke="#dc0000" stroke-width="8.2" stroke-linecap="round" stroke-linejoin="round"/>
<circle cx="3664.0" cy="1261.7" r="6.0" fill="#dc0000"/>
<circle cx="3671.9" cy="1272.6" r="6.0" fill="#dc0000"/>
<circle cx="3680.3" cy="1291.1" r="6.0" fill="#dc0000"/>
<circle cx="3696.1" cy="1287.0" r="6.0" fill="#dc0000"/>
<circle cx="3693.4" cy="1311.4" r="6.0" fill="#dc0000"/>
<circle cx="3768.1" cy="1304.6" r="6.0" fill="#dc0000"/>
<circle cx="3746.9" cy="1352.2" r="6.0" fill="#dc0000"/>
<circle cx="3770.3" cy="1366.3" r="6.0" fill="#dc0000"/>
</g>
<rect x="3499.3" y="1238.6" width="346.3" height="320.7" fill="none" stroke="#000" stroke-width="1.6"/>
<line x1="3520.3" y1="1559.3" x2="3520.3" y2="1565.8" stroke="#000" stroke-width="1.5" />
<text id="t128" x="3520.3" y="1592.7" font-family="'DejaVu Sans', sans-serif" font-size="26.8" text-anchor="middle" >22</text>
<line x1="3584.1" y1="1559.3" x2="3584.1" y2="1565.8" stroke="#000" stroke-width="1.5" />
<text id="t129" x="3584.1" y="1592.7" font-family="'DejaVu Sans', sans-serif" font-size="26.8" text-anchor="middle" >20</text>
<line x1="3647.9" y1="1559.3" x2="3647.9" y2="1565.8" stroke="#000" stroke-width="1.5" />
<text id="t130" x="3647.9" y="1592.7" font-family="'DejaVu Sans', sans-serif" font-size="26.8" text-anchor="middle" >18</text>
<line x1="3711.8" y1="1559.3" x2="3711.8" y2="1565.8" stroke="#000" stroke-width="1.5" />
<text id="t131" x="3711.8" y="1592.7" font-family="'DejaVu Sans', sans-serif" font-size="26.8" text-anchor="middle" >16</text>
<line x1="3775.6" y1="1559.3" x2="3775.6" y2="1565.8" stroke="#000" stroke-width="1.5" />
<text id="t132" x="3775.6" y="1592.7" font-family="'DejaVu Sans', sans-serif" font-size="26.8" text-anchor="middle" >14</text>
<line x1="3839.4" y1="1559.3" x2="3839.4" y2="1565.8" stroke="#000" stroke-width="1.5" />
<text id="t133" x="3839.4" y="1592.7" font-family="'DejaVu Sans', sans-serif" font-size="26.8" text-anchor="middle" >12</text>
<line x1="3492.8" y1="1270.7" x2="3499.3" y2="1270.7" stroke="#000" stroke-width="1.5" />
<text id="t134" x="3487.8" y="1280.5" font-family="'DejaVu Sans', sans-serif" font-size="26.8" text-anchor="end" >80</text>
<line x1="3492.8" y1="1334.9" x2="3499.3" y2="1334.9" stroke="#000" stroke-width="1.5" />
<text id="t135" x="3487.8" y="1344.6" font-family="'DejaVu Sans', sans-serif" font-size="26.8" text-anchor="end" >79</text>
<line x1="3492.8" y1="1399.0" x2="3499.3" y2="1399.0" stroke="#000" stroke-width="1.5" />
<text id="t136" x="3487.8" y="1408.8" font-family="'DejaVu Sans', sans-serif" font-size="26.8" text-anchor="end" >78</text>
<line x1="3492.8" y1="1463.2" x2="3499.3" y2="1463.2" stroke="#000" stroke-width="1.5" />
<text id="t137" x="3487.8" y="1472.9" font-family="'DejaVu Sans', sans-serif" font-size="26.8" text-anchor="end" >77</text>
<line x1="3492.8" y1="1527.3" x2="3499.3" y2="1527.3" stroke="#000" stroke-width="1.5" />
<text id="t138" x="3487.8" y="1537.1" font-family="'DejaVu Sans', sans-serif" font-size="26.8" text-anchor="end" >76</text>
<text id="t139" x="3672.4" y="1228.1" font-family="'DejaVu Sans', sans-serif" font-size="31" text-anchor="middle" >UTKFace</text>
<text transform="translate(3438.0,1399.5) rotate(-90)" font-family="'DejaVu Sans', sans-serif" font-size="33" text-anchor="middle" textLength="222.0" lengthAdjust="spacingAndGlyphs">Accuracy (%)</text>
<text id="t140" x="3673.0" y="1629.7" font-family="'DejaVu Sans', sans-serif" font-size="34" text-anchor="middle" >Δ<tspan font-style="italic" font-size="23.8" dy="7.5">DCA</tspan><tspan dy="-7.5"> (%)</tspan></text>
<clipPath id="cp6"><rect x="3949.0" y="1238.6" width="345.7" height="320.7"/></clipPath>
<g clip-path="url(#cp6)">
<polyline points="4012.4,1292.1 4068.6,1301.9 4134.4,1419.3 4148.8,1456.9" fill="none" stroke="#0000ff" stroke-width="2.2" stroke-linecap="round" stroke-linejoin="round" stroke-opacity="0.5"/>
<polyline points="4126.5,1365.5 4194.2,1500.9" fill="none" stroke="#4b801f" stroke-width="2.2" stroke-linecap="round" stroke-linejoin="round" stroke-opacity="0.5"/>
<polygon points="4006.4,1298.1 4018.4,1298.1 4012.4,1286.1" fill="#0000ff"/>
<polygon points="4062.6,1307.9 4074.6,1307.9 4068.6,1295.9" fill="#0000ff"/>
<polygon points="3976.5,1330.8 3988.5,1330.8 3982.5,1318.8" fill="#0000ff"/>
<polygon points="4128.4,1425.3 4140.4,1425.3 4134.4,1413.3" fill="#0000ff"/>
<polygon points="4041.4,1462.9 4053.4,1462.9 4047.4,1450.9" fill="#0000ff"/>
<polygon points="4088.4,1471.0 4100.4,1471.0 4094.4,1459.0" fill="#0000ff"/>
<polygon points="4078.9,1487.3 4090.9,1487.3 4084.9,1475.3" fill="#0000ff"/>
<polygon points="4142.8,1462.9 4154.8,1462.9 4148.8,1450.9" fill="#0000ff"/>
<polygon points="3958.5,1522.7 3970.5,1522.7 3964.5,1510.7" fill="#0000ff"/>
<polygon points="4128.7,1359.0 4133.1,1363.3 4130.9,1365.5 4133.1,1367.7 4128.7,1372.1 4126.5,1369.9 4124.3,1372.1 4120.0,1367.7 4122.2,1365.5 4120.0,1363.3 4124.3,1359.0 4126.5,1361.2" fill="#4b801f"/>
<polygon points="4095.3,1372.0 4099.6,1376.4 4097.5,1378.6 4099.6,1380.8 4095.3,1385.1 4093.1,1382.9 4090.9,1385.1 4086.5,1380.8 4088.7,1378.6 4086.5,1376.4 4090.9,1372.0 4093.1,1374.2" fill="#4b801f"/>
<polygon points="4132.0,1400.6 4136.3,1404.9 4134.1,1407.1 4136.3,1409.3 4132.0,1413.7 4129.8,1411.5 4127.6,1413.7 4123.2,1409.3 4125.4,1407.1 4123.2,1404.9 4127.6,1400.6 4129.8,1402.7" fill="#4b801f"/>
<polygon points="4196.4,1494.3 4200.8,1498.7 4198.6,1500.9 4200.8,1503.1 4196.4,1507.4 4194.2,1505.3 4192.0,1507.4 4187.7,1503.1 4189.8,1500.9 4187.7,1498.7 4192.0,1494.3 4194.2,1496.5" fill="#4b801f"/>
<line x1="4032.2" y1="1238.6" x2="4032.2" y2="1559.3" stroke="#000" stroke-width="2.7" stroke-dasharray="9.6,4.2"/>
<line x1="3949.0" y1="1455.8" x2="4294.8" y2="1455.8" stroke="#000" stroke-width="2.7" stroke-dasharray="9.6,4.2"/>
<polygon points="4032.2,1450.6 4033.7,1454.5 4037.9,1454.7 4034.6,1457.4 4035.7,1461.4 4032.2,1459.1 4028.7,1461.4 4029.8,1457.4 4026.5,1454.7 4030.7,1454.5" fill="#000"/>
<polyline points="4137.9,1346.0 4183.3,1348.1 4239.1,1404.9 4278.7,1485.9" fill="none" stroke="#dc0000" stroke-width="8.2" stroke-linecap="round" stroke-linejoin="round"/>
<circle cx="4137.9" cy="1346.0" r="6.0" fill="#dc0000"/>
<circle cx="4183.3" cy="1348.1" r="6.0" fill="#dc0000"/>
<circle cx="4239.1" cy="1404.9" r="6.0" fill="#dc0000"/>
<circle cx="4199.1" cy="1415.3" r="6.0" fill="#dc0000"/>
<circle cx="4232.5" cy="1441.1" r="6.0" fill="#dc0000"/>
<circle cx="4278.7" cy="1485.9" r="6.0" fill="#dc0000"/>
</g>
<rect x="3949.0" y="1238.6" width="345.7" height="320.7" fill="none" stroke="#000" stroke-width="1.6"/>
<line x1="4043.4" y1="1559.3" x2="4043.4" y2="1565.8" stroke="#000" stroke-width="1.5" />
<text id="t141" x="4043.4" y="1592.7" font-family="'DejaVu Sans', sans-serif" font-size="26.8" text-anchor="middle" >12</text>
<line x1="4139.0" y1="1559.3" x2="4139.0" y2="1565.8" stroke="#000" stroke-width="1.5" />
<text id="t142" x="4139.0" y="1592.7" font-family="'DejaVu Sans', sans-serif" font-size="26.8" text-anchor="middle" >10</text>
<line x1="4234.4" y1="1559.3" x2="4234.4" y2="1565.8" stroke="#000" stroke-width="1.5" />
<text id="t143" x="4234.4" y="1592.7" font-family="'DejaVu Sans', sans-serif" font-size="26.8" text-anchor="middle" >8</text>
<line x1="3942.5" y1="1271.0" x2="3949.0" y2="1271.0" stroke="#000" stroke-width="1.5" />
<text id="t144" x="3937.5" y="1280.8" font-family="'DejaVu Sans', sans-serif" font-size="26.8" text-anchor="end" >81</text>
<line x1="3942.5" y1="1335.1" x2="3949.0" y2="1335.1" stroke="#000" stroke-width="1.5" />
<text id="t145" x="3937.5" y="1344.9" font-family="'DejaVu Sans', sans-serif" font-size="26.8" text-anchor="end" >80</text>
<line x1="3942.5" y1="1399.2" x2="3949.0" y2="1399.2" stroke="#000" stroke-width="1.5" />
<text id="t146" x="3937.5" y="1409.0" font-family="'DejaVu Sans', sans-serif" font-size="26.8" text-anchor="end" >79</text>
<line x1="3942.5" y1="1463.3" x2="3949.0" y2="1463.3" stroke="#000" stroke-width="1.5" />
<text id="t147" x="3937.5" y="1473.1" font-family="'DejaVu Sans', sans-serif" font-size="26.8" text-anchor="end" >78</text>
<line x1="3942.5" y1="1527.4" x2="3949.0" y2="1527.4" stroke="#000" stroke-width="1.5" />
<text id="t148" x="3937.5" y="1537.2" font-family="'DejaVu Sans', sans-serif" font-size="26.8" text-anchor="end" >77</text>
<text id="t149" x="4121.9" y="1228.1" font-family="'DejaVu Sans', sans-serif" font-size="31" text-anchor="middle" >CivilComments</text>
<text transform="translate(3888.0,1399.5) rotate(-90)" font-family="'DejaVu Sans', sans-serif" font-size="33" text-anchor="middle" textLength="222.0" lengthAdjust="spacingAndGlyphs">Accuracy (%)</text>
<text id="t150" x="4121.0" y="1629.7" font-family="'DejaVu Sans', sans-serif" font-size="34" text-anchor="middle" >Δ<tspan font-style="italic" font-size="23.8" dy="7.5">DCA</tspan><tspan dy="-7.5"> (%)</tspan></text>
<polygon points="4328.7,1302.0 4330.2,1306.0 4334.4,1306.1 4331.1,1308.8 4332.2,1312.9 4328.7,1310.5 4325.2,1312.9 4326.3,1308.8 4323.0,1306.1 4327.2,1306.0" fill="#000"/>
<text id="t151" x="4347.4" y="1317.0" font-family="'DejaVu Sans', sans-serif" font-size="30.3" >Scratch</text>
<polygon points="4322.4,1358.8 4334.9,1358.8 4328.7,1346.3" fill="#0000ff"/>
<text id="t152" x="4347.4" y="1361.6" font-family="'DejaVu Sans', sans-serif" font-size="30.3" >FairDRO (w/o DRO)</text>
<polygon points="4334.9,1391.0 4334.9,1403.5 4322.4,1397.3" fill="#e9a228"/>
<text id="t153" x="4347.4" y="1406.3" font-family="'DejaVu Sans', sans-serif" font-size="30.3" >RVP (w/ classwise)</text>
<polygon points="4330.9,1435.0 4335.2,1439.3 4333.1,1441.5 4335.2,1443.7 4330.9,1448.0 4328.7,1445.9 4326.5,1448.0 4322.2,1443.7 4324.3,1441.5 4322.2,1439.3 4326.5,1435.0 4328.7,1437.1" fill="#4b801f"/>
<text id="t154" x="4347.4" y="1450.5" font-family="'DejaVu Sans', sans-serif" font-size="30.3" >FairDRO (w/o classwise)</text>
<circle cx="4328.7" cy="1486.5" r="6.0" fill="#dc0000"/>
<text id="t155" x="4347.4" y="1495.5" font-family="'DejaVu Sans', sans-serif" font-size="30.3" >FairDRO (ours)</text>

<!-- weights visualisation charts -->
<line x1="3026.6" y1="1819.8" x2="3026.6" y2="2094.8" stroke="#ededed" stroke-width="1.6"/>
<line x1="3083.3" y1="1819.8" x2="3083.3" y2="2094.8" stroke="#ededed" stroke-width="1.6"/>
<line x1="3140.1" y1="1819.8" x2="3140.1" y2="2094.8" stroke="#ededed" stroke-width="1.6"/>
<line x1="3196.8" y1="1819.8" x2="3196.8" y2="2094.8" stroke="#ededed" stroke-width="1.6"/>
<line x1="3253.6" y1="1819.8" x2="3253.6" y2="2094.8" stroke="#ededed" stroke-width="1.6"/>
<line x1="3310.4" y1="1819.8" x2="3310.4" y2="2094.8" stroke="#ededed" stroke-width="1.6"/>
<line x1="3367.1" y1="1819.8" x2="3367.1" y2="2094.8" stroke="#ededed" stroke-width="1.6"/>
<line x1="3418.1" y1="1819.8" x2="3418.1" y2="2094.8" stroke="#ededed" stroke-width="1.6" />
<polyline points="3026.6,1895.0 3028.4,1886.9 3031.9,1877.5 3036.6,1868.2 3042.4,1861.7 3050.6,1857.3 3059.9,1857.7 3066.9,1860.1 3070.4,1854.7 3083.4,1856.6 3090.1,1855.0 3101.8,1852.4 3115.8,1852.6 3129.7,1850.1 3140.2,1852.6 3150.7,1847.3 3157.7,1850.8 3163.5,1847.7 3169.3,1849.6 3185.6,1846.6 3190.3,1849.6 3197.1,1848.0 3207.8,1847.7 3218.2,1851.9 3227.6,1849.6 3239.2,1851.5 3253.6,1848.0 3264.8,1849.6 3276.5,1849.6 3285.8,1851.0 3297.4,1851.0 3310.5,1850.5 3320.7,1851.5 3332.4,1850.1 3344.0,1851.0 3355.7,1849.1 3367.1,1849.8 3379.0,1850.8 3390.6,1850.1 3404.6,1849.6 3418.1,1849.6" fill="none" stroke="#d75b5b" stroke-width="2.3" stroke-dasharray="2.3,3.8"/>
<polyline points="3026.6,1945.1 3031.9,1926.5 3037.7,1924.6 3055.2,1925.8 3060.6,1918.3 3066.9,1921.3 3077.6,1917.8 3083.4,1920.2 3089.0,1920.2 3094.8,1924.1 3100.6,1923.7 3106.5,1926.9 3111.8,1925.1 3117.6,1926.9 3123.2,1925.8 3129.0,1930.2 3134.4,1928.8 3140.2,1924.6 3144.9,1926.0 3151.2,1924.6 3157.7,1927.4 3162.8,1928.1 3168.2,1926.0 3179.8,1925.5 3185.6,1926.5 3197.1,1921.8 3202.4,1925.8 3208.2,1924.8 3219.4,1927.8 3231.1,1926.9 3236.9,1926.0 3242.7,1926.5 3248.1,1923.0 3253.6,1922.7 3259.0,1922.0 3264.8,1923.7 3270.7,1924.1 3276.5,1922.5 3282.3,1925.1 3287.7,1922.7 3293.5,1925.3 3304.4,1925.8 3310.5,1925.1 3332.4,1924.6 3338.7,1926.5 3344.0,1923.9 3349.8,1926.2 3355.7,1924.8 3367.1,1925.5 3373.1,1925.8 3379.0,1924.4 3406.9,1923.7 3412.7,1924.8 3418.1,1924.8" fill="none" stroke="#d75b5b" stroke-width="2.3" stroke-linejoin="round"/>
<line x1="3026.6" y1="1889.8" x2="3026.6" y2="1900.3" stroke="#d75b5b" stroke-width="2.3"/>
<line x1="3083.3" y1="1851.3" x2="3083.3" y2="1861.8" stroke="#d75b5b" stroke-width="2.3"/>
<line x1="3140.1" y1="1847.3" x2="3140.1" y2="1857.8" stroke="#d75b5b" stroke-width="2.3"/>
<line x1="3196.8" y1="1842.8" x2="3196.8" y2="1853.3" stroke="#d75b5b" stroke-width="2.3"/>
<line x1="3253.6" y1="1842.7" x2="3253.6" y2="1853.2" stroke="#d75b5b" stroke-width="2.3"/>
<line x1="3310.4" y1="1845.3" x2="3310.4" y2="1855.8" stroke="#d75b5b" stroke-width="2.3"/>
<line x1="3367.1" y1="1844.6" x2="3367.1" y2="1855.1" stroke="#d75b5b" stroke-width="2.3"/>
<line x1="3418.2" y1="1844.3" x2="3418.2" y2="1854.8" stroke="#d75b5b" stroke-width="2.3"/>
<line x1="3026.6" y1="1939.8" x2="3026.6" y2="1950.3" stroke="#d75b5b" stroke-width="2.3"/>
<line x1="3083.3" y1="1914.9" x2="3083.3" y2="1925.4" stroke="#d75b5b" stroke-width="2.3"/>
<line x1="3140.1" y1="1919.4" x2="3140.1" y2="1929.9" stroke="#d75b5b" stroke-width="2.3"/>
<line x1="3196.8" y1="1916.6" x2="3196.8" y2="1927.1" stroke="#d75b5b" stroke-width="2.3"/>
<line x1="3253.6" y1="1917.5" x2="3253.6" y2="1928.0" stroke="#d75b5b" stroke-width="2.3"/>
<line x1="3310.4" y1="1919.8" x2="3310.4" y2="1930.3" stroke="#d75b5b" stroke-width="2.3"/>
<line x1="3367.1" y1="1920.3" x2="3367.1" y2="1930.8" stroke="#d75b5b" stroke-width="2.3"/>
<line x1="3418.2" y1="1919.6" x2="3418.2" y2="1930.1" stroke="#d75b5b" stroke-width="2.3"/>
<polyline points="3026.6,2049.4 3032.2,2049.4 3037.9,2049.4 3043.6,2049.4 3049.3,2049.4 3054.9,2049.4 3060.6,2049.4 3066.3,2049.4 3072.0,2049.4 3077.6,2049.4 3083.3,2049.4 3089.0,2049.4 3094.7,2049.4 3100.4,2049.4 3106.0,2049.4 3111.7,2049.4 3117.4,2049.4 3123.1,2049.4 3128.7,2049.4 3134.4,2049.4 3140.1,2049.4 3145.8,2049.4 3151.4,2049.4 3157.1,2049.4 3162.8,2049.4 3168.5,2049.4 3174.1,2049.4 3179.8,2049.4 3185.5,2049.4 3191.2,2049.4 3196.8,2049.4 3202.5,2049.4 3208.2,2049.4 3213.9,2049.4 3219.5,2049.4 3225.2,2049.4 3230.9,2049.4 3236.6,2049.4 3242.2,2049.4 3247.9,2049.4 3253.6,2049.4 3259.3,2049.4 3265.0,2049.4 3270.6,2049.4 3276.3,2049.4 3282.0,2049.4 3287.7,2049.4 3293.3,2049.4 3299.0,2049.4 3304.7,2049.4 3310.4,2049.4 3316.0,2049.4 3321.7,2049.4 3327.4,2049.4 3333.1,2049.4 3338.7,2049.4 3344.4,2049.4 3350.1,2049.4 3355.8,2049.4 3361.4,2049.4 3367.1,2049.4 3372.8,2049.4 3378.5,2049.4 3384.1,2049.4 3389.8,2049.4 3395.5,2049.4 3401.2,2049.4 3406.9,2049.4 3412.5,2049.4 3418.2,2049.4" fill="none" stroke="#d75b5b" stroke-width="2.3" stroke-linejoin="round" stroke-dasharray="2.3,3.8"/>
<line x1="3026.6" y1="2044.2" x2="3026.6" y2="2054.7" stroke="#d75b5b" stroke-width="2.3"/>
<line x1="3083.3" y1="2044.2" x2="3083.3" y2="2054.7" stroke="#d75b5b" stroke-width="2.3"/>
<line x1="3140.1" y1="2044.2" x2="3140.1" y2="2054.7" stroke="#d75b5b" stroke-width="2.3"/>
<line x1="3196.8" y1="2044.2" x2="3196.8" y2="2054.7" stroke="#d75b5b" stroke-width="2.3"/>
<line x1="3253.6" y1="2044.2" x2="3253.6" y2="2054.7" stroke="#d75b5b" stroke-width="2.3"/>
<line x1="3310.4" y1="2044.2" x2="3310.4" y2="2054.7" stroke="#d75b5b" stroke-width="2.3"/>
<line x1="3367.1" y1="2044.2" x2="3367.1" y2="2054.7" stroke="#d75b5b" stroke-width="2.3"/>
<line x1="3418.2" y1="2044.2" x2="3418.2" y2="2054.7" stroke="#d75b5b" stroke-width="2.3"/>
<rect x="3007.0" y="1819.8" width="431.3" height="275.1" fill="none" stroke="#333" stroke-width="1.6"/>
<line x1="3007.0" y1="2003.1" x2="3438.3" y2="2003.1" stroke="#000" stroke-width="2.2" />
<line x1="3026.6" y1="2094.8" x2="3026.6" y2="2101.3" stroke="#000" stroke-width="1.5" />
<text id="t156" x="3026.6" y="2126.1" font-family="'DejaVu Sans', sans-serif" font-size="24" text-anchor="middle" >0</text>
<line x1="3083.3" y1="2094.8" x2="3083.3" y2="2101.3" stroke="#000" stroke-width="1.5" />
<text id="t157" x="3083.3" y="2126.1" font-family="'DejaVu Sans', sans-serif" font-size="24" text-anchor="middle" >10</text>
<line x1="3140.1" y1="2094.8" x2="3140.1" y2="2101.3" stroke="#000" stroke-width="1.5" />
<text id="t158" x="3140.1" y="2126.1" font-family="'DejaVu Sans', sans-serif" font-size="24" text-anchor="middle" >20</text>
<line x1="3196.8" y1="2094.8" x2="3196.8" y2="2101.3" stroke="#000" stroke-width="1.5" />
<text id="t159" x="3196.8" y="2126.1" font-family="'DejaVu Sans', sans-serif" font-size="24" text-anchor="middle" >30</text>
<line x1="3253.6" y1="2094.8" x2="3253.6" y2="2101.3" stroke="#000" stroke-width="1.5" />
<text id="t160" x="3253.6" y="2126.1" font-family="'DejaVu Sans', sans-serif" font-size="24" text-anchor="middle" >40</text>
<line x1="3310.4" y1="2094.8" x2="3310.4" y2="2101.3" stroke="#000" stroke-width="1.5" />
<text id="t161" x="3310.4" y="2126.1" font-family="'DejaVu Sans', sans-serif" font-size="24" text-anchor="middle" >50</text>
<line x1="3367.1" y1="2094.8" x2="3367.1" y2="2101.3" stroke="#000" stroke-width="1.5" />
<text id="t162" x="3367.1" y="2126.1" font-family="'DejaVu Sans', sans-serif" font-size="24" text-anchor="middle" >60</text>
<line x1="3423.9" y1="2094.8" x2="3423.9" y2="2101.3" stroke="#000" stroke-width="1.5" />
<text id="t163" x="3423.9" y="2126.1" font-family="'DejaVu Sans', sans-serif" font-size="24" text-anchor="middle" >70</text>
<line x1="3000.5" y1="1827.5" x2="3007.0" y2="1827.5" stroke="#000" stroke-width="1.5" />
<text id="t164" x="2995.5" y="1836.2" font-family="'DejaVu Sans', sans-serif" font-size="24" text-anchor="end" >80</text>
<line x1="3000.5" y1="1867.5" x2="3007.0" y2="1867.5" stroke="#000" stroke-width="1.5" />
<text id="t165" x="2995.5" y="1876.2" font-family="'DejaVu Sans', sans-serif" font-size="24" text-anchor="end" >70</text>
<line x1="3000.5" y1="1907.4" x2="3007.0" y2="1907.4" stroke="#000" stroke-width="1.5" />
<text id="t166" x="2995.5" y="1916.2" font-family="'DejaVu Sans', sans-serif" font-size="24" text-anchor="end" >60</text>
<line x1="3000.5" y1="1947.4" x2="3007.0" y2="1947.4" stroke="#000" stroke-width="1.5" />
<text id="t167" x="2995.5" y="1956.2" font-family="'DejaVu Sans', sans-serif" font-size="24" text-anchor="end" >50</text>
<line x1="3000.5" y1="1987.4" x2="3007.0" y2="1987.4" stroke="#000" stroke-width="1.5" />
<text id="t168" x="2995.5" y="1996.2" font-family="'DejaVu Sans', sans-serif" font-size="24" text-anchor="end" >40</text>
<line x1="3000.5" y1="2033.8" x2="3007.0" y2="2033.8" stroke="#000" stroke-width="1.5" />
<text id="t169" x="2995.5" y="2042.6" font-family="'DejaVu Sans', sans-serif" font-size="24" text-anchor="end" >1</text>
<line x1="3000.5" y1="2064.3" x2="3007.0" y2="2064.3" stroke="#000" stroke-width="1.5" />
<text id="t170" x="2995.5" y="2073.1" font-family="'DejaVu Sans', sans-serif" font-size="24" text-anchor="end" >0</text>
<text transform="translate(2958.5,1911.5) rotate(-90)" font-family="'DejaVu Sans', sans-serif" font-size="29" text-anchor="middle" textLength="193.0" lengthAdjust="spacingAndGlyphs">Accuracy (%)</text>
<text transform="translate(2958.5,2049.5) rotate(-90)" font-family="'DejaVu Sans', sans-serif" font-size="30" font-weight="bold" font-style="italic" text-anchor="middle">q<tspan font-size="21" dy="-11" font-weight="normal" font-style="normal">1</tspan></text>
<text id="t171" x="3224.0" y="2155.6" font-family="'DejaVu Sans', sans-serif" font-size="30.5" text-anchor="middle" >Training epochs</text>
<line x1="3551.1" y1="1819.8" x2="3551.1" y2="2094.8" stroke="#ededed" stroke-width="1.6"/>
<line x1="3607.9" y1="1819.8" x2="3607.9" y2="2094.8" stroke="#ededed" stroke-width="1.6"/>
<line x1="3664.6" y1="1819.8" x2="3664.6" y2="2094.8" stroke="#ededed" stroke-width="1.6"/>
<line x1="3721.4" y1="1819.8" x2="3721.4" y2="2094.8" stroke="#ededed" stroke-width="1.6"/>
<line x1="3778.1" y1="1819.8" x2="3778.1" y2="2094.8" stroke="#ededed" stroke-width="1.6"/>
<line x1="3834.9" y1="1819.8" x2="3834.9" y2="2094.8" stroke="#ededed" stroke-width="1.6"/>
<line x1="3891.7" y1="1819.8" x2="3891.7" y2="2094.8" stroke="#ededed" stroke-width="1.6"/>
<line x1="3943.1" y1="1819.8" x2="3943.1" y2="2094.8" stroke="#ededed" stroke-width="1.6" />
<polyline points="3551.1,1905.5 3556.8,1953.7 3562.5,1893.1 3568.1,1912.5 3573.8,1965.6 3579.5,1935.8 3585.2,1931.6 3590.8,1893.4 3596.5,1905.5 3602.2,1946.2 3607.9,1914.8 3613.5,1891.1 3619.2,1907.8 3624.9,1910.6 3630.6,1906.7 3636.2,1922.3 3641.9,1899.7 3647.6,1905.0 3653.3,1893.1 3658.9,1898.5 3664.6,1913.6 3670.3,1903.2 3676.0,1890.8 3681.6,1891.5 3687.3,1899.7 3693.0,1899.2 3698.7,1902.0 3704.3,1898.5 3710.0,1885.0 3715.7,1886.9 3721.4,1902.7 3727.1,1904.3 3732.7,1893.8 3738.4,1895.7 3744.1,1901.3 3749.8,1898.5 3755.4,1899.2 3761.1,1892.7 3766.8,1895.7 3772.5,1898.0 3778.1,1895.0 3783.8,1896.6 3789.5,1902.0 3795.2,1898.5 3800.8,1898.0 3806.5,1899.7 3812.2,1898.0 3817.9,1895.0 3823.5,1895.0 3829.2,1896.6 3834.9,1899.0 3840.6,1902.5 3846.2,1899.7 3851.9,1900.8 3857.6,1899.7 3863.3,1899.0 3869.0,1896.6 3874.6,1898.5 3880.3,1896.6 3886.0,1897.3 3891.7,1896.2 3897.3,1896.6 3903.0,1897.3 3908.7,1897.8 3914.4,1897.8 3920.0,1897.8 3925.7,1897.8 3931.4,1897.8 3937.1,1897.8 3942.7,1897.8" fill="none" stroke="#6699c8" stroke-width="2.3" stroke-linejoin="round" stroke-dasharray="2.3,3.8"/>
<polyline points="3551.1,1935.1 3556.8,1934.1 3562.5,1927.6 3568.1,1921.3 3573.8,1915.3 3579.5,1933.4 3585.2,1925.8 3590.8,1914.8 3596.5,1917.1 3602.2,1929.2 3607.9,1923.4 3613.5,1902.5 3619.2,1909.0 3624.9,1912.9 3630.6,1907.8 3636.2,1903.6 3641.9,1903.6 3647.6,1899.2 3653.3,1906.4 3658.9,1905.0 3664.6,1902.5 3670.3,1906.7 3676.0,1895.2 3681.6,1895.2 3687.3,1900.4 3693.0,1899.7 3698.7,1897.1 3704.3,1898.7 3710.0,1910.1 3715.7,1909.0 3721.4,1908.8 3727.1,1906.2 3732.7,1901.3 3738.4,1898.7 3744.1,1898.5 3749.8,1899.4 3755.4,1900.4 3761.1,1899.4 3766.8,1899.9 3772.5,1893.4 3778.1,1895.7 3783.8,1896.2 3789.5,1900.8 3795.2,1900.6 3800.8,1899.2 3806.5,1902.2 3812.2,1897.3 3817.9,1895.7 3823.5,1896.9 3829.2,1900.1 3834.9,1900.6 3840.6,1902.0 3846.2,1899.9 3851.9,1900.4 3857.6,1900.4 3863.3,1899.4 3869.0,1897.1 3874.6,1898.0 3880.3,1899.2 3886.0,1899.2 3891.7,1898.5 3897.3,1898.0 3903.0,1897.6 3908.7,1896.9 3914.4,1896.4 3920.0,1896.4 3925.7,1896.4 3931.4,1896.4 3937.1,1895.9 3942.7,1895.9" fill="none" stroke="#6699c8" stroke-width="2.3" stroke-linejoin="round"/>
<polyline points="3551.1,2087.4 3556.8,2012.9 3562.5,2085.1 3568.1,2086.9 3573.8,2016.4 3579.5,2081.6 3585.2,2018.0 3590.8,2079.9 3596.5,2086.2 3602.2,2021.5 3607.9,2077.6 3613.5,2085.5 3619.2,2024.5 3624.9,2075.3 3630.6,2084.6 3636.2,2028.0 3641.9,2073.4 3647.6,2026.8 3653.3,2071.6 3658.9,2082.7 3664.6,2032.0 3670.3,2070.6 3676.0,2081.6 3681.6,2035.0 3687.3,2069.2 3693.0,2080.4 3698.7,2037.3 3704.3,2022.2 3710.0,2060.6 3715.7,2076.9 3721.4,2082.3 3727.1,2044.3 3732.7,2067.6 3738.4,2077.4 3744.1,2044.3 3749.8,2065.3 3755.4,2039.6 3761.1,2061.8 3766.8,2073.4 3772.5,2046.6 3778.1,2064.1 3783.8,2073.4 3789.5,2049.0 3795.2,2062.9 3800.8,2071.8 3806.5,2077.4 3812.2,2054.8 3817.9,2041.3 3823.5,2057.1 3829.2,2066.4 3834.9,2072.3 3840.6,2075.7 3846.2,2059.4 3851.9,2065.7 3857.6,2070.9 3863.3,2058.3 3869.0,2049.0 3874.6,2055.9 3880.3,2061.1 3886.0,2065.3 3891.7,2068.3 3897.3,2070.6 3903.0,2072.7 3908.7,2065.3 3914.4,2060.6 3920.0,2057.1 3925.7,2054.8 3931.4,2053.6 3937.1,2052.5 3942.7,2052.0" fill="none" stroke="#6699c8" stroke-width="2.3" stroke-linejoin="round" stroke-dasharray="2.3,3.8"/>
<polyline points="3551.1,2011.5 3556.8,2086.0 3562.5,2013.8 3568.1,2011.9 3573.8,2082.5 3579.5,2017.3 3585.2,2080.9 3590.8,2018.9 3596.5,2012.6 3602.2,2077.4 3607.9,2021.2 3613.5,2013.3 3619.2,2074.3 3624.9,2023.6 3630.6,2014.3 3636.2,2070.9 3641.9,2025.4 3647.6,2072.0 3653.3,2027.3 3658.9,2016.1 3664.6,2066.9 3670.3,2028.2 3676.0,2017.3 3681.6,2063.9 3687.3,2029.6 3693.0,2018.4 3698.7,2061.5 3704.3,2076.7 3710.0,2038.2 3715.7,2021.9 3721.4,2016.6 3727.1,2054.6 3732.7,2031.3 3738.4,2021.5 3744.1,2054.6 3749.8,2033.6 3755.4,2059.2 3761.1,2037.1 3766.8,2025.4 3772.5,2052.2 3778.1,2034.8 3783.8,2025.4 3789.5,2049.9 3795.2,2035.9 3800.8,2027.1 3806.5,2021.5 3812.2,2044.1 3817.9,2057.6 3823.5,2041.7 3829.2,2032.4 3834.9,2026.6 3840.6,2023.1 3846.2,2039.4 3851.9,2033.1 3857.6,2028.0 3863.3,2040.6 3869.0,2049.9 3874.6,2042.9 3880.3,2037.8 3886.0,2033.6 3891.7,2030.6 3897.3,2028.2 3903.0,2026.1 3908.7,2033.6 3914.4,2038.2 3920.0,2041.7 3925.7,2044.1 3931.4,2045.2 3937.1,2046.4 3942.7,2046.9" fill="none" stroke="#6699c8" stroke-width="2.3" stroke-linejoin="round"/>
<rect x="3531.8" y="1819.8" width="430.9" height="275.1" fill="none" stroke="#333" stroke-width="1.6"/>
<line x1="3531.8" y1="2003.1" x2="3962.6" y2="2003.1" stroke="#000" stroke-width="2.2" />
<line x1="3551.1" y1="2094.8" x2="3551.1" y2="2101.3" stroke="#000" stroke-width="1.5" />
<text id="t172" x="3551.1" y="2126.1" font-family="'DejaVu Sans', sans-serif" font-size="24" text-anchor="middle" >0</text>
<line x1="3607.9" y1="2094.8" x2="3607.9" y2="2101.3" stroke="#000" stroke-width="1.5" />
<text id="t173" x="3607.9" y="2126.1" font-family="'DejaVu Sans', sans-serif" font-size="24" text-anchor="middle" >10</text>
<line x1="3664.6" y1="2094.8" x2="3664.6" y2="2101.3" stroke="#000" stroke-width="1.5" />
<text id="t174" x="3664.6" y="2126.1" font-family="'DejaVu Sans', sans-serif" font-size="24" text-anchor="middle" >20</text>
<line x1="3721.4" y1="2094.8" x2="3721.4" y2="2101.3" stroke="#000" stroke-width="1.5" />
<text id="t175" x="3721.4" y="2126.1" font-family="'DejaVu Sans', sans-serif" font-size="24" text-anchor="middle" >30</text>
<line x1="3778.1" y1="2094.8" x2="3778.1" y2="2101.3" stroke="#000" stroke-width="1.5" />
<text id="t176" x="3778.1" y="2126.1" font-family="'DejaVu Sans', sans-serif" font-size="24" text-anchor="middle" >40</text>
<line x1="3834.9" y1="2094.8" x2="3834.9" y2="2101.3" stroke="#000" stroke-width="1.5" />
<text id="t177" x="3834.9" y="2126.1" font-family="'DejaVu Sans', sans-serif" font-size="24" text-anchor="middle" >50</text>
<line x1="3891.7" y1="2094.8" x2="3891.7" y2="2101.3" stroke="#000" stroke-width="1.5" />
<text id="t178" x="3891.7" y="2126.1" font-family="'DejaVu Sans', sans-serif" font-size="24" text-anchor="middle" >60</text>
<line x1="3948.4" y1="2094.8" x2="3948.4" y2="2101.3" stroke="#000" stroke-width="1.5" />
<text id="t179" x="3948.4" y="2126.1" font-family="'DejaVu Sans', sans-serif" font-size="24" text-anchor="middle" >70</text>
<line x1="3525.3" y1="1827.5" x2="3531.8" y2="1827.5" stroke="#000" stroke-width="1.5" />
<text id="t180" x="3520.3" y="1836.2" font-family="'DejaVu Sans', sans-serif" font-size="24" text-anchor="end" >80</text>
<line x1="3525.3" y1="1867.5" x2="3531.8" y2="1867.5" stroke="#000" stroke-width="1.5" />
<text id="t181" x="3520.3" y="1876.2" font-family="'DejaVu Sans', sans-serif" font-size="24" text-anchor="end" >70</text>
<line x1="3525.3" y1="1907.4" x2="3531.8" y2="1907.4" stroke="#000" stroke-width="1.5" />
<text id="t182" x="3520.3" y="1916.2" font-family="'DejaVu Sans', sans-serif" font-size="24" text-anchor="end" >60</text>
<line x1="3525.3" y1="1947.4" x2="3531.8" y2="1947.4" stroke="#000" stroke-width="1.5" />
<text id="t183" x="3520.3" y="1956.2" font-family="'DejaVu Sans', sans-serif" font-size="24" text-anchor="end" >50</text>
<line x1="3525.3" y1="1987.4" x2="3531.8" y2="1987.4" stroke="#000" stroke-width="1.5" />
<text id="t184" x="3520.3" y="1996.2" font-family="'DejaVu Sans', sans-serif" font-size="24" text-anchor="end" >40</text>
<line x1="3525.3" y1="2033.8" x2="3531.8" y2="2033.8" stroke="#000" stroke-width="1.5" />
<text id="t185" x="3520.3" y="2042.6" font-family="'DejaVu Sans', sans-serif" font-size="24" text-anchor="end" >1</text>
<line x1="3525.3" y1="2064.3" x2="3531.8" y2="2064.3" stroke="#000" stroke-width="1.5" />
<text id="t186" x="3520.3" y="2073.1" font-family="'DejaVu Sans', sans-serif" font-size="24" text-anchor="end" >0</text>
<text transform="translate(3483.0,1911.5) rotate(-90)" font-family="'DejaVu Sans', sans-serif" font-size="29" text-anchor="middle" textLength="193.0" lengthAdjust="spacingAndGlyphs">Accuracy (%)</text>
<text transform="translate(3483,2049.5) rotate(-90)" font-family="'DejaVu Sans', sans-serif" font-size="30" font-weight="bold" font-style="italic" text-anchor="middle">q<tspan font-size="21" dy="-11" font-weight="normal" font-style="normal">1</tspan></text>
<text id="t187" x="3748.5" y="2155.6" font-family="'DejaVu Sans', sans-serif" font-size="30.5" text-anchor="middle" >Training epochs</text>
<line x1="3980.7" y1="1766.3" x2="3980.7" y2="2152.5" stroke="#000" stroke-width="4.8" stroke-dasharray="17.5,11.8"/>
<line x1="4087.3" y1="1820.9" x2="4087.3" y2="2096.0" stroke="#ededed" stroke-width="1.6"/>
<line x1="4144.0" y1="1820.9" x2="4144.0" y2="2096.0" stroke="#ededed" stroke-width="1.6"/>
<line x1="4200.8" y1="1820.9" x2="4200.8" y2="2096.0" stroke="#ededed" stroke-width="1.6"/>
<line x1="4257.5" y1="1820.9" x2="4257.5" y2="2096.0" stroke="#ededed" stroke-width="1.6"/>
<line x1="4314.3" y1="1820.9" x2="4314.3" y2="2096.0" stroke="#ededed" stroke-width="1.6"/>
<line x1="4371.1" y1="1820.9" x2="4371.1" y2="2096.0" stroke="#ededed" stroke-width="1.6"/>
<line x1="4427.8" y1="1820.9" x2="4427.8" y2="2096.0" stroke="#ededed" stroke-width="1.6"/>
<line x1="4479.2" y1="1820.9" x2="4479.2" y2="2096.0" stroke="#ededed" stroke-width="1.6" />
<polyline points="4087.3,1970.7 4092.9,2065.0 4098.6,1968.4 4104.3,2012.6 4110.0,2074.3 4115.6,2031.3 4121.3,2026.6 4127.0,1968.4 4132.7,1987.0 4138.3,2031.3 4144.0,2012.6 4149.7,1960.2 4155.4,1987.0 4161.1,1995.6 4166.7,1985.8 4172.4,2004.5 4178.1,1978.9 4183.8,1990.0 4189.4,1969.1 4195.1,1974.7 4200.8,2005.6 4206.5,1980.0 4212.1,1959.1 4217.8,1968.4 4223.5,1981.7 4229.2,1974.7 4234.8,1988.2 4240.5,1974.7 4246.2,1963.7 4251.9,1966.0 4257.5,1978.9 4263.2,1994.0 4268.9,1970.7 4274.6,1968.4 4280.2,1980.0 4285.9,1980.0 4291.6,1980.0 4297.3,1970.7 4302.9,1969.5 4308.6,1973.0 4314.3,1964.9 4320.0,1971.9 4325.7,1980.0 4331.3,1975.4 4337.0,1973.0 4342.7,1977.0 4348.4,1978.9 4354.0,1975.8 4359.7,1968.4 4365.4,1969.5 4371.1,1975.8 4376.7,1977.7 4382.4,1983.5 4388.1,1980.0 4393.8,1977.7 4399.4,1975.8 4405.1,1971.9 4410.8,1969.1 4416.5,1968.4 4422.1,1967.9 4427.8,1970.2 4433.5,1974.2 4439.2,1975.4 4444.8,1975.8 4450.5,1977.0 4456.2,1977.0 4461.9,1977.0 4467.5,1977.0 4473.2,1977.0 4478.9,1977.0" fill="none" stroke="#6699c8" stroke-width="2.3" stroke-linejoin="round" stroke-dasharray="2.3,3.8"/>
<polyline points="4087.3,2001.0 4092.9,2034.8 4098.6,2009.1 4104.3,2027.8 4110.0,2016.1 4115.6,2031.3 4121.3,2019.6 4127.0,2016.1 4132.7,2020.3 4138.3,2039.4 4144.0,2042.9 4149.7,2016.1 4155.4,2028.2 4161.1,2046.4 4166.7,2023.8 4172.4,2019.6 4178.1,2012.6 4183.8,2016.1 4189.4,2016.1 4195.1,2023.8 4200.8,2012.6 4206.5,2016.1 4212.1,1994.0 4217.8,1990.0 4223.5,1997.5 4229.2,1997.5 4234.8,1997.5 4240.5,2001.7 4246.2,2016.6 4251.9,2012.6 4257.5,2008.7 4263.2,2004.9 4268.9,1997.5 4274.6,2001.4 4280.2,1990.0 4285.9,1990.0 4291.6,2001.4 4297.3,1994.0 4302.9,2005.2 4308.6,1997.5 4314.3,1997.5 4320.0,1994.0 4325.7,1994.0 4331.3,1990.0 4337.0,1990.0 4342.7,1982.8 4348.4,1979.1 4354.0,1982.8 4359.7,1982.8 4365.4,1979.1 4371.1,1979.1 4376.7,1979.1 4382.4,1975.4 4388.1,1975.4 4393.8,1975.4 4399.4,1978.6 4405.1,1986.5 4410.8,1986.5 4416.5,1986.5 4422.1,1986.5 4427.8,1986.5 4433.5,1982.8 4439.2,1982.8 4444.8,1982.8 4450.5,1982.8 4456.2,1982.8 4461.9,1982.8 4467.5,1982.8 4473.2,1982.8 4478.9,1982.8" fill="none" stroke="#6699c8" stroke-width="2.3" stroke-linejoin="round"/>
<polyline points="4087.3,1966.0 4092.9,1941.6 4098.6,1939.3 4104.3,1938.1 4110.0,1921.8 4115.6,1924.6 4121.3,1914.8 4127.0,1913.2 4132.7,1906.0 4138.3,1903.9 4144.0,1909.7 4149.7,1909.7 4155.4,1909.0 4161.1,1908.3 4166.7,1912.0 4172.4,1903.2 4178.1,1907.8 4183.8,1910.1 4189.4,1910.6 4195.1,1909.7 4200.8,1908.3 4206.5,1906.7 4212.1,1906.7 4217.8,1907.4 4223.5,1905.5 4229.2,1906.0 4234.8,1907.1 4240.5,1904.8 4246.2,1903.6 4251.9,1904.8 4257.5,1906.0 4263.2,1904.3 4268.9,1904.3 4274.6,1907.8 4280.2,1906.0 4285.9,1904.8 4291.6,1904.8 4297.3,1905.5 4302.9,1906.7 4308.6,1904.8 4314.3,1901.3 4320.0,1903.2 4325.7,1906.2 4331.3,1906.2 4337.0,1904.8 4342.7,1905.5 4348.4,1906.2 4354.0,1904.8 4359.7,1904.8 4365.4,1904.8 4371.1,1904.8 4376.7,1904.8 4382.4,1905.0 4388.1,1905.0 4393.8,1905.3 4399.4,1905.3 4405.1,1905.5 4410.8,1905.5 4416.5,1905.7 4422.1,1906.0 4427.8,1906.2 4433.5,1906.2 4439.2,1906.2 4444.8,1906.2 4450.5,1906.2 4456.2,1906.2 4461.9,1906.2 4467.5,1906.2 4473.2,1906.2 4478.9,1906.2" fill="none" stroke="#d75b5b" stroke-width="2.3" stroke-linejoin="round" stroke-dasharray="2.3,3.8"/>
<polyline points="4087.3,1995.2 4092.9,1990.5 4098.6,2015.0 4104.3,2023.6 4110.0,2023.8 4115.6,2034.8 4121.3,2019.6 4127.0,2034.8 4132.7,2031.3 4138.3,2030.8 4144.0,2028.2 4149.7,2031.3 4155.4,2031.3 4161.1,2023.8 4166.7,2031.3 4172.4,2027.8 4178.1,2031.3 4183.8,2031.3 4189.4,2035.2 4195.1,2031.3 4200.8,2023.6 4206.5,2031.3 4212.1,2027.8 4217.8,2034.8 4223.5,2020.3 4229.2,2027.8 4234.8,2027.8 4240.5,2027.8 4246.2,2027.8 4251.9,2023.8 4257.5,2027.8 4263.2,2031.3 4268.9,2027.8 4274.6,2031.3 4280.2,2027.8 4285.9,2027.8 4291.6,2031.3 4297.3,2031.3 4302.9,2031.3 4308.6,2028.2 4314.3,2027.8 4320.0,2027.8 4325.7,2027.8 4331.3,2027.8 4337.0,2027.8 4342.7,2027.8 4348.4,2031.3 4354.0,2027.8 4359.7,2027.8 4365.4,2027.8 4371.1,2027.8 4376.7,2027.8 4382.4,2027.8 4388.1,2027.8 4393.8,2027.8 4399.4,2027.8 4405.1,2027.8 4410.8,2027.8 4416.5,2027.8 4422.1,2027.8 4427.8,2027.8 4433.5,2027.8 4439.2,2027.8 4444.8,2027.8 4450.5,2027.8 4456.2,2027.8 4461.9,2027.8 4467.5,2027.8 4473.2,2027.8 4478.9,2027.8" fill="none" stroke="#d75b5b" stroke-width="2.3" stroke-linejoin="round"/>
<line x1="4087.3" y1="1960.8" x2="4087.3" y2="1971.3" stroke="#d75b5b" stroke-width="2.3"/>
<line x1="4144.0" y1="1904.4" x2="4144.0" y2="1914.9" stroke="#d75b5b" stroke-width="2.3"/>
<line x1="4200.8" y1="1903.0" x2="4200.8" y2="1913.5" stroke="#d75b5b" stroke-width="2.3"/>
<line x1="4257.5" y1="1900.7" x2="4257.5" y2="1911.2" stroke="#d75b5b" stroke-width="2.3"/>
<line x1="4314.3" y1="1896.0" x2="4314.3" y2="1906.5" stroke="#d75b5b" stroke-width="2.3"/>
<line x1="4371.1" y1="1899.5" x2="4371.1" y2="1910.0" stroke="#d75b5b" stroke-width="2.3"/>
<line x1="4427.8" y1="1900.9" x2="4427.8" y2="1911.4" stroke="#d75b5b" stroke-width="2.3"/>
<line x1="4478.9" y1="1900.9" x2="4478.9" y2="1911.4" stroke="#d75b5b" stroke-width="2.3"/>
<line x1="4087.3" y1="1989.9" x2="4087.3" y2="2000.4" stroke="#d75b5b" stroke-width="2.3"/>
<line x1="4144.0" y1="2023.0" x2="4144.0" y2="2033.5" stroke="#d75b5b" stroke-width="2.3"/>
<line x1="4200.8" y1="2018.3" x2="4200.8" y2="2028.8" stroke="#d75b5b" stroke-width="2.3"/>
<line x1="4257.5" y1="2022.5" x2="4257.5" y2="2033.0" stroke="#d75b5b" stroke-width="2.3"/>
<line x1="4314.3" y1="2022.5" x2="4314.3" y2="2033.0" stroke="#d75b5b" stroke-width="2.3"/>
<line x1="4371.1" y1="2022.5" x2="4371.1" y2="2033.0" stroke="#d75b5b" stroke-width="2.3"/>
<line x1="4427.8" y1="2022.5" x2="4427.8" y2="2033.0" stroke="#d75b5b" stroke-width="2.3"/>
<line x1="4478.9" y1="2022.5" x2="4478.9" y2="2033.0" stroke="#d75b5b" stroke-width="2.3"/>
<rect x="4067.9" y="1820.9" width="430.9" height="275.1" fill="none" stroke="#000" stroke-width="1.6"/>
<line x1="4087.3" y1="2096.0" x2="4087.3" y2="2102.5" stroke="#000" stroke-width="1.5" />
<text id="t188" x="4087.3" y="2126.5" font-family="'DejaVu Sans', sans-serif" font-size="23" text-anchor="middle" >0</text>
<line x1="4144.0" y1="2096.0" x2="4144.0" y2="2102.5" stroke="#000" stroke-width="1.5" />
<text id="t189" x="4144.0" y="2126.5" font-family="'DejaVu Sans', sans-serif" font-size="23" text-anchor="middle" >10</text>
<line x1="4200.8" y1="2096.0" x2="4200.8" y2="2102.5" stroke="#000" stroke-width="1.5" />
<text id="t190" x="4200.8" y="2126.5" font-family="'DejaVu Sans', sans-serif" font-size="23" text-anchor="middle" >20</text>
<line x1="4257.5" y1="2096.0" x2="4257.5" y2="2102.5" stroke="#000" stroke-width="1.5" />
<text id="t191" x="4257.5" y="2126.5" font-family="'DejaVu Sans', sans-serif" font-size="23" text-anchor="middle" >30</text>
<line x1="4314.3" y1="2096.0" x2="4314.3" y2="2102.5" stroke="#000" stroke-width="1.5" />
<text id="t192" x="4314.3" y="2126.5" font-family="'DejaVu Sans', sans-serif" font-size="23" text-anchor="middle" >40</text>
<line x1="4371.1" y1="2096.0" x2="4371.1" y2="2102.5" stroke="#000" stroke-width="1.5" />
<text id="t193" x="4371.1" y="2126.5" font-family="'DejaVu Sans', sans-serif" font-size="23" text-anchor="middle" >50</text>
<line x1="4427.8" y1="2096.0" x2="4427.8" y2="2102.5" stroke="#000" stroke-width="1.5" />
<text id="t194" x="4427.8" y="2126.5" font-family="'DejaVu Sans', sans-serif" font-size="23" text-anchor="middle" >60</text>
<line x1="4484.6" y1="2096.0" x2="4484.6" y2="2102.5" stroke="#000" stroke-width="1.5" />
<text id="t195" x="4484.6" y="2126.5" font-family="'DejaVu Sans', sans-serif" font-size="23" text-anchor="middle" >70</text>
<line x1="4061.4" y1="1833.3" x2="4067.9" y2="1833.3" stroke="#000" stroke-width="1.5" />
<text id="t196" x="4056.4" y="1841.7" font-family="'DejaVu Sans', sans-serif" font-size="23" text-anchor="end" >80</text>
<line x1="4061.4" y1="1893.1" x2="4067.9" y2="1893.1" stroke="#000" stroke-width="1.5" />
<text id="t197" x="4056.4" y="1901.5" font-family="'DejaVu Sans', sans-serif" font-size="23" text-anchor="end" >70</text>
<line x1="4061.4" y1="1952.9" x2="4067.9" y2="1952.9" stroke="#000" stroke-width="1.5" />
<text id="t198" x="4056.4" y="1961.3" font-family="'DejaVu Sans', sans-serif" font-size="23" text-anchor="end" >60</text>
<line x1="4061.4" y1="2012.7" x2="4067.9" y2="2012.7" stroke="#000" stroke-width="1.5" />
<text id="t199" x="4056.4" y="2021.0" font-family="'DejaVu Sans', sans-serif" font-size="23" text-anchor="end" >50</text>
<line x1="4061.4" y1="2072.4" x2="4067.9" y2="2072.4" stroke="#000" stroke-width="1.5" />
<text id="t200" x="4056.4" y="2080.8" font-family="'DejaVu Sans', sans-serif" font-size="23" text-anchor="end" >40</text>
<text transform="translate(4016.5,1958.5) rotate(-90)" font-family="'DejaVu Sans', sans-serif" font-size="26.5" text-anchor="middle" textLength="175.0" lengthAdjust="spacingAndGlyphs">Accuracy (%)</text>
<text id="t201" x="4285.0" y="2155.6" font-family="'DejaVu Sans', sans-serif" font-size="27.6" text-anchor="middle" >Training epochs</text>
<line x1="4511" y1="1909" x2="4572.5" y2="1909" stroke="#000" stroke-width="2.3" stroke-dasharray="2.3,3.8"/>
<text id="t202" x="4595.8" y="1919.7" font-family="'DejaVu Sans', sans-serif" font-size="30.5" >Group 0</text>
<line x1="4511" y1="1952.2" x2="4572.5" y2="1952.2" stroke="#000" stroke-width="2.3"/>
<text id="t203" x="4595.8" y="1962.9" font-family="'DejaVu Sans', sans-serif" font-size="30.5" >Group 1</text>
<line x1="4511" y1="1995.6" x2="4572.5" y2="1995.6" stroke="#d75b5b" stroke-width="2.3"/>
<line x1="4541.7" y1="1990.1" x2="4541.7" y2="2001.1" stroke="#d75b5b" stroke-width="2.3"/>
<text id="t204" x="4595.8" y="2006.3" font-family="'DejaVu Sans', sans-serif" font-size="30.5" >Scratch</text>
<line x1="4511" y1="2039" x2="4572.5" y2="2039" stroke="#6699c8" stroke-width="2.3"/>
<text id="t205" x="4595.8" y="2049.7" font-family="'DejaVu Sans', sans-serif" font-size="30.5" >FairDRO</text>
</g>
</svg>
</body>
</html>
